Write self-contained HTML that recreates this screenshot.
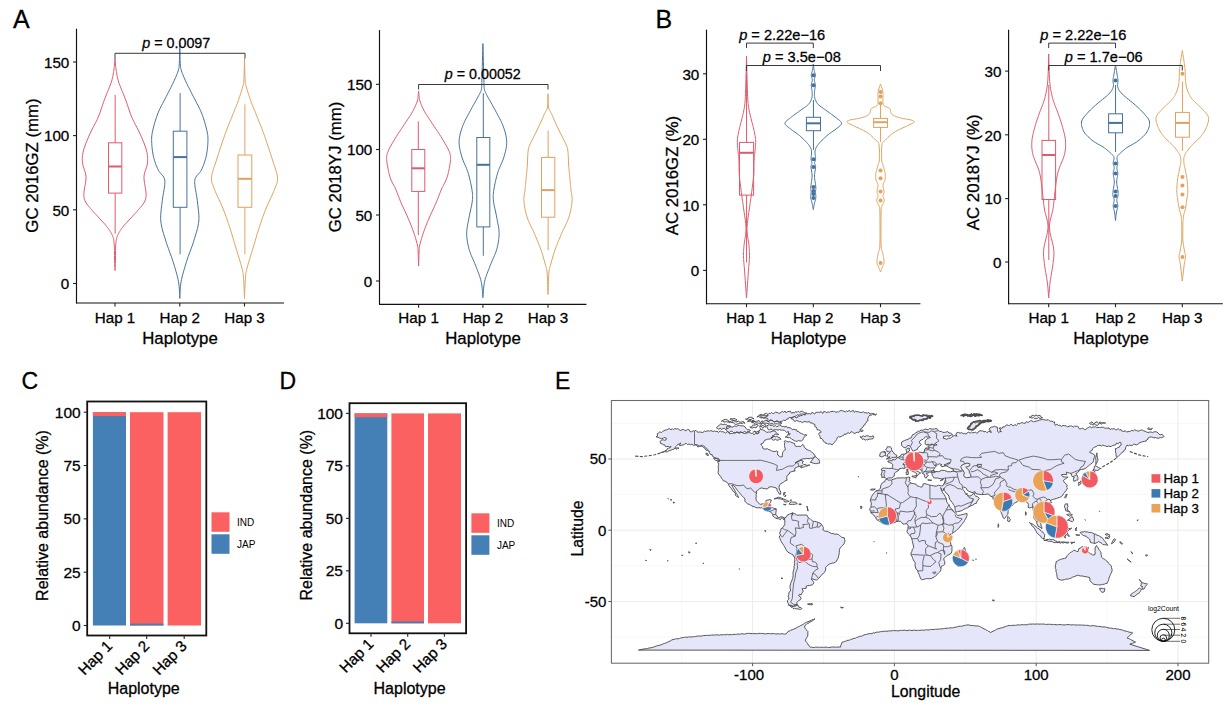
<!DOCTYPE html>
<html><head><meta charset="utf-8"><style>
html,body{margin:0;padding:0;background:#fff;}
svg{display:block;}
text{font-family:"Liberation Sans", sans-serif;fill:#000;stroke:#000;stroke-width:0.28px;}
</style></head><body>
<svg width="1230" height="714" viewBox="0 0 1230 714">
<rect width="1230" height="714" fill="#fff"/>
<text x="13" y="28" font-size="25" text-anchor="start" >A</text>
<text x="655.5" y="28" font-size="25" text-anchor="start" >B</text>
<text x="21.5" y="389" font-size="23" text-anchor="start" >C</text>
<text x="279.5" y="389" font-size="23" text-anchor="start" >D</text>
<text x="555" y="389" font-size="23" text-anchor="start" >E</text>
<line x1="76.5" y1="29" x2="76.5" y2="303" stroke="#111" stroke-width="1.15" stroke-linecap="round"/>
<line x1="76.5" y1="303" x2="283.5" y2="303" stroke="#111" stroke-width="1.15" stroke-linecap="round"/>
<line x1="73.0" y1="62" x2="76.5" y2="62" stroke="#222" stroke-width="1.1"/>
<text x="69.3" y="67.7" font-size="15.2" text-anchor="end" >150</text>
<line x1="73.0" y1="135.6" x2="76.5" y2="135.6" stroke="#222" stroke-width="1.1"/>
<text x="69.3" y="141.3" font-size="15.2" text-anchor="end" >100</text>
<line x1="73.0" y1="209.8" x2="76.5" y2="209.8" stroke="#222" stroke-width="1.1"/>
<text x="69.3" y="215.5" font-size="15.2" text-anchor="end" >50</text>
<line x1="73.0" y1="283.5" x2="76.5" y2="283.5" stroke="#222" stroke-width="1.1"/>
<text x="69.3" y="289.2" font-size="15.2" text-anchor="end" >0</text>
<line x1="115" y1="303" x2="115" y2="306.5" stroke="#222" stroke-width="1.1"/>
<text x="115" y="323" font-size="15.2" text-anchor="middle" >Hap 1</text>
<line x1="179.8" y1="303" x2="179.8" y2="306.5" stroke="#222" stroke-width="1.1"/>
<text x="179.8" y="323" font-size="15.2" text-anchor="middle" >Hap 2</text>
<line x1="244.5" y1="303" x2="244.5" y2="306.5" stroke="#222" stroke-width="1.1"/>
<text x="244.5" y="323" font-size="15.2" text-anchor="middle" >Hap 3</text>
<text x="0" y="0" font-size="16.8" text-anchor="middle" transform="translate(37.5,165.5) rotate(-90)">GC 2016GZ (mm)</text>
<text x="180" y="343.8" font-size="16.8" text-anchor="middle" >Haplotype</text>
<path d="M115.00,58.00 L115.03,58.53 L115.07,59.21 L115.11,60.01 L115.16,60.92 L115.22,61.91 L115.29,62.95 L115.39,64.02 L115.50,65.10 L115.63,66.23 L115.79,67.45 L115.96,68.74 L116.14,70.07 L116.34,71.41 L116.55,72.72 L116.77,74.00 L117.00,75.20 L117.21,76.27 L117.40,77.22 L117.58,78.10 L117.78,78.98 L118.01,79.90 L118.32,80.94 L118.70,82.15 L119.20,83.60 L119.83,85.31 L120.58,87.23 L121.42,89.32 L122.32,91.52 L123.25,93.80 L124.18,96.08 L125.07,98.33 L125.90,100.50 L126.66,102.60 L127.37,104.71 L128.06,106.81 L128.74,108.91 L129.44,111.00 L130.17,113.10 L130.95,115.20 L131.80,117.30 L132.74,119.40 L133.77,121.50 L134.85,123.60 L135.97,125.70 L137.09,127.80 L138.18,129.90 L139.23,132.00 L140.20,134.10 L141.13,136.23 L142.07,138.41 L142.99,140.61 L143.87,142.79 L144.69,144.94 L145.43,147.03 L146.08,149.02 L146.60,150.90 L147.01,152.63 L147.31,154.22 L147.53,155.71 L147.67,157.14 L147.73,158.54 L147.71,159.97 L147.64,161.44 L147.50,163.00 L147.23,164.62 L146.80,166.26 L146.26,167.92 L145.68,169.61 L145.10,171.33 L144.58,173.10 L144.20,174.92 L144.00,176.80 L144.02,178.81 L144.22,180.99 L144.54,183.25 L144.94,185.54 L145.34,187.78 L145.71,189.92 L145.98,191.88 L146.10,193.60 L146.10,195.05 L146.06,196.29 L145.96,197.36 L145.80,198.32 L145.57,199.21 L145.27,200.09 L144.88,201.00 L144.40,202.00 L143.81,203.06 L143.10,204.12 L142.29,205.18 L141.42,206.25 L140.50,207.32 L139.56,208.38 L138.61,209.44 L137.70,210.50 L136.79,211.55 L135.86,212.61 L134.91,213.66 L133.95,214.71 L132.98,215.75 L132.01,216.80 L131.05,217.85 L130.10,218.90 L129.14,219.95 L128.16,221.00 L127.17,222.05 L126.19,223.10 L125.23,224.15 L124.30,225.20 L123.42,226.25 L122.60,227.30 L121.82,228.35 L121.08,229.40 L120.36,230.45 L119.69,231.50 L119.06,232.55 L118.48,233.60 L117.96,234.65 L117.50,235.70 L117.12,236.69 L116.81,237.58 L116.56,238.43 L116.36,239.31 L116.19,240.25 L116.05,241.33 L115.93,242.60 L115.80,244.10 L115.69,245.95 L115.61,248.13 L115.55,250.53 L115.52,253.04 L115.49,255.56 L115.47,257.96 L115.44,260.15 L115.40,262.00 L115.35,263.57 L115.29,264.99 L115.23,266.25 L115.17,267.37 L115.12,268.35 L115.07,269.19 L115.03,269.91 L115.00,270.50 L115.00,270.50 L114.97,269.91 L114.93,269.19 L114.88,268.35 L114.83,267.37 L114.77,266.25 L114.71,264.99 L114.65,263.57 L114.60,262.00 L114.56,260.15 L114.53,257.96 L114.51,255.56 L114.48,253.04 L114.45,250.53 L114.39,248.13 L114.31,245.95 L114.20,244.10 L114.07,242.60 L113.95,241.33 L113.81,240.25 L113.64,239.31 L113.44,238.43 L113.19,237.58 L112.88,236.69 L112.50,235.70 L112.04,234.65 L111.52,233.60 L110.94,232.55 L110.31,231.50 L109.64,230.45 L108.92,229.40 L108.18,228.35 L107.40,227.30 L106.58,226.25 L105.70,225.20 L104.77,224.15 L103.81,223.10 L102.83,222.05 L101.84,221.00 L100.86,219.95 L99.90,218.90 L98.95,217.85 L97.99,216.80 L97.02,215.75 L96.05,214.71 L95.09,213.66 L94.14,212.61 L93.21,211.55 L92.30,210.50 L91.39,209.44 L90.44,208.38 L89.50,207.32 L88.58,206.25 L87.71,205.18 L86.90,204.12 L86.19,203.06 L85.60,202.00 L85.12,201.00 L84.73,200.09 L84.43,199.21 L84.20,198.32 L84.04,197.36 L83.94,196.29 L83.90,195.05 L83.90,193.60 L84.02,191.88 L84.29,189.92 L84.66,187.78 L85.06,185.54 L85.46,183.25 L85.78,180.99 L85.98,178.81 L86.00,176.80 L85.80,174.92 L85.42,173.10 L84.90,171.33 L84.33,169.61 L83.74,167.92 L83.20,166.26 L82.77,164.62 L82.50,163.00 L82.36,161.44 L82.29,159.97 L82.27,158.54 L82.33,157.14 L82.47,155.71 L82.69,154.22 L82.99,152.63 L83.40,150.90 L83.92,149.02 L84.57,147.03 L85.31,144.94 L86.13,142.79 L87.01,140.61 L87.93,138.41 L88.87,136.23 L89.80,134.10 L90.77,132.00 L91.82,129.90 L92.91,127.80 L94.03,125.70 L95.15,123.60 L96.23,121.50 L97.26,119.40 L98.20,117.30 L99.05,115.20 L99.83,113.10 L100.56,111.00 L101.26,108.91 L101.94,106.81 L102.63,104.71 L103.34,102.60 L104.10,100.50 L104.93,98.33 L105.82,96.08 L106.75,93.80 L107.68,91.52 L108.58,89.32 L109.42,87.23 L110.17,85.31 L110.80,83.60 L111.30,82.15 L111.68,80.94 L111.99,79.90 L112.22,78.98 L112.42,78.10 L112.60,77.22 L112.79,76.27 L113.00,75.20 L113.23,74.00 L113.45,72.72 L113.66,71.41 L113.86,70.07 L114.04,68.74 L114.21,67.45 L114.37,66.23 L114.50,65.10 L114.61,64.02 L114.71,62.95 L114.78,61.91 L114.84,60.92 L114.89,60.01 L114.93,59.21 L114.97,58.53 L115.00,58.00 Z" fill="none" stroke="#DE5A6C" stroke-width="1" stroke-linejoin="round"/>
<line x1="115.15" y1="94.9" x2="115.15" y2="142.8" stroke="#DE5A6C" stroke-width="1"/>
<line x1="115.15" y1="193.1" x2="115.15" y2="233.7" stroke="#DE5A6C" stroke-width="1"/>
<rect x="108.5" y="142.8" width="13.30" height="50.30" fill="none" stroke="#DE5A6C" stroke-width="1"/>
<line x1="108.5" y1="166.5" x2="121.8" y2="166.5" stroke="#DE5A6C" stroke-width="2.0"/>
<path d="M179.80,45.00 L179.83,46.52 L179.87,48.63 L179.92,51.14 L179.98,53.89 L180.04,56.70 L180.11,59.39 L180.20,61.78 L180.30,63.70 L180.39,65.13 L180.47,66.24 L180.55,67.11 L180.65,67.84 L180.78,68.50 L180.95,69.19 L181.19,69.99 L181.50,71.00 L181.89,72.18 L182.35,73.43 L182.86,74.74 L183.43,76.11 L184.03,77.52 L184.66,78.96 L185.32,80.42 L186.00,81.90 L186.69,83.37 L187.40,84.84 L188.14,86.32 L188.91,87.84 L189.72,89.42 L190.57,91.08 L191.46,92.83 L192.40,94.70 L193.43,96.72 L194.57,98.87 L195.77,101.13 L197.01,103.46 L198.23,105.84 L199.41,108.22 L200.52,110.59 L201.50,112.90 L202.39,115.22 L203.24,117.62 L204.03,120.04 L204.76,122.45 L205.43,124.80 L206.03,127.06 L206.56,129.17 L207.00,131.10 L207.35,132.79 L207.61,134.27 L207.79,135.59 L207.91,136.82 L207.96,138.03 L207.97,139.27 L207.95,140.60 L207.90,142.10 L207.82,143.76 L207.71,145.52 L207.55,147.36 L207.36,149.24 L207.11,151.15 L206.82,153.04 L206.49,154.90 L206.10,156.70 L205.66,158.46 L205.15,160.23 L204.59,161.99 L203.99,163.73 L203.36,165.43 L202.69,167.09 L202.00,168.68 L201.30,170.20 L200.51,171.56 L199.58,172.72 L198.59,173.79 L197.59,174.82 L196.65,175.91 L195.83,177.14 L195.19,178.57 L194.80,180.30 L194.69,182.35 L194.82,184.66 L195.12,187.17 L195.55,189.81 L196.04,192.54 L196.53,195.29 L196.97,197.99 L197.30,200.60 L197.58,203.14 L197.90,205.67 L198.23,208.21 L198.53,210.75 L198.76,213.29 L198.91,215.82 L198.94,218.36 L198.80,220.90 L198.49,223.44 L198.04,225.98 L197.46,228.52 L196.79,231.06 L196.05,233.59 L195.27,236.13 L194.48,238.67 L193.70,241.20 L192.90,243.73 L192.03,246.25 L191.11,248.78 L190.18,251.30 L189.23,253.82 L188.31,256.35 L187.42,258.87 L186.60,261.40 L185.81,263.96 L185.01,266.55 L184.24,269.16 L183.49,271.77 L182.78,274.35 L182.14,276.88 L181.58,279.33 L181.10,281.70 L180.73,284.07 L180.45,286.52 L180.25,288.96 L180.11,291.32 L180.01,293.52 L179.94,295.48 L179.87,297.14 L179.80,298.40 L179.80,298.40 L179.73,297.14 L179.66,295.48 L179.59,293.52 L179.49,291.32 L179.35,288.96 L179.15,286.52 L178.87,284.07 L178.50,281.70 L178.02,279.33 L177.46,276.88 L176.82,274.35 L176.11,271.77 L175.36,269.16 L174.59,266.55 L173.79,263.96 L173.00,261.40 L172.18,258.87 L171.29,256.35 L170.37,253.82 L169.43,251.30 L168.49,248.78 L167.57,246.25 L166.70,243.73 L165.90,241.20 L165.12,238.67 L164.33,236.13 L163.55,233.59 L162.81,231.06 L162.14,228.52 L161.56,225.98 L161.11,223.44 L160.80,220.90 L160.66,218.36 L160.69,215.82 L160.84,213.29 L161.08,210.75 L161.37,208.21 L161.70,205.67 L162.02,203.14 L162.30,200.60 L162.63,197.99 L163.07,195.29 L163.56,192.54 L164.05,189.81 L164.48,187.17 L164.78,184.66 L164.91,182.35 L164.80,180.30 L164.41,178.57 L163.77,177.14 L162.95,175.91 L162.01,174.82 L161.01,173.79 L160.02,172.72 L159.09,171.56 L158.30,170.20 L157.60,168.68 L156.91,167.09 L156.24,165.43 L155.61,163.73 L155.01,161.99 L154.45,160.23 L153.94,158.46 L153.50,156.70 L153.11,154.90 L152.78,153.04 L152.49,151.15 L152.24,149.24 L152.05,147.36 L151.89,145.52 L151.78,143.76 L151.70,142.10 L151.65,140.60 L151.63,139.27 L151.64,138.03 L151.69,136.82 L151.81,135.59 L151.99,134.27 L152.25,132.79 L152.60,131.10 L153.04,129.17 L153.57,127.06 L154.17,124.80 L154.84,122.45 L155.57,120.04 L156.36,117.62 L157.21,115.22 L158.10,112.90 L159.08,110.59 L160.19,108.22 L161.37,105.84 L162.59,103.46 L163.83,101.13 L165.03,98.87 L166.17,96.72 L167.20,94.70 L168.14,92.83 L169.03,91.08 L169.88,89.42 L170.69,87.84 L171.46,86.32 L172.20,84.84 L172.91,83.37 L173.60,81.90 L174.28,80.42 L174.94,78.96 L175.57,77.52 L176.18,76.11 L176.74,74.74 L177.25,73.43 L177.71,72.18 L178.10,71.00 L178.41,69.99 L178.65,69.19 L178.82,68.50 L178.95,67.84 L179.05,67.11 L179.13,66.24 L179.21,65.13 L179.30,63.70 L179.40,61.78 L179.49,59.39 L179.56,56.70 L179.62,53.89 L179.68,51.14 L179.73,48.63 L179.77,46.52 L179.80,45.00 Z" fill="none" stroke="#45729C" stroke-width="1" stroke-linejoin="round"/>
<line x1="180.10" y1="93.1" x2="180.10" y2="131.2" stroke="#45729C" stroke-width="1"/>
<line x1="180.10" y1="207.3" x2="180.10" y2="254.3" stroke="#45729C" stroke-width="1"/>
<rect x="173.3" y="131.2" width="13.60" height="76.10" fill="none" stroke="#45729C" stroke-width="1"/>
<line x1="173.3" y1="157.1" x2="186.9" y2="157.1" stroke="#45729C" stroke-width="2.0"/>
<path d="M244.50,58.00 L244.54,59.76 L244.59,62.19 L244.64,65.10 L244.71,68.27 L244.78,71.52 L244.87,74.62 L244.98,77.38 L245.10,79.60 L245.22,81.24 L245.34,82.50 L245.46,83.47 L245.60,84.27 L245.77,85.02 L245.99,85.82 L246.26,86.77 L246.60,88.00 L247.02,89.48 L247.51,91.11 L248.05,92.84 L248.64,94.65 L249.27,96.50 L249.91,98.37 L250.56,100.21 L251.20,102.00 L251.85,103.75 L252.53,105.50 L253.23,107.25 L253.94,109.00 L254.66,110.75 L255.38,112.50 L256.09,114.25 L256.80,116.00 L257.50,117.75 L258.22,119.50 L258.93,121.25 L259.64,123.00 L260.35,124.75 L261.05,126.50 L261.73,128.25 L262.40,130.00 L263.04,131.74 L263.67,133.45 L264.28,135.16 L264.88,136.88 L265.47,138.60 L266.07,140.36 L266.68,142.15 L267.30,144.00 L267.94,145.89 L268.58,147.82 L269.24,149.78 L269.89,151.78 L270.55,153.79 L271.21,155.84 L271.86,157.91 L272.50,160.00 L273.19,162.16 L273.95,164.42 L274.74,166.74 L275.51,169.06 L276.22,171.35 L276.82,173.57 L277.26,175.67 L277.50,177.60 L277.55,179.30 L277.45,180.78 L277.21,182.11 L276.86,183.37 L276.39,184.66 L275.84,186.04 L275.20,187.59 L274.50,189.40 L273.67,191.48 L272.68,193.75 L271.58,196.18 L270.39,198.71 L269.18,201.31 L267.98,203.92 L266.84,206.50 L265.80,209.00 L264.84,211.45 L263.93,213.90 L263.04,216.35 L262.18,218.80 L261.34,221.25 L260.51,223.70 L259.70,226.15 L258.90,228.60 L258.11,231.05 L257.35,233.50 L256.61,235.95 L255.89,238.40 L255.17,240.85 L254.45,243.30 L253.73,245.75 L253.00,248.20 L252.23,250.72 L251.42,253.33 L250.60,255.98 L249.78,258.61 L249.00,261.17 L248.27,263.59 L247.63,265.82 L247.10,267.80 L246.69,269.42 L246.38,270.68 L246.16,271.71 L245.99,272.63 L245.87,273.55 L245.76,274.61 L245.64,275.92 L245.50,277.60 L245.34,279.82 L245.18,282.51 L245.04,285.51 L244.90,288.61 L244.78,291.64 L244.67,294.40 L244.57,296.72 L244.50,298.40 L244.50,298.40 L244.43,296.72 L244.33,294.40 L244.22,291.64 L244.10,288.61 L243.96,285.51 L243.82,282.51 L243.66,279.82 L243.50,277.60 L243.36,275.92 L243.24,274.61 L243.13,273.55 L243.01,272.63 L242.84,271.71 L242.62,270.68 L242.31,269.42 L241.90,267.80 L241.37,265.82 L240.73,263.59 L240.00,261.17 L239.22,258.61 L238.40,255.98 L237.58,253.33 L236.77,250.72 L236.00,248.20 L235.27,245.75 L234.55,243.30 L233.83,240.85 L233.11,238.40 L232.39,235.95 L231.65,233.50 L230.89,231.05 L230.10,228.60 L229.30,226.15 L228.49,223.70 L227.66,221.25 L226.82,218.80 L225.96,216.35 L225.07,213.90 L224.16,211.45 L223.20,209.00 L222.16,206.50 L221.02,203.92 L219.82,201.31 L218.61,198.71 L217.42,196.18 L216.32,193.75 L215.33,191.48 L214.50,189.40 L213.80,187.59 L213.16,186.04 L212.61,184.66 L212.14,183.37 L211.79,182.11 L211.55,180.78 L211.45,179.30 L211.50,177.60 L211.74,175.67 L212.18,173.57 L212.78,171.35 L213.49,169.06 L214.26,166.74 L215.05,164.42 L215.81,162.16 L216.50,160.00 L217.14,157.91 L217.79,155.84 L218.45,153.79 L219.11,151.78 L219.76,149.78 L220.42,147.82 L221.06,145.89 L221.70,144.00 L222.32,142.15 L222.93,140.36 L223.53,138.60 L224.12,136.88 L224.72,135.16 L225.33,133.45 L225.96,131.74 L226.60,130.00 L227.27,128.25 L227.95,126.50 L228.65,124.75 L229.36,123.00 L230.07,121.25 L230.78,119.50 L231.50,117.75 L232.20,116.00 L232.91,114.25 L233.62,112.50 L234.34,110.75 L235.06,109.00 L235.77,107.25 L236.47,105.50 L237.15,103.75 L237.80,102.00 L238.44,100.21 L239.09,98.37 L239.73,96.50 L240.36,94.65 L240.95,92.84 L241.49,91.11 L241.98,89.48 L242.40,88.00 L242.74,86.77 L243.01,85.82 L243.23,85.02 L243.40,84.27 L243.54,83.47 L243.66,82.50 L243.78,81.24 L243.90,79.60 L244.02,77.38 L244.13,74.62 L244.22,71.52 L244.29,68.27 L244.36,65.10 L244.41,62.19 L244.46,59.76 L244.50,58.00 Z" fill="none" stroke="#E0A25E" stroke-width="1" stroke-linejoin="round"/>
<line x1="244.90" y1="104.4" x2="244.90" y2="155" stroke="#E0A25E" stroke-width="1"/>
<line x1="244.90" y1="207.3" x2="244.90" y2="254.3" stroke="#E0A25E" stroke-width="1"/>
<rect x="238" y="155" width="13.80" height="52.30" fill="none" stroke="#E0A25E" stroke-width="1"/>
<line x1="238" y1="178.8" x2="251.8" y2="178.8" stroke="#E0A25E" stroke-width="2.0"/>
<path d="M115,58.3 L115,53.3 L245,53.3 L245,58.3" fill="none" stroke="#3a3a3a" stroke-width="1"/>
<text x="176.3" y="47.5" font-size="14.3" text-anchor="middle"><tspan font-style="italic">p</tspan> = 0.0097</text>
<line x1="379.5" y1="30.5" x2="379.5" y2="304.3" stroke="#111" stroke-width="1.15" stroke-linecap="round"/>
<line x1="379.5" y1="304.3" x2="586" y2="304.3" stroke="#111" stroke-width="1.15" stroke-linecap="round"/>
<line x1="376.0" y1="84.3" x2="379.5" y2="84.3" stroke="#222" stroke-width="1.1"/>
<text x="372.3" y="90.0" font-size="15.2" text-anchor="end" >150</text>
<line x1="376.0" y1="149.5" x2="379.5" y2="149.5" stroke="#222" stroke-width="1.1"/>
<text x="372.3" y="155.2" font-size="15.2" text-anchor="end" >100</text>
<line x1="376.0" y1="215" x2="379.5" y2="215" stroke="#222" stroke-width="1.1"/>
<text x="372.3" y="220.7" font-size="15.2" text-anchor="end" >50</text>
<line x1="376.0" y1="281" x2="379.5" y2="281" stroke="#222" stroke-width="1.1"/>
<text x="372.3" y="286.7" font-size="15.2" text-anchor="end" >0</text>
<line x1="418.6" y1="304.3" x2="418.6" y2="307.8" stroke="#222" stroke-width="1.1"/>
<text x="418.6" y="323" font-size="15.2" text-anchor="middle" >Hap 1</text>
<line x1="482.9" y1="304.3" x2="482.9" y2="307.8" stroke="#222" stroke-width="1.1"/>
<text x="482.9" y="323" font-size="15.2" text-anchor="middle" >Hap 2</text>
<line x1="548" y1="304.3" x2="548" y2="307.8" stroke="#222" stroke-width="1.1"/>
<text x="548" y="323" font-size="15.2" text-anchor="middle" >Hap 3</text>
<text x="0" y="0" font-size="16.8" text-anchor="middle" transform="translate(340.5,167) rotate(-90)">GC 2018YJ (mm)</text>
<text x="483" y="343.8" font-size="16.8" text-anchor="middle" >Haplotype</text>
<path d="M418.60,91.00 L418.64,91.35 L418.68,91.81 L418.74,92.35 L418.80,92.96 L418.87,93.61 L418.94,94.29 L419.02,94.96 L419.10,95.60 L419.16,96.20 L419.19,96.77 L419.21,97.34 L419.24,97.92 L419.30,98.56 L419.42,99.27 L419.61,100.07 L419.90,101.00 L420.27,102.06 L420.71,103.22 L421.21,104.48 L421.76,105.81 L422.38,107.20 L423.06,108.64 L423.80,110.11 L424.60,111.60 L425.49,113.13 L426.47,114.74 L427.53,116.39 L428.65,118.08 L429.80,119.79 L430.95,121.51 L432.09,123.22 L433.20,124.90 L434.29,126.56 L435.40,128.22 L436.52,129.89 L437.63,131.55 L438.74,133.21 L439.82,134.87 L440.88,136.54 L441.90,138.20 L442.92,139.90 L443.96,141.65 L445.00,143.42 L446.01,145.18 L446.96,146.90 L447.83,148.55 L448.58,150.09 L449.20,151.50 L449.67,152.73 L450.02,153.78 L450.27,154.71 L450.43,155.58 L450.51,156.44 L450.54,157.34 L450.53,158.34 L450.50,159.50 L450.42,160.83 L450.26,162.30 L450.05,163.86 L449.79,165.47 L449.50,167.08 L449.19,168.65 L448.89,170.14 L448.60,171.50 L448.33,172.73 L448.06,173.86 L447.79,174.92 L447.51,175.94 L447.21,176.93 L446.88,177.92 L446.51,178.94 L446.10,180.00 L445.64,181.07 L445.14,182.10 L444.61,183.12 L444.04,184.16 L443.46,185.24 L442.85,186.39 L442.23,187.63 L441.60,189.00 L440.96,190.51 L440.30,192.15 L439.62,193.88 L438.92,195.69 L438.21,197.53 L437.48,199.38 L436.75,201.22 L436.00,203.00 L435.23,204.75 L434.44,206.50 L433.62,208.25 L432.80,210.00 L431.98,211.75 L431.16,213.50 L430.37,215.25 L429.60,217.00 L428.85,218.75 L428.11,220.50 L427.38,222.25 L426.66,224.00 L425.96,225.75 L425.28,227.50 L424.63,229.25 L424.00,231.00 L423.38,232.80 L422.77,234.66 L422.17,236.56 L421.59,238.44 L421.06,240.26 L420.57,241.99 L420.15,243.58 L419.80,245.00 L419.54,246.16 L419.37,247.08 L419.27,247.83 L419.22,248.50 L419.19,249.17 L419.18,249.92 L419.15,250.84 L419.10,252.00 L419.02,253.51 L418.95,255.34 L418.88,257.35 L418.81,259.44 L418.74,261.47 L418.69,263.32 L418.64,264.87 L418.60,266.00 L418.60,266.00 L418.56,264.87 L418.51,263.32 L418.46,261.47 L418.39,259.44 L418.32,257.35 L418.25,255.34 L418.18,253.51 L418.10,252.00 L418.05,250.84 L418.02,249.92 L418.01,249.17 L417.98,248.50 L417.93,247.83 L417.83,247.08 L417.66,246.16 L417.40,245.00 L417.05,243.58 L416.63,241.99 L416.14,240.26 L415.61,238.44 L415.03,236.56 L414.43,234.66 L413.82,232.80 L413.20,231.00 L412.57,229.25 L411.92,227.50 L411.24,225.75 L410.54,224.00 L409.82,222.25 L409.09,220.50 L408.35,218.75 L407.60,217.00 L406.83,215.25 L406.04,213.50 L405.22,211.75 L404.40,210.00 L403.58,208.25 L402.76,206.50 L401.97,204.75 L401.20,203.00 L400.45,201.22 L399.72,199.38 L398.99,197.53 L398.28,195.69 L397.58,193.88 L396.90,192.15 L396.24,190.51 L395.60,189.00 L394.97,187.63 L394.35,186.39 L393.74,185.24 L393.16,184.16 L392.59,183.12 L392.06,182.10 L391.56,181.07 L391.10,180.00 L390.69,178.94 L390.32,177.92 L389.99,176.93 L389.69,175.94 L389.41,174.92 L389.14,173.86 L388.87,172.73 L388.60,171.50 L388.31,170.14 L388.01,168.65 L387.70,167.08 L387.41,165.47 L387.15,163.86 L386.94,162.30 L386.78,160.83 L386.70,159.50 L386.67,158.34 L386.66,157.34 L386.69,156.44 L386.78,155.58 L386.93,154.71 L387.18,153.78 L387.53,152.73 L388.00,151.50 L388.62,150.09 L389.37,148.55 L390.24,146.90 L391.19,145.18 L392.20,143.42 L393.24,141.65 L394.28,139.90 L395.30,138.20 L396.32,136.54 L397.38,134.87 L398.46,133.21 L399.57,131.55 L400.68,129.89 L401.80,128.22 L402.91,126.56 L404.00,124.90 L405.11,123.22 L406.25,121.51 L407.40,119.79 L408.55,118.08 L409.67,116.39 L410.73,114.74 L411.71,113.13 L412.60,111.60 L413.40,110.11 L414.14,108.64 L414.82,107.20 L415.44,105.81 L415.99,104.48 L416.49,103.22 L416.93,102.06 L417.30,101.00 L417.59,100.07 L417.78,99.27 L417.90,98.56 L417.96,97.92 L417.99,97.34 L418.01,96.77 L418.04,96.20 L418.10,95.60 L418.18,94.96 L418.26,94.29 L418.33,93.61 L418.40,92.96 L418.46,92.35 L418.52,91.81 L418.56,91.35 L418.60,91.00 Z" fill="none" stroke="#DE5A6C" stroke-width="1" stroke-linejoin="round"/>
<line x1="418.30" y1="121.3" x2="418.30" y2="149.5" stroke="#DE5A6C" stroke-width="1"/>
<line x1="418.30" y1="191.4" x2="418.30" y2="235" stroke="#DE5A6C" stroke-width="1"/>
<rect x="411.8" y="149.5" width="13.00" height="41.90" fill="none" stroke="#DE5A6C" stroke-width="1"/>
<line x1="411.8" y1="168.3" x2="424.8" y2="168.3" stroke="#DE5A6C" stroke-width="2.0"/>
<path d="M482.90,43.60 L482.98,46.59 L483.09,50.78 L483.22,55.77 L483.37,61.22 L483.52,66.74 L483.66,71.95 L483.79,76.50 L483.90,80.00 L483.97,82.48 L484.01,84.31 L484.03,85.61 L484.05,86.54 L484.08,87.24 L484.14,87.84 L484.24,88.48 L484.40,89.30 L484.58,90.15 L484.76,90.83 L484.96,91.41 L485.20,91.97 L485.50,92.57 L485.89,93.30 L486.38,94.21 L487.00,95.40 L487.79,96.88 L488.73,98.59 L489.79,100.49 L490.93,102.51 L492.11,104.61 L493.29,106.73 L494.44,108.81 L495.50,110.80 L496.53,112.73 L497.58,114.67 L498.63,116.61 L499.66,118.55 L500.66,120.49 L501.59,122.43 L502.44,124.37 L503.20,126.30 L503.88,128.23 L504.52,130.16 L505.10,132.08 L505.61,134.01 L506.03,135.93 L506.37,137.85 L506.59,139.78 L506.70,141.70 L506.67,143.62 L506.52,145.55 L506.26,147.47 L505.90,149.40 L505.47,151.32 L504.98,153.25 L504.45,155.17 L503.90,157.10 L503.28,159.01 L502.56,160.90 L501.76,162.78 L500.92,164.67 L500.08,166.57 L499.25,168.50 L498.48,170.47 L497.80,172.50 L497.17,174.63 L496.57,176.88 L495.98,179.19 L495.44,181.52 L494.94,183.81 L494.49,186.03 L494.11,188.10 L493.80,190.00 L493.56,191.66 L493.38,193.11 L493.26,194.41 L493.20,195.64 L493.19,196.85 L493.24,198.12 L493.34,199.52 L493.50,201.10 L493.74,202.87 L494.07,204.77 L494.48,206.77 L494.93,208.84 L495.40,210.94 L495.87,213.06 L496.31,215.15 L496.70,217.20 L497.07,219.21 L497.47,221.22 L497.87,223.24 L498.25,225.25 L498.59,227.26 L498.86,229.28 L499.04,231.29 L499.10,233.30 L499.06,235.31 L498.93,237.33 L498.73,239.34 L498.46,241.35 L498.11,243.36 L497.70,245.38 L497.23,247.39 L496.70,249.40 L496.08,251.41 L495.34,253.43 L494.52,255.44 L493.65,257.45 L492.75,259.46 L491.86,261.48 L491.00,263.49 L490.20,265.50 L489.43,267.51 L488.65,269.52 L487.86,271.54 L487.10,273.55 L486.37,275.56 L485.70,277.57 L485.11,279.59 L484.60,281.60 L484.19,283.72 L483.86,286.00 L483.60,288.35 L483.40,290.66 L483.24,292.84 L483.11,294.81 L483.00,296.46 L482.90,297.70 L482.90,297.70 L482.80,296.46 L482.69,294.81 L482.56,292.84 L482.40,290.66 L482.20,288.35 L481.94,286.00 L481.61,283.72 L481.20,281.60 L480.69,279.59 L480.10,277.57 L479.43,275.56 L478.70,273.55 L477.94,271.54 L477.15,269.52 L476.37,267.51 L475.60,265.50 L474.80,263.49 L473.94,261.48 L473.05,259.46 L472.15,257.45 L471.28,255.44 L470.46,253.43 L469.72,251.41 L469.10,249.40 L468.57,247.39 L468.10,245.38 L467.69,243.36 L467.34,241.35 L467.07,239.34 L466.87,237.33 L466.74,235.31 L466.70,233.30 L466.76,231.29 L466.94,229.28 L467.21,227.26 L467.55,225.25 L467.93,223.24 L468.33,221.22 L468.73,219.21 L469.10,217.20 L469.49,215.15 L469.93,213.06 L470.40,210.94 L470.87,208.84 L471.32,206.77 L471.73,204.77 L472.06,202.87 L472.30,201.10 L472.46,199.52 L472.56,198.12 L472.61,196.85 L472.60,195.64 L472.54,194.41 L472.42,193.11 L472.24,191.66 L472.00,190.00 L471.69,188.10 L471.31,186.03 L470.86,183.81 L470.36,181.52 L469.82,179.19 L469.23,176.88 L468.63,174.63 L468.00,172.50 L467.32,170.47 L466.55,168.50 L465.72,166.57 L464.88,164.67 L464.04,162.78 L463.24,160.90 L462.52,159.01 L461.90,157.10 L461.35,155.17 L460.82,153.25 L460.33,151.32 L459.90,149.40 L459.54,147.47 L459.28,145.55 L459.13,143.62 L459.10,141.70 L459.21,139.78 L459.43,137.85 L459.77,135.93 L460.19,134.01 L460.70,132.08 L461.28,130.16 L461.92,128.23 L462.60,126.30 L463.36,124.37 L464.21,122.43 L465.14,120.49 L466.14,118.55 L467.17,116.61 L468.22,114.67 L469.27,112.73 L470.30,110.80 L471.36,108.81 L472.51,106.73 L473.69,104.61 L474.87,102.51 L476.01,100.49 L477.07,98.59 L478.01,96.88 L478.80,95.40 L479.42,94.21 L479.91,93.30 L480.30,92.57 L480.60,91.97 L480.84,91.41 L481.04,90.83 L481.22,90.15 L481.40,89.30 L481.56,88.48 L481.66,87.84 L481.72,87.24 L481.75,86.54 L481.77,85.61 L481.79,84.31 L481.83,82.48 L481.90,80.00 L482.01,76.50 L482.14,71.95 L482.28,66.74 L482.43,61.22 L482.58,55.77 L482.71,50.78 L482.82,46.59 L482.90,43.60 Z" fill="none" stroke="#45729C" stroke-width="1" stroke-linejoin="round"/>
<line x1="483.30" y1="93.1" x2="483.30" y2="137.5" stroke="#45729C" stroke-width="1"/>
<line x1="483.30" y1="226.9" x2="483.30" y2="255.8" stroke="#45729C" stroke-width="1"/>
<rect x="476.8" y="137.5" width="13.00" height="89.40" fill="none" stroke="#45729C" stroke-width="1"/>
<line x1="476.8" y1="164.8" x2="489.8" y2="164.8" stroke="#45729C" stroke-width="2.0"/>
<path d="M548.00,93.80 L548.02,94.86 L548.02,96.31 L548.03,98.04 L548.04,99.94 L548.09,101.89 L548.17,103.80 L548.30,105.54 L548.50,107.00 L548.76,108.15 L549.05,109.09 L549.39,109.88 L549.77,110.61 L550.20,111.35 L550.68,112.17 L551.21,113.17 L551.80,114.40 L552.46,115.89 L553.20,117.56 L554.00,119.38 L554.85,121.29 L555.73,123.27 L556.62,125.25 L557.52,127.21 L558.40,129.10 L559.31,130.99 L560.30,132.95 L561.31,134.93 L562.33,136.91 L563.31,138.82 L564.22,140.64 L565.03,142.31 L565.70,143.80 L566.23,145.02 L566.64,145.99 L566.96,146.79 L567.21,147.50 L567.40,148.21 L567.57,149.01 L567.73,149.98 L567.90,151.20 L568.06,152.69 L568.18,154.36 L568.28,156.18 L568.35,158.09 L568.42,160.07 L568.49,162.05 L568.58,164.01 L568.70,165.90 L568.85,167.77 L569.02,169.70 L569.20,171.65 L569.39,173.58 L569.59,175.48 L569.77,177.30 L569.94,179.02 L570.10,180.60 L570.24,182.02 L570.36,183.28 L570.47,184.44 L570.57,185.53 L570.67,186.58 L570.77,187.65 L570.88,188.78 L571.00,190.00 L571.16,191.27 L571.36,192.54 L571.59,193.82 L571.81,195.13 L571.99,196.50 L572.12,197.93 L572.17,199.46 L572.10,201.10 L571.93,202.87 L571.70,204.77 L571.39,206.77 L571.02,208.84 L570.58,210.94 L570.08,213.06 L569.52,215.15 L568.90,217.20 L568.19,219.21 L567.36,221.22 L566.46,223.24 L565.51,225.25 L564.52,227.26 L563.54,229.28 L562.59,231.29 L561.70,233.30 L560.84,235.31 L559.99,237.33 L559.14,239.34 L558.30,241.35 L557.48,243.36 L556.69,245.38 L555.93,247.39 L555.20,249.40 L554.50,251.47 L553.81,253.61 L553.13,255.79 L552.49,257.96 L551.89,260.06 L551.34,262.04 L550.84,263.88 L550.40,265.50 L550.04,266.80 L549.76,267.77 L549.53,268.53 L549.35,269.20 L549.20,269.91 L549.07,270.78 L548.94,271.94 L548.80,273.50 L548.66,275.64 L548.52,278.31 L548.41,281.31 L548.30,284.45 L548.21,287.53 L548.12,290.34 L548.06,292.70 L548.00,294.40 L548.00,294.40 L547.94,292.70 L547.88,290.34 L547.79,287.53 L547.70,284.45 L547.59,281.31 L547.48,278.31 L547.34,275.64 L547.20,273.50 L547.06,271.94 L546.93,270.78 L546.80,269.91 L546.65,269.20 L546.47,268.53 L546.24,267.77 L545.96,266.80 L545.60,265.50 L545.16,263.88 L544.66,262.04 L544.11,260.06 L543.51,257.96 L542.87,255.79 L542.19,253.61 L541.50,251.47 L540.80,249.40 L540.07,247.39 L539.31,245.38 L538.52,243.36 L537.70,241.35 L536.86,239.34 L536.01,237.33 L535.16,235.31 L534.30,233.30 L533.41,231.29 L532.46,229.28 L531.48,227.26 L530.49,225.25 L529.54,223.24 L528.64,221.22 L527.81,219.21 L527.10,217.20 L526.48,215.15 L525.92,213.06 L525.42,210.94 L524.98,208.84 L524.61,206.77 L524.30,204.77 L524.07,202.87 L523.90,201.10 L523.83,199.46 L523.88,197.93 L524.01,196.50 L524.19,195.13 L524.41,193.82 L524.64,192.54 L524.84,191.27 L525.00,190.00 L525.12,188.78 L525.23,187.65 L525.33,186.58 L525.43,185.53 L525.53,184.44 L525.64,183.28 L525.76,182.02 L525.90,180.60 L526.06,179.02 L526.23,177.30 L526.41,175.48 L526.61,173.58 L526.80,171.65 L526.98,169.70 L527.15,167.77 L527.30,165.90 L527.42,164.01 L527.51,162.05 L527.58,160.07 L527.65,158.09 L527.72,156.18 L527.82,154.36 L527.94,152.69 L528.10,151.20 L528.27,149.98 L528.43,149.01 L528.60,148.21 L528.79,147.50 L529.04,146.79 L529.36,145.99 L529.77,145.02 L530.30,143.80 L530.97,142.31 L531.78,140.64 L532.69,138.82 L533.67,136.91 L534.69,134.93 L535.70,132.95 L536.69,130.99 L537.60,129.10 L538.48,127.21 L539.38,125.25 L540.27,123.27 L541.15,121.29 L542.00,119.38 L542.80,117.56 L543.54,115.89 L544.20,114.40 L544.79,113.17 L545.32,112.17 L545.80,111.35 L546.23,110.61 L546.61,109.88 L546.95,109.09 L547.24,108.15 L547.50,107.00 L547.70,105.54 L547.83,103.80 L547.91,101.89 L547.96,99.94 L547.97,98.04 L547.98,96.31 L547.98,94.86 L548.00,93.80 Z" fill="none" stroke="#E0A25E" stroke-width="1" stroke-linejoin="round"/>
<line x1="548.15" y1="130.6" x2="548.15" y2="157.4" stroke="#E0A25E" stroke-width="1"/>
<line x1="548.15" y1="217.2" x2="548.15" y2="250.2" stroke="#E0A25E" stroke-width="1"/>
<rect x="541.5" y="157.4" width="13.30" height="59.80" fill="none" stroke="#E0A25E" stroke-width="1"/>
<line x1="541.5" y1="190.1" x2="554.8" y2="190.1" stroke="#E0A25E" stroke-width="2.0"/>
<path d="M418.6,89.5 L418.6,84.5 L548,84.5 L548,89.5" fill="none" stroke="#3a3a3a" stroke-width="1"/>
<text x="482.8" y="79" font-size="14.3" text-anchor="middle"><tspan font-style="italic">p</tspan> = 0.00052</text>
<line x1="706.5" y1="30" x2="706.5" y2="303.7" stroke="#111" stroke-width="1.15" stroke-linecap="round"/>
<line x1="706.5" y1="303.7" x2="920" y2="303.7" stroke="#111" stroke-width="1.15" stroke-linecap="round"/>
<line x1="703.0" y1="73.8" x2="706.5" y2="73.8" stroke="#222" stroke-width="1.1"/>
<text x="699.3" y="79.5" font-size="15.2" text-anchor="end" >30</text>
<line x1="703.0" y1="139.3" x2="706.5" y2="139.3" stroke="#222" stroke-width="1.1"/>
<text x="699.3" y="145.0" font-size="15.2" text-anchor="end" >20</text>
<line x1="703.0" y1="204.8" x2="706.5" y2="204.8" stroke="#222" stroke-width="1.1"/>
<text x="699.3" y="210.5" font-size="15.2" text-anchor="end" >10</text>
<line x1="703.0" y1="270.4" x2="706.5" y2="270.4" stroke="#222" stroke-width="1.1"/>
<text x="699.3" y="276.1" font-size="15.2" text-anchor="end" >0</text>
<line x1="746.5" y1="303.7" x2="746.5" y2="307.2" stroke="#222" stroke-width="1.1"/>
<text x="746.5" y="323" font-size="15.2" text-anchor="middle" >Hap 1</text>
<line x1="813.3" y1="303.7" x2="813.3" y2="307.2" stroke="#222" stroke-width="1.1"/>
<text x="813.3" y="323" font-size="15.2" text-anchor="middle" >Hap 2</text>
<line x1="880.5" y1="303.7" x2="880.5" y2="307.2" stroke="#222" stroke-width="1.1"/>
<text x="880.5" y="323" font-size="15.2" text-anchor="middle" >Hap 3</text>
<text x="0" y="0" font-size="16.8" text-anchor="middle" transform="translate(678,175.5) rotate(-90)">AC 2016GZ (%)</text>
<text x="808.5" y="343.8" font-size="16.8" text-anchor="middle" >Haplotype</text>
<path d="M746.50,56.00 L746.58,59.07 L746.67,63.33 L746.79,68.42 L746.92,73.97 L747.07,79.64 L747.21,85.06 L747.36,89.86 L747.50,93.70 L747.63,96.60 L747.75,98.91 L747.87,100.76 L747.99,102.29 L748.13,103.62 L748.29,104.88 L748.48,106.19 L748.70,107.70 L748.97,109.33 L749.27,110.94 L749.61,112.52 L749.96,114.08 L750.33,115.60 L750.70,117.10 L751.06,118.57 L751.40,120.00 L751.74,121.39 L752.08,122.73 L752.42,124.03 L752.76,125.31 L753.10,126.57 L753.42,127.83 L753.72,129.10 L754.00,130.40 L754.27,131.70 L754.55,133.00 L754.82,134.29 L755.07,135.59 L755.29,136.90 L755.48,138.23 L755.62,139.60 L755.70,141.00 L755.71,142.47 L755.66,144.02 L755.55,145.61 L755.41,147.21 L755.24,148.80 L755.08,150.35 L754.93,151.83 L754.80,153.20 L754.69,154.43 L754.58,155.54 L754.47,156.56 L754.36,157.55 L754.26,158.54 L754.16,159.58 L754.08,160.72 L754.00,162.00 L753.95,163.38 L753.94,164.79 L753.94,166.26 L753.95,167.80 L753.94,169.43 L753.91,171.16 L753.83,173.01 L753.70,175.00 L753.50,177.21 L753.23,179.68 L752.93,182.30 L752.59,185.01 L752.25,187.72 L751.91,190.34 L751.59,192.80 L751.30,195.00 L751.05,196.89 L750.82,198.52 L750.61,199.98 L750.41,201.35 L750.20,202.73 L749.99,204.21 L749.75,205.87 L749.50,207.80 L749.19,210.04 L748.82,212.53 L748.42,215.18 L748.01,217.94 L747.64,220.73 L747.33,223.48 L747.10,226.13 L747.00,228.60 L747.04,230.95 L747.22,233.25 L747.49,235.50 L747.81,237.69 L748.16,239.81 L748.50,241.84 L748.79,243.77 L749.00,245.60 L749.14,247.27 L749.27,248.78 L749.36,250.17 L749.44,251.49 L749.49,252.77 L749.52,254.07 L749.52,255.44 L749.50,256.90 L749.45,258.36 L749.38,259.72 L749.28,261.06 L749.16,262.46 L749.01,263.99 L748.86,265.72 L748.68,267.73 L748.50,270.10 L748.28,273.07 L748.02,276.70 L747.74,280.71 L747.44,284.88 L747.15,288.93 L746.88,292.64 L746.66,295.75 L746.50,298.00 L746.50,298.00 L746.34,295.75 L746.12,292.64 L745.85,288.93 L745.56,284.88 L745.26,280.71 L744.98,276.70 L744.72,273.07 L744.50,270.10 L744.32,267.73 L744.14,265.72 L743.99,263.99 L743.84,262.46 L743.72,261.06 L743.62,259.72 L743.55,258.36 L743.50,256.90 L743.48,255.44 L743.48,254.07 L743.51,252.77 L743.56,251.49 L743.64,250.17 L743.73,248.78 L743.86,247.27 L744.00,245.60 L744.21,243.77 L744.50,241.84 L744.84,239.81 L745.19,237.69 L745.51,235.50 L745.78,233.25 L745.96,230.95 L746.00,228.60 L745.90,226.13 L745.67,223.48 L745.36,220.73 L744.99,217.94 L744.58,215.18 L744.18,212.53 L743.81,210.04 L743.50,207.80 L743.25,205.87 L743.01,204.21 L742.80,202.73 L742.59,201.35 L742.39,199.98 L742.18,198.52 L741.95,196.89 L741.70,195.00 L741.41,192.80 L741.09,190.34 L740.75,187.72 L740.41,185.01 L740.07,182.30 L739.77,179.68 L739.50,177.21 L739.30,175.00 L739.17,173.01 L739.09,171.16 L739.06,169.43 L739.05,167.80 L739.06,166.26 L739.06,164.79 L739.05,163.38 L739.00,162.00 L738.92,160.72 L738.84,159.58 L738.74,158.54 L738.64,157.55 L738.53,156.56 L738.42,155.54 L738.31,154.43 L738.20,153.20 L738.07,151.83 L737.92,150.35 L737.76,148.80 L737.59,147.21 L737.45,145.61 L737.34,144.02 L737.29,142.47 L737.30,141.00 L737.38,139.60 L737.52,138.23 L737.71,136.90 L737.93,135.59 L738.18,134.29 L738.45,133.00 L738.73,131.70 L739.00,130.40 L739.28,129.10 L739.58,127.83 L739.90,126.57 L740.24,125.31 L740.58,124.03 L740.92,122.73 L741.26,121.39 L741.60,120.00 L741.94,118.57 L742.30,117.10 L742.67,115.60 L743.04,114.08 L743.39,112.52 L743.73,110.94 L744.03,109.33 L744.30,107.70 L744.52,106.19 L744.71,104.88 L744.87,103.62 L745.01,102.29 L745.13,100.76 L745.25,98.91 L745.37,96.60 L745.50,93.70 L745.64,89.86 L745.79,85.06 L745.93,79.64 L746.08,73.97 L746.21,68.42 L746.33,63.33 L746.42,59.07 L746.50,56.00 Z" fill="none" stroke="#DE5A6C" stroke-width="1" stroke-linejoin="round"/>
<line x1="746.55" y1="73" x2="746.55" y2="142.4" stroke="#DE5A6C" stroke-width="1"/>
<line x1="746.55" y1="195.1" x2="746.55" y2="262.5" stroke="#DE5A6C" stroke-width="1"/>
<rect x="739.5" y="142.4" width="14.10" height="52.70" fill="none" stroke="#DE5A6C" stroke-width="1"/>
<line x1="739.5" y1="152.8" x2="753.6" y2="152.8" stroke="#DE5A6C" stroke-width="2.0"/>
<path d="M813.30,64.00 L813.36,64.47 L813.43,65.10 L813.52,65.85 L813.62,66.67 L813.74,67.54 L813.85,68.42 L813.98,69.25 L814.10,70.00 L814.25,70.69 L814.42,71.37 L814.62,72.03 L814.81,72.68 L814.99,73.31 L815.15,73.95 L815.25,74.57 L815.30,75.20 L815.27,75.82 L815.16,76.42 L815.00,77.01 L814.81,77.60 L814.63,78.19 L814.46,78.78 L814.34,79.38 L814.30,80.00 L814.34,80.62 L814.45,81.23 L814.61,81.85 L814.79,82.48 L814.97,83.12 L815.13,83.78 L815.25,84.47 L815.30,85.20 L815.28,85.98 L815.20,86.81 L815.08,87.67 L814.94,88.55 L814.80,89.44 L814.66,90.32 L814.56,91.18 L814.50,92.00 L814.46,92.79 L814.43,93.55 L814.40,94.30 L814.39,95.03 L814.42,95.76 L814.49,96.50 L814.61,97.24 L814.80,98.00 L815.03,98.77 L815.28,99.54 L815.57,100.32 L815.91,101.11 L816.32,101.90 L816.81,102.69 L817.40,103.49 L818.10,104.30 L818.94,105.12 L819.93,105.95 L821.02,106.78 L822.19,107.62 L823.41,108.47 L824.64,109.32 L825.84,110.16 L827.00,111.00 L828.14,111.85 L829.32,112.70 L830.52,113.56 L831.71,114.42 L832.87,115.27 L833.99,116.10 L835.04,116.92 L836.00,117.70 L836.94,118.45 L837.90,119.17 L838.84,119.88 L839.71,120.56 L840.47,121.24 L841.07,121.92 L841.46,122.60 L841.60,123.30 L841.46,124.00 L841.07,124.70 L840.47,125.39 L839.71,126.09 L838.84,126.79 L837.90,127.51 L836.94,128.24 L836.00,129.00 L835.04,129.77 L833.99,130.53 L832.87,131.30 L831.71,132.09 L830.52,132.91 L829.32,133.76 L828.14,134.65 L827.00,135.60 L825.84,136.63 L824.63,137.74 L823.40,138.91 L822.17,140.11 L821.00,141.31 L819.91,142.48 L818.93,143.58 L818.10,144.60 L817.42,145.51 L816.85,146.34 L816.39,147.11 L816.01,147.85 L815.71,148.58 L815.47,149.33 L815.27,150.13 L815.10,151.00 L815.01,151.97 L815.01,153.03 L815.10,154.14 L815.22,155.26 L815.37,156.37 L815.50,157.42 L815.59,158.37 L815.60,159.20 L815.53,159.88 L815.41,160.45 L815.25,160.94 L815.07,161.36 L814.89,161.75 L814.74,162.14 L814.64,162.55 L814.60,163.00 L814.64,163.46 L814.76,163.87 L814.92,164.27 L815.11,164.68 L815.29,165.12 L815.45,165.64 L815.56,166.26 L815.60,167.00 L815.55,167.87 L815.42,168.85 L815.24,169.92 L815.03,171.06 L814.83,172.26 L814.66,173.49 L814.54,174.75 L814.50,176.00 L814.56,177.32 L814.69,178.75 L814.88,180.24 L815.10,181.75 L815.32,183.23 L815.53,184.62 L815.70,185.90 L815.80,187.00 L815.83,187.91 L815.82,188.65 L815.78,189.27 L815.71,189.81 L815.64,190.32 L815.57,190.82 L815.52,191.37 L815.50,192.00 L815.52,192.70 L815.57,193.43 L815.65,194.18 L815.72,194.94 L815.79,195.71 L815.84,196.48 L815.84,197.24 L815.80,198.00 L815.70,198.75 L815.54,199.51 L815.35,200.27 L815.13,201.03 L814.90,201.78 L814.68,202.53 L814.48,203.27 L814.30,204.00 L814.14,204.76 L813.99,205.56 L813.84,206.38 L813.71,207.18 L813.58,207.93 L813.47,208.60 L813.37,209.17 L813.30,209.60 L813.30,209.60 L813.23,209.17 L813.13,208.60 L813.02,207.93 L812.89,207.18 L812.76,206.38 L812.61,205.56 L812.46,204.76 L812.30,204.00 L812.12,203.27 L811.92,202.53 L811.70,201.78 L811.47,201.03 L811.25,200.27 L811.06,199.51 L810.90,198.75 L810.80,198.00 L810.76,197.24 L810.76,196.48 L810.81,195.71 L810.88,194.94 L810.95,194.18 L811.02,193.43 L811.08,192.70 L811.10,192.00 L811.08,191.37 L811.03,190.82 L810.96,190.32 L810.89,189.81 L810.82,189.27 L810.78,188.65 L810.77,187.91 L810.80,187.00 L810.90,185.90 L811.07,184.62 L811.28,183.23 L811.50,181.75 L811.72,180.24 L811.91,178.75 L812.04,177.32 L812.10,176.00 L812.06,174.75 L811.94,173.49 L811.77,172.26 L811.57,171.06 L811.36,169.92 L811.18,168.85 L811.05,167.87 L811.00,167.00 L811.04,166.26 L811.15,165.64 L811.31,165.12 L811.49,164.68 L811.68,164.27 L811.84,163.87 L811.96,163.46 L812.00,163.00 L811.96,162.55 L811.86,162.14 L811.71,161.75 L811.53,161.36 L811.35,160.94 L811.19,160.45 L811.07,159.88 L811.00,159.20 L811.01,158.37 L811.10,157.42 L811.23,156.37 L811.38,155.26 L811.50,154.14 L811.59,153.03 L811.59,151.97 L811.50,151.00 L811.33,150.13 L811.13,149.33 L810.89,148.58 L810.59,147.85 L810.21,147.11 L809.75,146.34 L809.18,145.51 L808.50,144.60 L807.67,143.58 L806.69,142.48 L805.60,141.31 L804.42,140.11 L803.20,138.91 L801.97,137.74 L800.76,136.63 L799.60,135.60 L798.46,134.65 L797.28,133.76 L796.08,132.91 L794.89,132.09 L793.73,131.30 L792.61,130.53 L791.56,129.77 L790.60,129.00 L789.66,128.24 L788.70,127.51 L787.76,126.79 L786.89,126.09 L786.13,125.39 L785.53,124.70 L785.14,124.00 L785.00,123.30 L785.14,122.60 L785.53,121.92 L786.13,121.24 L786.89,120.56 L787.76,119.88 L788.70,119.17 L789.66,118.45 L790.60,117.70 L791.56,116.92 L792.61,116.10 L793.73,115.27 L794.89,114.42 L796.08,113.56 L797.28,112.70 L798.46,111.85 L799.60,111.00 L800.76,110.16 L801.96,109.32 L803.19,108.47 L804.41,107.62 L805.58,106.78 L806.67,105.95 L807.66,105.12 L808.50,104.30 L809.20,103.49 L809.79,102.69 L810.28,101.90 L810.69,101.11 L811.03,100.32 L811.32,99.54 L811.57,98.77 L811.80,98.00 L811.99,97.24 L812.11,96.50 L812.18,95.76 L812.21,95.03 L812.20,94.30 L812.17,93.55 L812.14,92.79 L812.10,92.00 L812.04,91.18 L811.94,90.32 L811.80,89.44 L811.66,88.55 L811.52,87.67 L811.40,86.81 L811.32,85.98 L811.30,85.20 L811.35,84.47 L811.47,83.78 L811.63,83.12 L811.81,82.48 L811.99,81.85 L812.15,81.23 L812.26,80.62 L812.30,80.00 L812.26,79.38 L812.14,78.78 L811.97,78.19 L811.79,77.60 L811.60,77.01 L811.44,76.42 L811.33,75.82 L811.30,75.20 L811.35,74.57 L811.45,73.95 L811.61,73.31 L811.79,72.68 L811.98,72.03 L812.18,71.37 L812.35,70.69 L812.50,70.00 L812.62,69.25 L812.75,68.42 L812.86,67.54 L812.97,66.67 L813.08,65.85 L813.17,65.10 L813.24,64.47 L813.30,64.00 Z" fill="none" stroke="#45729C" stroke-width="1" stroke-linejoin="round"/>
<line x1="813.45" y1="100" x2="813.45" y2="117.3" stroke="#45729C" stroke-width="1"/>
<line x1="813.45" y1="130.7" x2="813.45" y2="150" stroke="#45729C" stroke-width="1"/>
<rect x="806.4" y="117.3" width="14.10" height="13.40" fill="none" stroke="#45729C" stroke-width="1"/>
<line x1="806.4" y1="123.3" x2="820.5" y2="123.3" stroke="#45729C" stroke-width="2.0"/>
<circle cx="813.45" cy="75.2" r="2" fill="#45729C"/>
<circle cx="813.45" cy="85.2" r="2" fill="#45729C"/>
<circle cx="813.45" cy="159.2" r="2" fill="#45729C"/>
<circle cx="813.45" cy="167" r="2" fill="#45729C"/>
<circle cx="813.45" cy="187" r="2" fill="#45729C"/>
<circle cx="813.45" cy="191" r="2" fill="#45729C"/>
<circle cx="813.45" cy="194" r="2" fill="#45729C"/>
<circle cx="813.45" cy="198" r="2" fill="#45729C"/>
<path d="M880.50,84.10 L880.68,84.62 L880.94,85.33 L881.25,86.17 L881.58,87.10 L881.92,88.07 L882.23,89.05 L882.50,89.97 L882.70,90.80 L882.83,91.54 L882.92,92.25 L882.96,92.93 L882.99,93.59 L882.99,94.26 L882.99,94.94 L882.99,95.65 L883.00,96.40 L883.00,97.22 L882.99,98.11 L882.96,99.04 L882.92,99.98 L882.90,100.89 L882.90,101.75 L882.93,102.53 L883.00,103.20 L883.09,103.74 L883.18,104.18 L883.29,104.54 L883.42,104.85 L883.59,105.13 L883.82,105.39 L884.12,105.68 L884.50,106.00 L885.00,106.33 L885.63,106.63 L886.35,106.93 L887.11,107.22 L887.87,107.54 L888.60,107.90 L889.26,108.32 L889.80,108.80 L890.18,109.38 L890.42,110.05 L890.58,110.78 L890.70,111.55 L890.85,112.32 L891.08,113.07 L891.44,113.78 L892.00,114.40 L892.75,114.96 L893.63,115.48 L894.63,115.97 L895.73,116.43 L896.88,116.86 L898.08,117.26 L899.29,117.64 L900.50,118.00 L901.78,118.33 L903.18,118.61 L904.66,118.86 L906.15,119.09 L907.60,119.31 L908.94,119.52 L910.13,119.75 L911.10,120.00 L911.89,120.26 L912.58,120.51 L913.16,120.76 L913.61,121.01 L913.92,121.28 L914.10,121.56 L914.13,121.87 L914.00,122.20 L913.70,122.55 L913.24,122.89 L912.63,123.24 L911.88,123.62 L910.99,124.03 L910.00,124.49 L908.89,125.01 L907.70,125.60 L906.33,126.27 L904.72,127.02 L902.96,127.82 L901.11,128.67 L899.24,129.56 L897.42,130.47 L895.72,131.39 L894.20,132.30 L892.83,133.24 L891.52,134.25 L890.28,135.29 L889.11,136.34 L888.03,137.37 L887.02,138.36 L886.11,139.28 L885.30,140.10 L884.60,140.75 L884.01,141.20 L883.52,141.55 L883.11,141.87 L882.77,142.26 L882.48,142.79 L882.23,143.54 L882.00,144.60 L881.81,146.07 L881.68,147.93 L881.60,150.03 L881.56,152.27 L881.56,154.51 L881.59,156.63 L881.64,158.50 L881.70,160.00 L881.78,161.12 L881.91,161.97 L882.06,162.62 L882.24,163.12 L882.43,163.55 L882.62,163.97 L882.82,164.43 L883.00,165.00 L883.18,165.66 L883.38,166.34 L883.58,167.03 L883.78,167.73 L883.98,168.42 L884.17,169.10 L884.34,169.76 L884.50,170.40 L884.64,171.01 L884.77,171.60 L884.90,172.17 L885.01,172.73 L885.11,173.28 L885.19,173.84 L885.26,174.41 L885.30,175.00 L885.33,175.61 L885.34,176.22 L885.34,176.85 L885.33,177.47 L885.29,178.11 L885.22,178.74 L885.13,179.37 L885.00,180.00 L884.81,180.61 L884.55,181.21 L884.24,181.80 L883.92,182.40 L883.60,183.01 L883.33,183.64 L883.12,184.30 L883.00,185.00 L883.00,185.76 L883.09,186.59 L883.24,187.45 L883.44,188.34 L883.64,189.22 L883.82,190.07 L883.95,190.87 L884.00,191.60 L883.95,192.25 L883.84,192.85 L883.67,193.40 L883.48,193.93 L883.29,194.43 L883.14,194.94 L883.03,195.46 L883.00,196.00 L883.08,196.56 L883.25,197.12 L883.48,197.68 L883.73,198.24 L883.98,198.81 L884.17,199.39 L884.29,199.99 L884.30,200.60 L884.18,201.23 L883.95,201.88 L883.64,202.54 L883.29,203.21 L882.92,203.90 L882.56,204.59 L882.25,205.29 L882.00,206.00 L881.81,206.54 L881.66,206.83 L881.52,207.02 L881.41,207.28 L881.31,207.75 L881.23,208.59 L881.16,209.95 L881.10,212.00 L881.05,215.01 L881.00,218.96 L880.97,223.54 L880.96,228.44 L880.96,233.34 L880.98,237.95 L881.03,241.93 L881.10,245.00 L881.21,247.13 L881.36,248.62 L881.54,249.62 L881.74,250.25 L881.94,250.66 L882.15,251.00 L882.33,251.40 L882.50,252.00 L882.65,252.71 L882.79,253.37 L882.93,253.98 L883.06,254.56 L883.18,255.14 L883.29,255.73 L883.40,256.34 L883.50,257.00 L883.60,257.71 L883.72,258.45 L883.83,259.22 L883.94,260.00 L884.02,260.78 L884.06,261.55 L884.06,262.29 L884.00,263.00 L883.87,263.68 L883.66,264.34 L883.41,264.99 L883.12,265.62 L882.82,266.24 L882.52,266.84 L882.24,267.43 L882.00,268.00 L881.78,268.58 L881.55,269.16 L881.33,269.75 L881.12,270.31 L880.93,270.84 L880.76,271.30 L880.61,271.70 L880.50,272.00 L880.50,272.00 L880.39,271.70 L880.24,271.30 L880.07,270.84 L879.88,270.31 L879.67,269.75 L879.45,269.16 L879.22,268.58 L879.00,268.00 L878.76,267.43 L878.48,266.84 L878.18,266.24 L877.88,265.62 L877.59,264.99 L877.34,264.34 L877.13,263.68 L877.00,263.00 L876.94,262.29 L876.94,261.55 L876.98,260.78 L877.06,260.00 L877.17,259.22 L877.28,258.45 L877.40,257.71 L877.50,257.00 L877.60,256.34 L877.71,255.73 L877.82,255.14 L877.94,254.56 L878.07,253.98 L878.21,253.37 L878.35,252.71 L878.50,252.00 L878.67,251.40 L878.85,251.00 L879.06,250.66 L879.26,250.25 L879.46,249.62 L879.64,248.62 L879.79,247.13 L879.90,245.00 L879.97,241.93 L880.02,237.95 L880.04,233.34 L880.04,228.44 L880.03,223.54 L880.00,218.96 L879.95,215.01 L879.90,212.00 L879.84,209.95 L879.77,208.59 L879.69,207.75 L879.59,207.28 L879.48,207.02 L879.34,206.83 L879.19,206.54 L879.00,206.00 L878.75,205.29 L878.44,204.59 L878.08,203.90 L877.71,203.21 L877.36,202.54 L877.05,201.88 L876.82,201.23 L876.70,200.60 L876.71,199.99 L876.83,199.39 L877.02,198.81 L877.27,198.24 L877.52,197.68 L877.75,197.12 L877.92,196.56 L878.00,196.00 L877.97,195.46 L877.86,194.94 L877.71,194.43 L877.52,193.93 L877.33,193.40 L877.16,192.85 L877.05,192.25 L877.00,191.60 L877.05,190.87 L877.18,190.07 L877.36,189.22 L877.56,188.34 L877.76,187.45 L877.91,186.59 L878.00,185.76 L878.00,185.00 L877.88,184.30 L877.67,183.64 L877.40,183.01 L877.08,182.40 L876.76,181.80 L876.45,181.21 L876.19,180.61 L876.00,180.00 L875.87,179.37 L875.78,178.74 L875.71,178.11 L875.67,177.47 L875.66,176.85 L875.66,176.22 L875.67,175.61 L875.70,175.00 L875.74,174.41 L875.81,173.84 L875.89,173.28 L875.99,172.73 L876.10,172.17 L876.23,171.60 L876.36,171.01 L876.50,170.40 L876.66,169.76 L876.83,169.10 L877.02,168.42 L877.22,167.73 L877.42,167.03 L877.62,166.34 L877.82,165.66 L878.00,165.00 L878.18,164.43 L878.38,163.97 L878.57,163.55 L878.76,163.12 L878.94,162.62 L879.09,161.97 L879.22,161.12 L879.30,160.00 L879.36,158.50 L879.41,156.63 L879.44,154.51 L879.44,152.27 L879.40,150.03 L879.32,147.93 L879.19,146.07 L879.00,144.60 L878.77,143.54 L878.52,142.79 L878.23,142.26 L877.89,141.87 L877.48,141.55 L876.99,141.20 L876.40,140.75 L875.70,140.10 L874.89,139.28 L873.98,138.36 L872.97,137.37 L871.89,136.34 L870.72,135.29 L869.48,134.25 L868.17,133.24 L866.80,132.30 L865.28,131.39 L863.58,130.47 L861.76,129.56 L859.89,128.67 L858.04,127.82 L856.28,127.02 L854.67,126.27 L853.30,125.60 L852.11,125.01 L851.00,124.49 L850.01,124.03 L849.12,123.62 L848.37,123.24 L847.76,122.89 L847.30,122.55 L847.00,122.20 L846.87,121.87 L846.90,121.56 L847.08,121.28 L847.39,121.01 L847.84,120.76 L848.42,120.51 L849.11,120.26 L849.90,120.00 L850.87,119.75 L852.06,119.52 L853.40,119.31 L854.85,119.09 L856.34,118.86 L857.82,118.61 L859.22,118.33 L860.50,118.00 L861.71,117.64 L862.92,117.26 L864.12,116.86 L865.27,116.43 L866.37,115.97 L867.37,115.48 L868.25,114.96 L869.00,114.40 L869.56,113.78 L869.92,113.07 L870.15,112.32 L870.30,111.55 L870.42,110.78 L870.58,110.05 L870.82,109.38 L871.20,108.80 L871.74,108.32 L872.40,107.90 L873.13,107.54 L873.89,107.22 L874.65,106.93 L875.37,106.63 L876.00,106.33 L876.50,106.00 L876.88,105.68 L877.18,105.39 L877.41,105.13 L877.58,104.85 L877.71,104.54 L877.82,104.18 L877.91,103.74 L878.00,103.20 L878.07,102.53 L878.10,101.75 L878.10,100.89 L878.08,99.98 L878.04,99.04 L878.01,98.11 L878.00,97.22 L878.00,96.40 L878.01,95.65 L878.01,94.94 L878.01,94.26 L878.01,93.59 L878.04,92.93 L878.08,92.25 L878.17,91.54 L878.30,90.80 L878.50,89.97 L878.77,89.05 L879.08,88.07 L879.42,87.10 L879.75,86.17 L880.06,85.33 L880.32,84.62 L880.50,84.10 Z" fill="none" stroke="#E0A25E" stroke-width="1" stroke-linejoin="round"/>
<line x1="880.55" y1="104" x2="880.55" y2="118.4" stroke="#E0A25E" stroke-width="1"/>
<line x1="880.55" y1="127.4" x2="880.55" y2="142" stroke="#E0A25E" stroke-width="1"/>
<rect x="873.6" y="118.4" width="13.90" height="9.00" fill="none" stroke="#E0A25E" stroke-width="1"/>
<line x1="873.6" y1="122.2" x2="887.5" y2="122.2" stroke="#E0A25E" stroke-width="2.0"/>
<circle cx="880.55" cy="92" r="2" fill="#E0A25E"/>
<circle cx="880.55" cy="96.4" r="2" fill="#E0A25E"/>
<circle cx="880.55" cy="103.2" r="2" fill="#E0A25E"/>
<circle cx="880.55" cy="170.4" r="2" fill="#E0A25E"/>
<circle cx="880.55" cy="178.2" r="2" fill="#E0A25E"/>
<circle cx="880.55" cy="191.6" r="2" fill="#E0A25E"/>
<circle cx="880.55" cy="200.6" r="2" fill="#E0A25E"/>
<circle cx="880.55" cy="263.1" r="2" fill="#E0A25E"/>
<path d="M746.5,48.1 L746.5,43.1 L813.3,43.1 L813.3,48.1" fill="none" stroke="#3a3a3a" stroke-width="1"/>
<text x="782.2" y="39.7" font-size="14.6" text-anchor="middle"><tspan font-style="italic">p</tspan> = 2.22e&#8722;16</text>
<path d="M746.5,71.0 L746.5,65.5 L880.5,65.5 L880.5,71.0" fill="none" stroke="#3a3a3a" stroke-width="1"/>
<text x="801.8" y="62.2" font-size="14.6" text-anchor="middle"><tspan font-style="italic">p</tspan> = 3.5e&#8722;08</text>
<line x1="1008.6" y1="30" x2="1008.6" y2="303.7" stroke="#111" stroke-width="1.15" stroke-linecap="round"/>
<line x1="1008.6" y1="303.7" x2="1222.4" y2="303.7" stroke="#111" stroke-width="1.15" stroke-linecap="round"/>
<line x1="1005.1" y1="71.1" x2="1008.6" y2="71.1" stroke="#222" stroke-width="1.1"/>
<text x="1001.4" y="76.8" font-size="15.2" text-anchor="end" >30</text>
<line x1="1005.1" y1="134.8" x2="1008.6" y2="134.8" stroke="#222" stroke-width="1.1"/>
<text x="1001.4" y="140.5" font-size="15.2" text-anchor="end" >20</text>
<line x1="1005.1" y1="198.6" x2="1008.6" y2="198.6" stroke="#222" stroke-width="1.1"/>
<text x="1001.4" y="204.3" font-size="15.2" text-anchor="end" >10</text>
<line x1="1005.1" y1="262" x2="1008.6" y2="262" stroke="#222" stroke-width="1.1"/>
<text x="1001.4" y="267.7" font-size="15.2" text-anchor="end" >0</text>
<line x1="1048.7" y1="303.7" x2="1048.7" y2="307.2" stroke="#222" stroke-width="1.1"/>
<text x="1048.7" y="323" font-size="15.2" text-anchor="middle" >Hap 1</text>
<line x1="1115.5" y1="303.7" x2="1115.5" y2="307.2" stroke="#222" stroke-width="1.1"/>
<text x="1115.5" y="323" font-size="15.2" text-anchor="middle" >Hap 2</text>
<line x1="1182.3" y1="303.7" x2="1182.3" y2="307.2" stroke="#222" stroke-width="1.1"/>
<text x="1182.3" y="323" font-size="15.2" text-anchor="middle" >Hap 3</text>
<text x="0" y="0" font-size="16.8" text-anchor="middle" transform="translate(978.5,172.3) rotate(-90)">AC 2018YJ (%)</text>
<text x="1111" y="343.8" font-size="16.8" text-anchor="middle" >Haplotype</text>
<path d="M1048.70,54.10 L1048.76,56.28 L1048.83,59.27 L1048.91,62.83 L1049.01,66.74 L1049.13,70.78 L1049.29,74.74 L1049.47,78.39 L1049.70,81.50 L1049.96,84.13 L1050.25,86.52 L1050.56,88.70 L1050.91,90.74 L1051.30,92.69 L1051.72,94.60 L1052.19,96.52 L1052.70,98.50 L1053.28,100.52 L1053.95,102.53 L1054.66,104.51 L1055.41,106.46 L1056.17,108.39 L1056.92,110.29 L1057.64,112.16 L1058.30,114.00 L1058.92,115.79 L1059.52,117.54 L1060.11,119.25 L1060.67,120.93 L1061.22,122.60 L1061.74,124.26 L1062.23,125.92 L1062.70,127.60 L1063.15,129.28 L1063.60,130.96 L1064.03,132.64 L1064.44,134.31 L1064.80,135.98 L1065.10,137.65 L1065.34,139.32 L1065.50,141.00 L1065.60,142.65 L1065.65,144.26 L1065.65,145.86 L1065.59,147.47 L1065.45,149.11 L1065.23,150.81 L1064.92,152.60 L1064.50,154.50 L1063.92,156.52 L1063.15,158.65 L1062.27,160.87 L1061.31,163.14 L1060.34,165.46 L1059.41,167.79 L1058.58,170.11 L1057.90,172.40 L1057.36,174.68 L1056.92,176.97 L1056.54,179.27 L1056.22,181.58 L1055.93,183.89 L1055.66,186.20 L1055.39,188.51 L1055.10,190.80 L1054.81,193.08 L1054.56,195.36 L1054.33,197.64 L1054.10,199.91 L1053.87,202.18 L1053.61,204.45 L1053.33,206.72 L1053.00,209.00 L1052.57,211.26 L1052.02,213.48 L1051.41,215.70 L1050.80,217.92 L1050.24,220.17 L1049.78,222.47 L1049.48,224.84 L1049.40,227.30 L1049.59,229.92 L1050.04,232.70 L1050.65,235.57 L1051.37,238.49 L1052.11,241.37 L1052.79,244.16 L1053.35,246.79 L1053.70,249.20 L1053.87,251.34 L1053.93,253.26 L1053.90,255.01 L1053.80,256.67 L1053.64,258.31 L1053.45,259.98 L1053.23,261.76 L1053.00,263.70 L1052.73,265.82 L1052.39,268.06 L1052.01,270.39 L1051.59,272.76 L1051.17,275.15 L1050.77,277.50 L1050.41,279.80 L1050.10,282.00 L1049.84,284.21 L1049.61,286.52 L1049.40,288.84 L1049.22,291.09 L1049.06,293.21 L1048.92,295.10 L1048.80,296.69 L1048.70,297.90 L1048.70,297.90 L1048.60,296.69 L1048.48,295.10 L1048.34,293.21 L1048.18,291.09 L1048.00,288.84 L1047.79,286.52 L1047.56,284.21 L1047.30,282.00 L1046.99,279.80 L1046.63,277.50 L1046.23,275.15 L1045.81,272.76 L1045.39,270.39 L1045.01,268.06 L1044.67,265.82 L1044.40,263.70 L1044.17,261.76 L1043.95,259.98 L1043.76,258.31 L1043.60,256.67 L1043.50,255.01 L1043.47,253.26 L1043.53,251.34 L1043.70,249.20 L1044.05,246.79 L1044.61,244.16 L1045.29,241.37 L1046.03,238.49 L1046.75,235.57 L1047.36,232.70 L1047.81,229.92 L1048.00,227.30 L1047.92,224.84 L1047.62,222.47 L1047.16,220.17 L1046.60,217.92 L1045.99,215.70 L1045.38,213.48 L1044.83,211.26 L1044.40,209.00 L1044.07,206.72 L1043.79,204.45 L1043.53,202.18 L1043.30,199.91 L1043.07,197.64 L1042.84,195.36 L1042.59,193.08 L1042.30,190.80 L1042.01,188.51 L1041.74,186.20 L1041.47,183.89 L1041.18,181.58 L1040.86,179.27 L1040.48,176.97 L1040.04,174.68 L1039.50,172.40 L1038.82,170.11 L1037.99,167.79 L1037.06,165.46 L1036.09,163.14 L1035.13,160.87 L1034.25,158.65 L1033.48,156.52 L1032.90,154.50 L1032.48,152.60 L1032.17,150.81 L1031.95,149.11 L1031.81,147.47 L1031.75,145.86 L1031.75,144.26 L1031.80,142.65 L1031.90,141.00 L1032.06,139.32 L1032.30,137.65 L1032.60,135.98 L1032.96,134.31 L1033.37,132.64 L1033.80,130.96 L1034.25,129.28 L1034.70,127.60 L1035.17,125.92 L1035.66,124.26 L1036.18,122.60 L1036.73,120.93 L1037.29,119.25 L1037.88,117.54 L1038.48,115.79 L1039.10,114.00 L1039.76,112.16 L1040.48,110.29 L1041.23,108.39 L1041.99,106.46 L1042.74,104.51 L1043.45,102.53 L1044.12,100.52 L1044.70,98.50 L1045.21,96.52 L1045.68,94.60 L1046.10,92.69 L1046.49,90.74 L1046.84,88.70 L1047.15,86.52 L1047.44,84.13 L1047.70,81.50 L1047.93,78.39 L1048.11,74.74 L1048.27,70.78 L1048.39,66.74 L1048.49,62.83 L1048.57,59.27 L1048.64,56.28 L1048.70,54.10 Z" fill="none" stroke="#DE5A6C" stroke-width="1" stroke-linejoin="round"/>
<line x1="1048.80" y1="85" x2="1048.80" y2="140.4" stroke="#DE5A6C" stroke-width="1"/>
<line x1="1048.80" y1="199.5" x2="1048.80" y2="260" stroke="#DE5A6C" stroke-width="1"/>
<rect x="1042" y="140.4" width="13.60" height="59.10" fill="none" stroke="#DE5A6C" stroke-width="1"/>
<line x1="1042" y1="155" x2="1055.6" y2="155" stroke="#DE5A6C" stroke-width="2.0"/>
<path d="M1115.50,65.00 L1115.62,65.71 L1115.78,66.68 L1115.97,67.83 L1116.19,69.09 L1116.41,70.41 L1116.62,71.71 L1116.83,72.93 L1117.00,74.00 L1117.16,74.93 L1117.32,75.80 L1117.47,76.62 L1117.61,77.41 L1117.74,78.17 L1117.85,78.93 L1117.94,79.70 L1118.00,80.50 L1117.99,81.31 L1117.90,82.11 L1117.77,82.92 L1117.63,83.72 L1117.52,84.53 L1117.47,85.34 L1117.52,86.16 L1117.70,87.00 L1117.97,87.82 L1118.28,88.62 L1118.65,89.40 L1119.10,90.21 L1119.66,91.05 L1120.34,91.94 L1121.18,92.92 L1122.20,94.00 L1123.47,95.21 L1125.01,96.56 L1126.73,97.99 L1128.57,99.47 L1130.44,100.98 L1132.27,102.46 L1133.98,103.88 L1135.50,105.20 L1136.86,106.44 L1138.15,107.63 L1139.37,108.79 L1140.52,109.91 L1141.61,111.01 L1142.63,112.09 L1143.60,113.15 L1144.50,114.20 L1145.37,115.22 L1146.21,116.18 L1147.00,117.12 L1147.72,118.04 L1148.36,118.97 L1148.88,119.92 L1149.27,120.93 L1149.50,122.00 L1149.58,123.15 L1149.53,124.37 L1149.36,125.63 L1149.08,126.92 L1148.68,128.23 L1148.18,129.52 L1147.58,130.78 L1146.90,132.00 L1146.10,133.19 L1145.15,134.37 L1144.09,135.54 L1142.94,136.70 L1141.72,137.83 L1140.45,138.93 L1139.17,139.99 L1137.90,141.00 L1136.58,141.96 L1135.17,142.86 L1133.71,143.72 L1132.22,144.54 L1130.75,145.35 L1129.31,146.16 L1127.95,146.97 L1126.70,147.80 L1125.52,148.66 L1124.37,149.56 L1123.27,150.46 L1122.22,151.36 L1121.24,152.23 L1120.36,153.05 L1119.57,153.82 L1118.90,154.50 L1118.36,155.08 L1117.95,155.56 L1117.64,155.96 L1117.41,156.33 L1117.26,156.69 L1117.15,157.07 L1117.07,157.49 L1117.00,158.00 L1116.98,158.59 L1117.05,159.24 L1117.18,159.92 L1117.34,160.63 L1117.51,161.35 L1117.66,162.06 L1117.77,162.75 L1117.80,163.40 L1117.75,164.01 L1117.63,164.59 L1117.47,165.15 L1117.29,165.70 L1117.11,166.25 L1116.95,166.81 L1116.84,167.39 L1116.80,168.00 L1116.84,168.61 L1116.96,169.22 L1117.12,169.83 L1117.31,170.45 L1117.49,171.11 L1117.65,171.81 L1117.76,172.57 L1117.80,173.40 L1117.75,174.32 L1117.62,175.31 L1117.44,176.36 L1117.23,177.45 L1117.03,178.58 L1116.86,179.72 L1116.74,180.86 L1116.70,182.00 L1116.76,183.17 L1116.89,184.41 L1117.07,185.68 L1117.28,186.96 L1117.50,188.20 L1117.71,189.38 L1117.88,190.45 L1118.00,191.40 L1118.07,192.20 L1118.12,192.88 L1118.15,193.46 L1118.16,193.98 L1118.15,194.46 L1118.11,194.92 L1118.07,195.39 L1118.00,195.90 L1117.89,196.42 L1117.73,196.91 L1117.54,197.38 L1117.34,197.86 L1117.14,198.34 L1116.97,198.85 L1116.85,199.40 L1116.80,200.00 L1116.84,200.66 L1116.95,201.37 L1117.11,202.11 L1117.31,202.88 L1117.50,203.67 L1117.66,204.46 L1117.77,205.24 L1117.80,206.00 L1117.75,206.73 L1117.63,207.44 L1117.47,208.14 L1117.28,208.84 L1117.07,209.57 L1116.86,210.32 L1116.66,211.13 L1116.50,212.00 L1116.35,213.00 L1116.21,214.15 L1116.06,215.38 L1115.92,216.62 L1115.79,217.83 L1115.67,218.91 L1115.58,219.83 L1115.50,220.50 L1115.50,220.50 L1115.42,219.83 L1115.33,218.91 L1115.21,217.83 L1115.08,216.62 L1114.94,215.38 L1114.79,214.15 L1114.65,213.00 L1114.50,212.00 L1114.34,211.13 L1114.14,210.32 L1113.93,209.57 L1113.72,208.84 L1113.53,208.14 L1113.37,207.44 L1113.25,206.73 L1113.20,206.00 L1113.23,205.24 L1113.34,204.46 L1113.50,203.67 L1113.69,202.88 L1113.89,202.11 L1114.05,201.37 L1114.16,200.66 L1114.20,200.00 L1114.15,199.40 L1114.03,198.85 L1113.86,198.34 L1113.66,197.86 L1113.46,197.38 L1113.27,196.91 L1113.11,196.42 L1113.00,195.90 L1112.93,195.39 L1112.89,194.92 L1112.85,194.46 L1112.84,193.98 L1112.85,193.46 L1112.88,192.88 L1112.93,192.20 L1113.00,191.40 L1113.12,190.45 L1113.29,189.38 L1113.50,188.20 L1113.72,186.96 L1113.93,185.68 L1114.11,184.41 L1114.24,183.17 L1114.30,182.00 L1114.26,180.86 L1114.14,179.72 L1113.97,178.58 L1113.77,177.45 L1113.56,176.36 L1113.38,175.31 L1113.25,174.32 L1113.20,173.40 L1113.24,172.57 L1113.35,171.81 L1113.51,171.11 L1113.69,170.45 L1113.88,169.83 L1114.04,169.22 L1114.16,168.61 L1114.20,168.00 L1114.16,167.39 L1114.05,166.81 L1113.89,166.25 L1113.71,165.70 L1113.53,165.15 L1113.37,164.59 L1113.25,164.01 L1113.20,163.40 L1113.23,162.75 L1113.34,162.06 L1113.49,161.35 L1113.66,160.63 L1113.82,159.92 L1113.95,159.24 L1114.02,158.59 L1114.00,158.00 L1113.93,157.49 L1113.85,157.07 L1113.74,156.69 L1113.59,156.33 L1113.36,155.96 L1113.05,155.56 L1112.64,155.08 L1112.10,154.50 L1111.43,153.82 L1110.64,153.05 L1109.76,152.23 L1108.78,151.36 L1107.73,150.46 L1106.63,149.56 L1105.48,148.66 L1104.30,147.80 L1103.05,146.97 L1101.69,146.16 L1100.25,145.35 L1098.78,144.54 L1097.29,143.72 L1095.83,142.86 L1094.42,141.96 L1093.10,141.00 L1091.83,139.99 L1090.55,138.93 L1089.28,137.83 L1088.06,136.70 L1086.91,135.54 L1085.85,134.37 L1084.90,133.19 L1084.10,132.00 L1083.42,130.78 L1082.82,129.52 L1082.32,128.23 L1081.92,126.92 L1081.64,125.63 L1081.47,124.37 L1081.42,123.15 L1081.50,122.00 L1081.73,120.93 L1082.12,119.92 L1082.64,118.97 L1083.28,118.04 L1084.00,117.12 L1084.79,116.18 L1085.63,115.22 L1086.50,114.20 L1087.40,113.15 L1088.37,112.09 L1089.39,111.01 L1090.48,109.91 L1091.63,108.79 L1092.85,107.63 L1094.14,106.44 L1095.50,105.20 L1097.02,103.88 L1098.73,102.46 L1100.56,100.98 L1102.43,99.47 L1104.27,97.99 L1105.99,96.56 L1107.53,95.21 L1108.80,94.00 L1109.82,92.92 L1110.66,91.94 L1111.34,91.05 L1111.90,90.21 L1112.35,89.40 L1112.72,88.62 L1113.03,87.82 L1113.30,87.00 L1113.48,86.16 L1113.53,85.34 L1113.48,84.53 L1113.37,83.72 L1113.23,82.92 L1113.10,82.11 L1113.01,81.31 L1113.00,80.50 L1113.06,79.70 L1113.15,78.93 L1113.26,78.17 L1113.39,77.41 L1113.53,76.62 L1113.68,75.80 L1113.84,74.93 L1114.00,74.00 L1114.17,72.93 L1114.38,71.71 L1114.59,70.41 L1114.81,69.09 L1115.03,67.83 L1115.22,66.68 L1115.38,65.71 L1115.50,65.00 Z" fill="none" stroke="#45729C" stroke-width="1" stroke-linejoin="round"/>
<line x1="1115.55" y1="85" x2="1115.55" y2="113.8" stroke="#45729C" stroke-width="1"/>
<line x1="1115.55" y1="132.8" x2="1115.55" y2="152" stroke="#45729C" stroke-width="1"/>
<rect x="1108.6" y="113.8" width="13.90" height="19.00" fill="none" stroke="#45729C" stroke-width="1"/>
<line x1="1108.6" y1="122.9" x2="1122.5" y2="122.9" stroke="#45729C" stroke-width="2.0"/>
<circle cx="1115.55" cy="80.5" r="2" fill="#45729C"/>
<circle cx="1115.55" cy="163.4" r="2" fill="#45729C"/>
<circle cx="1115.55" cy="173.4" r="2" fill="#45729C"/>
<circle cx="1115.55" cy="191.4" r="2" fill="#45729C"/>
<circle cx="1115.55" cy="195.9" r="2" fill="#45729C"/>
<circle cx="1115.55" cy="206" r="2" fill="#45729C"/>
<path d="M1182.30,50.50 L1182.42,51.23 L1182.57,52.20 L1182.76,53.34 L1182.97,54.62 L1183.19,55.98 L1183.40,57.37 L1183.61,58.72 L1183.80,60.00 L1183.98,61.22 L1184.16,62.43 L1184.34,63.65 L1184.51,64.88 L1184.68,66.12 L1184.84,67.38 L1184.98,68.67 L1185.10,70.00 L1185.19,71.39 L1185.25,72.84 L1185.29,74.33 L1185.33,75.84 L1185.36,77.34 L1185.41,78.80 L1185.49,80.20 L1185.60,81.50 L1185.74,82.71 L1185.88,83.84 L1186.03,84.91 L1186.21,85.94 L1186.41,86.94 L1186.66,87.95 L1186.95,88.96 L1187.30,90.00 L1187.71,91.07 L1188.16,92.17 L1188.66,93.27 L1189.19,94.36 L1189.77,95.44 L1190.38,96.50 L1191.03,97.52 L1191.70,98.50 L1192.43,99.44 L1193.24,100.35 L1194.10,101.24 L1194.99,102.10 L1195.87,102.93 L1196.74,103.72 L1197.56,104.48 L1198.30,105.20 L1198.96,105.85 L1199.57,106.40 L1200.13,106.90 L1200.66,107.38 L1201.19,107.87 L1201.73,108.39 L1202.29,108.99 L1202.90,109.70 L1203.61,110.50 L1204.41,111.36 L1205.27,112.28 L1206.12,113.25 L1206.93,114.26 L1207.62,115.31 L1208.17,116.39 L1208.50,117.50 L1208.62,118.66 L1208.58,119.89 L1208.40,121.17 L1208.10,122.47 L1207.72,123.79 L1207.27,125.10 L1206.79,126.37 L1206.30,127.60 L1205.79,128.78 L1205.22,129.93 L1204.60,131.06 L1203.92,132.18 L1203.20,133.28 L1202.42,134.38 L1201.59,135.49 L1200.70,136.60 L1199.72,137.72 L1198.64,138.83 L1197.47,139.94 L1196.27,141.05 L1195.06,142.16 L1193.87,143.27 L1192.74,144.38 L1191.70,145.50 L1190.71,146.63 L1189.73,147.79 L1188.78,148.95 L1187.86,150.11 L1187.01,151.25 L1186.23,152.37 L1185.56,153.46 L1185.00,154.50 L1184.57,155.48 L1184.25,156.40 L1184.03,157.28 L1183.89,158.14 L1183.81,159.00 L1183.78,159.86 L1183.78,160.76 L1183.80,161.70 L1183.86,162.67 L1183.98,163.66 L1184.15,164.66 L1184.36,165.67 L1184.60,166.71 L1184.84,167.78 L1185.08,168.87 L1185.30,170.00 L1185.52,171.16 L1185.75,172.36 L1186.00,173.58 L1186.25,174.83 L1186.49,176.10 L1186.72,177.39 L1186.93,178.69 L1187.10,180.00 L1187.25,181.34 L1187.39,182.73 L1187.52,184.14 L1187.62,185.56 L1187.71,186.98 L1187.77,188.37 L1187.80,189.71 L1187.80,191.00 L1187.76,192.22 L1187.68,193.39 L1187.57,194.51 L1187.44,195.61 L1187.29,196.70 L1187.12,197.78 L1186.96,198.88 L1186.80,200.00 L1186.64,201.16 L1186.47,202.34 L1186.29,203.54 L1186.10,204.74 L1185.91,205.92 L1185.71,207.06 L1185.51,208.16 L1185.30,209.20 L1185.08,210.16 L1184.84,211.04 L1184.59,211.87 L1184.34,212.67 L1184.10,213.47 L1183.87,214.27 L1183.67,215.11 L1183.50,216.00 L1183.36,216.89 L1183.25,217.73 L1183.16,218.56 L1183.09,219.43 L1183.03,220.36 L1182.98,221.41 L1182.94,222.61 L1182.90,224.00 L1182.86,225.66 L1182.83,227.58 L1182.79,229.68 L1182.77,231.88 L1182.77,234.09 L1182.79,236.23 L1182.83,238.23 L1182.90,240.00 L1183.01,241.56 L1183.16,243.00 L1183.33,244.34 L1183.52,245.59 L1183.73,246.76 L1183.93,247.88 L1184.12,248.95 L1184.30,250.00 L1184.48,250.98 L1184.67,251.87 L1184.87,252.69 L1185.06,253.46 L1185.23,254.22 L1185.37,254.97 L1185.47,255.76 L1185.50,256.60 L1185.47,257.42 L1185.39,258.17 L1185.26,258.89 L1185.10,259.65 L1184.91,260.49 L1184.71,261.46 L1184.50,262.61 L1184.30,264.00 L1184.07,265.78 L1183.81,267.97 L1183.52,270.42 L1183.22,272.96 L1182.94,275.45 L1182.68,277.72 L1182.46,279.62 L1182.30,281.00 L1182.30,281.00 L1182.14,279.62 L1181.92,277.72 L1181.66,275.45 L1181.38,272.96 L1181.08,270.42 L1180.79,267.97 L1180.53,265.78 L1180.30,264.00 L1180.10,262.61 L1179.89,261.46 L1179.69,260.49 L1179.50,259.65 L1179.34,258.89 L1179.21,258.17 L1179.13,257.42 L1179.10,256.60 L1179.13,255.76 L1179.23,254.97 L1179.37,254.22 L1179.54,253.46 L1179.73,252.69 L1179.93,251.87 L1180.12,250.98 L1180.30,250.00 L1180.47,248.95 L1180.67,247.88 L1180.87,246.76 L1181.08,245.59 L1181.27,244.34 L1181.44,243.00 L1181.59,241.56 L1181.70,240.00 L1181.77,238.23 L1181.81,236.23 L1181.83,234.09 L1181.83,231.88 L1181.81,229.68 L1181.77,227.58 L1181.74,225.66 L1181.70,224.00 L1181.66,222.61 L1181.62,221.41 L1181.57,220.36 L1181.51,219.43 L1181.44,218.56 L1181.35,217.73 L1181.24,216.89 L1181.10,216.00 L1180.93,215.11 L1180.73,214.27 L1180.50,213.47 L1180.26,212.67 L1180.01,211.87 L1179.76,211.04 L1179.52,210.16 L1179.30,209.20 L1179.09,208.16 L1178.89,207.06 L1178.69,205.92 L1178.50,204.74 L1178.31,203.54 L1178.13,202.34 L1177.96,201.16 L1177.80,200.00 L1177.64,198.88 L1177.47,197.78 L1177.31,196.70 L1177.16,195.61 L1177.03,194.51 L1176.92,193.39 L1176.84,192.22 L1176.80,191.00 L1176.80,189.71 L1176.83,188.37 L1176.89,186.98 L1176.97,185.56 L1177.08,184.14 L1177.21,182.73 L1177.35,181.34 L1177.50,180.00 L1177.67,178.69 L1177.88,177.39 L1178.11,176.10 L1178.35,174.83 L1178.60,173.58 L1178.85,172.36 L1179.08,171.16 L1179.30,170.00 L1179.52,168.87 L1179.76,167.78 L1180.00,166.71 L1180.24,165.67 L1180.45,164.66 L1180.62,163.66 L1180.74,162.67 L1180.80,161.70 L1180.82,160.76 L1180.82,159.86 L1180.79,159.00 L1180.71,158.14 L1180.57,157.28 L1180.35,156.40 L1180.03,155.48 L1179.60,154.50 L1179.04,153.46 L1178.37,152.37 L1177.59,151.25 L1176.74,150.11 L1175.82,148.95 L1174.87,147.79 L1173.89,146.63 L1172.90,145.50 L1171.86,144.38 L1170.73,143.27 L1169.54,142.16 L1168.33,141.05 L1167.13,139.94 L1165.96,138.83 L1164.88,137.72 L1163.90,136.60 L1163.01,135.49 L1162.18,134.38 L1161.40,133.28 L1160.67,132.18 L1160.00,131.06 L1159.38,129.93 L1158.81,128.78 L1158.30,127.60 L1157.81,126.37 L1157.33,125.10 L1156.88,123.79 L1156.50,122.47 L1156.20,121.17 L1156.02,119.89 L1155.98,118.66 L1156.10,117.50 L1156.43,116.39 L1156.97,115.31 L1157.67,114.26 L1158.47,113.25 L1159.33,112.28 L1160.19,111.36 L1160.99,110.50 L1161.70,109.70 L1162.31,108.99 L1162.87,108.39 L1163.41,107.87 L1163.94,107.38 L1164.47,106.90 L1165.03,106.40 L1165.64,105.85 L1166.30,105.20 L1167.04,104.48 L1167.86,103.72 L1168.73,102.93 L1169.61,102.10 L1170.50,101.24 L1171.36,100.35 L1172.17,99.44 L1172.90,98.50 L1173.57,97.52 L1174.22,96.50 L1174.83,95.44 L1175.41,94.36 L1175.94,93.27 L1176.44,92.17 L1176.89,91.07 L1177.30,90.00 L1177.65,88.96 L1177.94,87.95 L1178.19,86.94 L1178.39,85.94 L1178.57,84.91 L1178.72,83.84 L1178.86,82.71 L1179.00,81.50 L1179.11,80.20 L1179.19,78.80 L1179.24,77.34 L1179.27,75.84 L1179.31,74.33 L1179.35,72.84 L1179.41,71.39 L1179.50,70.00 L1179.62,68.67 L1179.76,67.38 L1179.92,66.12 L1180.09,64.88 L1180.26,63.65 L1180.44,62.43 L1180.62,61.22 L1180.80,60.00 L1180.99,58.72 L1181.20,57.37 L1181.41,55.98 L1181.63,54.62 L1181.84,53.34 L1182.03,52.20 L1182.18,51.23 L1182.30,50.50 Z" fill="none" stroke="#E0A25E" stroke-width="1" stroke-linejoin="round"/>
<line x1="1182.45" y1="81.5" x2="1182.45" y2="112.4" stroke="#E0A25E" stroke-width="1"/>
<line x1="1182.45" y1="137.2" x2="1182.45" y2="150.8" stroke="#E0A25E" stroke-width="1"/>
<rect x="1175.5" y="112.4" width="13.90" height="24.80" fill="none" stroke="#E0A25E" stroke-width="1"/>
<line x1="1175.5" y1="122.9" x2="1189.4" y2="122.9" stroke="#E0A25E" stroke-width="2.0"/>
<circle cx="1182.45" cy="73.8" r="2" fill="#E0A25E"/>
<circle cx="1182.45" cy="177" r="2" fill="#E0A25E"/>
<circle cx="1182.45" cy="185.5" r="2" fill="#E0A25E"/>
<circle cx="1182.45" cy="194.6" r="2" fill="#E0A25E"/>
<circle cx="1182.45" cy="207.3" r="2" fill="#E0A25E"/>
<circle cx="1182.45" cy="257" r="2" fill="#E0A25E"/>
<path d="M1048.7,48.1 L1048.7,43.1 L1115.5,43.1 L1115.5,48.1" fill="none" stroke="#3a3a3a" stroke-width="1"/>
<text x="1083.3" y="39.7" font-size="14.6" text-anchor="middle"><tspan font-style="italic">p</tspan> = 2.22e&#8722;16</text>
<path d="M1048.7,70.5 L1048.7,65.5 L1182.3,65.5 L1182.3,70.5" fill="none" stroke="#3a3a3a" stroke-width="1"/>
<text x="1103.7" y="62.2" font-size="14.6" text-anchor="middle"><tspan font-style="italic">p</tspan> = 1.7e&#8722;06</text>
<rect x="92.9" y="412.2" width="33.099999999999994" height="213.3" fill="#4480B6"/>
<rect x="92.9" y="412.2" width="33.099999999999994" height="3.84" fill="#FC6162"/>
<rect x="130" y="412.2" width="33.5" height="213.3" fill="#FC6162"/>
<rect x="130" y="623.58" width="33.5" height="1.92" fill="#4480B6"/>
<rect x="167.6" y="412.2" width="33.400000000000006" height="213.3" fill="#FC6162"/>
<rect x="87.2" y="401.5" width="119.10000000000001" height="234.0" fill="none" stroke="#111" stroke-width="1.8"/>
<line x1="83.7" y1="412.20" x2="87.2" y2="412.20" stroke="#222" stroke-width="1.1"/>
<text x="80.7" y="417.60" font-size="15.5" text-anchor="end" >100</text>
<line x1="83.7" y1="465.52" x2="87.2" y2="465.52" stroke="#222" stroke-width="1.1"/>
<text x="80.7" y="470.92" font-size="15.5" text-anchor="end" >75</text>
<line x1="83.7" y1="518.85" x2="87.2" y2="518.85" stroke="#222" stroke-width="1.1"/>
<text x="80.7" y="524.25" font-size="15.5" text-anchor="end" >50</text>
<line x1="83.7" y1="572.17" x2="87.2" y2="572.17" stroke="#222" stroke-width="1.1"/>
<text x="80.7" y="577.57" font-size="15.5" text-anchor="end" >25</text>
<line x1="83.7" y1="625.50" x2="87.2" y2="625.50" stroke="#222" stroke-width="1.1"/>
<text x="80.7" y="630.90" font-size="15.5" text-anchor="end" >0</text>
<line x1="109.7" y1="635.5" x2="109.7" y2="639.0" stroke="#222" stroke-width="1.1"/>
<text x="0" y="0" font-size="15.3" text-anchor="end" transform="translate(113.3,647.1) rotate(-45)">Hap 1</text>
<line x1="146.7" y1="635.5" x2="146.7" y2="639.0" stroke="#222" stroke-width="1.1"/>
<text x="0" y="0" font-size="15.3" text-anchor="end" transform="translate(150.29999999999998,647.1) rotate(-45)">Hap 2</text>
<line x1="184.2" y1="635.5" x2="184.2" y2="639.0" stroke="#222" stroke-width="1.1"/>
<text x="0" y="0" font-size="15.3" text-anchor="end" transform="translate(187.79999999999998,647.1) rotate(-45)">Hap 3</text>
<rect x="211.5" y="512.3" width="18" height="19.5" fill="#FC6162"/>
<rect x="211.5" y="534.3" width="18" height="19.5" fill="#4480B6"/>
<text x="237.0" y="525.8" font-size="10" text-anchor="start" style="stroke-width:0">IND</text>
<text x="237.0" y="547.5999999999999" font-size="10" text-anchor="start" style="stroke-width:0">JAP</text>
<text x="143.7" y="694.3" font-size="16" text-anchor="middle" >Haplotype</text>
<text x="0" y="0" font-size="16" text-anchor="middle" transform="translate(48,515.5) rotate(-90)">Relative abundance (%)</text>
<rect x="354.6" y="413.4" width="32.69999999999999" height="209.89999999999998" fill="#4480B6"/>
<rect x="354.6" y="413.4" width="32.69999999999999" height="3.78" fill="#FC6162"/>
<rect x="391.4" y="413.4" width="32.60000000000002" height="209.89999999999998" fill="#FC6162"/>
<rect x="391.4" y="621.41" width="32.60000000000002" height="1.89" fill="#4480B6"/>
<rect x="428" y="413.4" width="33" height="209.89999999999998" fill="#FC6162"/>
<rect x="349.5" y="403.2" width="116.60000000000002" height="230.09999999999997" fill="none" stroke="#111" stroke-width="1.8"/>
<line x1="346.0" y1="413.40" x2="349.5" y2="413.40" stroke="#222" stroke-width="1.1"/>
<text x="343.0" y="418.80" font-size="15.5" text-anchor="end" >100</text>
<line x1="346.0" y1="465.88" x2="349.5" y2="465.88" stroke="#222" stroke-width="1.1"/>
<text x="343.0" y="471.27" font-size="15.5" text-anchor="end" >75</text>
<line x1="346.0" y1="518.35" x2="349.5" y2="518.35" stroke="#222" stroke-width="1.1"/>
<text x="343.0" y="523.75" font-size="15.5" text-anchor="end" >50</text>
<line x1="346.0" y1="570.82" x2="349.5" y2="570.82" stroke="#222" stroke-width="1.1"/>
<text x="343.0" y="576.22" font-size="15.5" text-anchor="end" >25</text>
<line x1="346.0" y1="623.30" x2="349.5" y2="623.30" stroke="#222" stroke-width="1.1"/>
<text x="343.0" y="628.70" font-size="15.5" text-anchor="end" >0</text>
<line x1="371" y1="633.3" x2="371" y2="636.8" stroke="#222" stroke-width="1.1"/>
<text x="0" y="0" font-size="15.3" text-anchor="end" transform="translate(374.6,644.9) rotate(-45)">Hap 1</text>
<line x1="407.7" y1="633.3" x2="407.7" y2="636.8" stroke="#222" stroke-width="1.1"/>
<text x="0" y="0" font-size="15.3" text-anchor="end" transform="translate(411.3,644.9) rotate(-45)">Hap 2</text>
<line x1="444.4" y1="633.3" x2="444.4" y2="636.8" stroke="#222" stroke-width="1.1"/>
<text x="0" y="0" font-size="15.3" text-anchor="end" transform="translate(448.0,644.9) rotate(-45)">Hap 3</text>
<rect x="471.4" y="513.3" width="18" height="19.5" fill="#FC6162"/>
<rect x="471.4" y="535.3" width="18" height="19.5" fill="#4480B6"/>
<text x="496.9" y="526.8" font-size="10" text-anchor="start" style="stroke-width:0">IND</text>
<text x="496.9" y="548.5999999999999" font-size="10" text-anchor="start" style="stroke-width:0">JAP</text>
<text x="409.6" y="694.3" font-size="16" text-anchor="middle" >Haplotype</text>
<text x="0" y="0" font-size="16" text-anchor="middle" transform="translate(312,515.2) rotate(-90)">Relative abundance (%)</text>
<rect x="611.4" y="400.5" width="597.3" height="262.7" fill="#fff"/>
<svg x="611.4" y="400.5" width="597.3" height="262.7" viewBox="611.4 400.5 597.3 262.7" overflow="hidden">
<line x1="681.7" y1="400.5" x2="681.7" y2="663.2" stroke="#F2F2F2" stroke-width="0.6"/>
<line x1="823.5" y1="400.5" x2="823.5" y2="663.2" stroke="#F2F2F2" stroke-width="0.6"/>
<line x1="965.3" y1="400.5" x2="965.3" y2="663.2" stroke="#F2F2F2" stroke-width="0.6"/>
<line x1="1107.1" y1="400.5" x2="1107.1" y2="663.2" stroke="#F2F2F2" stroke-width="0.6"/>
<line x1="611.4" y1="637.1" x2="1208.7" y2="637.1" stroke="#F2F2F2" stroke-width="0.6"/>
<line x1="611.4" y1="565.9" x2="1208.7" y2="565.9" stroke="#F2F2F2" stroke-width="0.6"/>
<line x1="611.4" y1="494.6" x2="1208.7" y2="494.6" stroke="#F2F2F2" stroke-width="0.6"/>
<line x1="611.4" y1="423.4" x2="1208.7" y2="423.4" stroke="#F2F2F2" stroke-width="0.6"/>
<line x1="752.6" y1="400.5" x2="752.6" y2="663.2" stroke="#EBEBEB" stroke-width="1"/>
<line x1="894.4" y1="400.5" x2="894.4" y2="663.2" stroke="#EBEBEB" stroke-width="1"/>
<line x1="1036.2" y1="400.5" x2="1036.2" y2="663.2" stroke="#EBEBEB" stroke-width="1"/>
<line x1="1178.0" y1="400.5" x2="1178.0" y2="663.2" stroke="#EBEBEB" stroke-width="1"/>
<line x1="611.4" y1="601.5" x2="1208.7" y2="601.5" stroke="#EBEBEB" stroke-width="1"/>
<line x1="611.4" y1="530.2" x2="1208.7" y2="530.2" stroke="#EBEBEB" stroke-width="1"/>
<line x1="611.4" y1="459.0" x2="1208.7" y2="459.0" stroke="#EBEBEB" stroke-width="1"/>
<path d="M656.0,436.8L657.6,435.9L657.2,433.8L658.7,432.9L659.8,431.9L661.5,432.5L662.6,431.5L663.8,430.8L665.0,430.1L666.5,429.9L667.9,429.2L669.3,428.6L671.0,429.8L672.3,428.6L673.5,429.8L675.0,428.2L676.2,429.2L677.6,428.7L678.9,429.4L680.2,430.6L681.7,429.8L683.2,429.4L684.5,430.1L685.9,430.8L687.5,429.4L688.9,429.6L690.1,431.6L691.5,431.8L693.1,430.8L694.5,431.1L695.9,430.3L697.0,431.7L698.2,432.3L699.5,432.0L700.8,432.1L702.9,432.5L704.4,431.1L705.7,431.5L707.0,431.0L708.2,430.7L709.5,431.2L710.8,430.5L712.0,431.2L713.3,431.4L714.6,431.0L715.8,431.5L717.1,431.2L718.4,432.4L720.1,430.9L721.4,431.7L722.9,431.7L724.2,432.2L725.6,433.1L727.2,431.6L728.6,432.1L729.8,433.9L731.3,433.4L732.8,433.6L734.1,432.7L735.6,432.7L737.0,432.1L738.4,433.2L739.8,432.9L741.3,432.3L742.7,432.7L744.1,433.6L745.5,433.2L746.9,433.1L748.4,432.5L749.8,432.7L751.2,433.4L752.6,433.3L754.0,434.6L755.4,433.6L757.3,433.8L759.0,432.9L758.8,431.2L760.1,429.9L760.4,428.4L761.2,429.7L762.8,429.7L763.9,430.5L765.6,431.2L766.8,432.6L768.1,431.9L769.7,432.2L771.1,431.7L772.4,431.3L773.9,430.9L775.5,431.3L776.4,432.7L777.5,433.8L778.8,434.5L777.6,434.7L776.1,434.0L774.8,434.2L773.8,435.8L772.5,435.6L772.4,437.5L771.0,438.6L769.4,439.1L767.7,439.2L766.1,439.8L764.7,440.2L764.0,441.5L763.4,442.9L762.1,443.5L760.8,444.0L761.5,445.4L762.7,446.6L762.8,448.3L764.2,449.1L765.9,449.0L767.5,448.7L768.9,449.7L770.2,450.0L771.4,450.7L772.5,451.4L773.9,451.4L775.2,451.5L776.6,450.9L777.8,451.7L777.5,453.3L777.7,454.9L779.1,455.8L780.3,457.0L782.4,456.6L782.3,455.2L782.4,453.9L782.7,452.6L783.3,451.4L784.2,450.3L785.5,449.7L785.1,448.3L784.7,446.9L784.5,445.5L784.5,444.1L784.9,442.6L784.1,441.3L785.5,440.8L786.8,441.4L788.1,442.0L789.5,441.6L790.7,442.0L791.9,442.5L793.1,443.1L794.4,443.3L794.9,445.0L795.8,446.5L797.5,446.4L799.2,446.3L800.8,446.5L801.8,445.3L802.9,444.3L803.7,445.4L804.1,446.9L805.2,447.8L805.9,449.0L807.2,449.7L808.4,450.3L809.7,450.6L810.8,451.3L811.8,452.2L812.9,453.0L813.8,453.9L814.5,455.1L815.4,456.0L814.4,457.1L813.1,458.0L811.9,458.3L810.6,458.3L809.3,458.7L807.9,458.5L806.5,458.5L805.1,458.8L803.6,458.7L802.3,459.1L800.9,459.5L799.7,460.1L798.6,460.9L797.4,461.4L796.2,462.0L795.1,462.8L796.6,462.4L798.0,461.6L799.5,461.1L800.8,460.3L802.1,460.8L803.4,461.1L802.2,463.0L803.6,464.4L805.1,464.6L806.5,465.1L807.9,465.4L809.3,464.7L809.6,465.3L808.3,465.6L807.0,466.0L805.6,466.2L804.4,466.8L802.7,467.4L801.1,468.0L800.7,466.7L802.5,465.7L800.9,466.0L799.4,466.4L797.8,466.8L796.3,467.4L794.9,468.1L794.8,469.4L794.3,470.7L795.3,470.7L793.0,471.3L791.2,471.8L789.5,472.4L789.3,474.0L787.3,475.4L786.6,477.5L786.8,478.8L787.2,480.1L786.0,480.6L784.8,481.1L783.7,482.1L782.4,482.8L780.8,483.7L779.5,484.9L779.0,487.4L779.4,489.0L780.0,490.6L780.8,492.1L780.4,494.3L779.4,494.2L778.4,492.3L777.1,490.5L777.0,488.6L775.0,487.5L773.7,487.3L772.5,486.9L770.7,486.8L768.9,487.1L767.6,488.9L766.1,488.8L764.5,488.6L762.9,488.3L761.4,487.9L759.7,488.6L758.7,489.5L757.5,490.1L756.6,491.1L756.6,492.9L756.1,494.6L756.2,496.4L755.9,498.2L756.4,500.6L757.4,501.7L758.3,502.9L759.3,503.7L760.4,504.3L762.2,504.0L763.9,503.7L765.8,502.6L766.2,500.3L767.9,500.0L769.6,499.6L771.3,500.0L770.9,501.3L770.5,502.5L769.8,503.9L769.3,505.3L769.0,507.7L770.7,507.6L772.5,507.6L773.6,508.2L774.9,508.5L776.1,508.7L776.2,510.6L775.9,512.4L775.7,514.7L776.9,515.6L777.7,516.8L778.8,517.7L780.2,517.0L781.7,516.6L783.1,517.3L784.6,517.9L783.9,520.0L783.2,518.4L781.7,517.6L780.5,519.7L778.5,518.7L777.2,518.7L775.9,518.3L774.3,517.3L772.9,516.1L772.7,514.3L771.7,513.1L770.6,511.9L768.9,511.3L767.1,511.0L764.7,510.3L763.4,508.8L761.8,507.7L760.4,508.0L759.0,507.6L757.6,507.9L755.9,507.5L754.4,506.7L753.0,506.5L751.8,505.8L750.5,505.3L749.1,504.3L747.5,503.8L746.2,502.7L744.7,501.0L745.1,499.2L743.5,497.2L742.4,496.4L741.6,495.4L740.7,494.3L739.6,493.0L738.4,491.6L737.4,490.2L736.3,488.9L735.4,487.5L734.4,486.1L733.2,485.4L731.8,485.1L732.5,486.3L733.1,487.7L733.9,488.9L735.2,491.1L735.8,492.4L736.7,493.5L737.2,494.7L738.0,495.8L738.6,497.6L737.4,496.9L736.4,495.9L735.3,495.2L735.4,493.2L734.0,492.0L732.6,490.8L731.9,489.4L731.0,488.2L729.8,486.9L728.9,485.4L728.4,483.8L727.2,482.9L726.4,481.8L724.9,481.1L723.4,480.9L722.6,479.5L721.5,478.2L720.7,476.5L719.0,474.8L718.0,472.7L718.4,470.4L718.5,468.9L718.2,467.3L718.4,465.8L718.6,464.3L718.1,462.8L717.6,461.3L720.0,461.0L719.6,459.7L718.6,458.5L717.1,458.3L715.2,457.9L713.6,456.9L712.3,456.2L712.2,454.7L710.2,454.3L709.4,452.4L708.7,451.2L707.5,450.4L705.8,450.0L705.1,448.3L703.5,447.5L702.3,446.2L700.8,446.3L699.4,446.5L697.7,446.9L696.8,445.0L695.2,445.0L693.5,445.3L691.9,444.2L690.2,444.8L689.1,443.9L687.5,444.6L686.4,443.6L684.9,443.7L683.9,444.9L682.4,445.0L681.0,445.5L679.6,445.7L679.8,444.1L681.0,443.0L679.5,443.7L678.0,444.4L676.7,445.5L675.6,446.6L674.9,448.0L673.8,449.3L672.1,449.6L670.6,450.3L668.9,450.7L667.7,451.7L666.2,451.9L664.7,451.6L663.3,451.8L662.0,452.4L660.7,452.7L662.2,452.2L663.9,452.0L665.0,450.6L666.5,450.5L667.2,448.7L668.5,448.2L669.9,447.9L671.1,446.5L669.7,447.0L668.2,446.3L666.8,446.7L665.4,446.6L664.7,444.8L663.2,444.8L662.1,443.8L660.7,443.6L660.0,441.5L661.8,440.0L663.3,439.8L664.7,440.3L666.1,439.8L666.4,438.2L664.9,437.6L663.4,437.9L661.9,438.9L660.4,438.3L659.2,437.9L658.0,437.3ZM784.6,517.9L786.6,516.7L787.3,515.1L789.2,514.3L790.5,513.6L792.0,513.4L792.9,515.3L792.4,514.0L792.4,512.6L793.7,513.4L795.1,513.9L796.3,514.8L797.7,515.3L799.2,515.0L800.8,515.1L802.6,515.0L804.4,515.1L806.8,515.0L807.4,516.2L807.9,517.4L809.6,518.4L810.6,519.4L811.8,520.3L812.9,521.3L814.6,521.4L816.4,521.7L818.2,522.4L820.0,523.1L821.8,524.5L822.5,526.2L823.5,527.7L822.8,529.8L824.2,530.6L825.6,531.4L827.0,531.1L828.4,532.0L829.9,532.6L831.3,533.5L833.1,533.6L834.8,534.1L836.6,534.1L838.4,534.5L839.4,535.4L840.5,536.3L841.5,537.1L842.9,537.6L844.3,537.8L844.5,539.4L845.1,540.9L844.4,542.3L844.2,543.8L842.9,545.0L841.7,546.2L840.5,547.7L839.5,549.2L839.3,550.8L839.4,552.4L839.0,553.9L838.8,555.5L838.4,556.9L838.0,558.3L837.0,559.9L836.3,561.6L835.1,562.1L834.1,563.0L832.6,563.1L831.2,563.5L829.4,564.1L827.8,565.2L826.7,566.2L825.6,567.3L825.7,569.1L825.3,570.9L824.4,572.3L823.2,573.7L822.0,574.5L820.9,575.6L820.0,577.0L818.7,578.3L817.7,579.2L816.6,580.0L815.2,579.8L813.9,579.4L811.6,578.6L811.7,580.0L813.3,581.3L813.9,582.7L812.6,584.7L811.0,585.2L809.3,585.5L807.6,585.7L806.1,586.1L806.3,588.2L804.9,588.5L803.5,588.5L802.1,588.7L803.2,591.0L802.7,592.2L801.8,593.2L801.3,594.8L799.3,594.4L798.7,595.8L800.3,596.7L801.1,598.4L800.5,599.6L799.2,600.2L798.3,601.2L796.6,602.6L797.4,604.8L795.1,605.2L794.1,606.0L793.0,606.6L791.4,606.1L789.8,605.6L788.3,604.9L788.3,603.4L787.6,602.2L787.4,600.6L788.7,599.4L788.8,597.9L788.1,596.1L788.9,594.4L788.7,592.7L790.1,591.6L790.6,590.1L790.2,588.7L790.0,587.2L790.1,585.4L790.6,583.7L791.2,581.9L792.0,580.1L792.5,578.7L792.9,577.3L793.1,575.9L793.1,574.4L793.0,573.0L793.3,571.2L793.9,569.4L794.2,568.0L794.0,566.6L794.5,565.2L794.6,563.7L794.4,562.3L794.8,560.9L794.6,559.5L794.9,558.0L793.8,556.5L793.0,554.9L791.7,554.2L790.4,553.5L789.0,552.8L787.8,552.1L786.8,550.8L785.9,549.5L785.3,548.1L784.6,546.8L783.8,545.5L783.1,544.2L782.1,543.1L781.4,541.8L780.7,540.5L780.1,538.7L779.1,537.1L780.5,535.1L779.7,533.4L780.0,532.0L780.7,530.7L781.0,528.7L782.7,527.7L783.6,526.2L784.8,524.8L784.6,523.6L784.9,522.3L784.8,521.0L784.6,519.4ZM886.5,478.9L885.5,477.8L883.9,477.2L881.8,477.5L881.9,475.1L880.9,475.0L881.8,473.0L882.0,471.7L881.9,470.4L881.2,469.0L883.1,468.0L884.8,468.1L886.6,468.3L888.4,468.4L890.1,468.4L891.8,468.4L892.7,466.6L892.7,464.7L891.3,463.1L889.6,462.6L888.0,462.0L887.9,461.0L890.1,460.7L892.1,460.9L892.6,459.4L894.7,459.9L896.5,458.7L897.1,457.6L899.1,457.0L900.4,456.1L901.2,454.7L902.9,454.2L904.6,454.0L906.6,453.4L906.6,451.3L905.9,449.7L906.6,448.9L908.0,448.2L909.4,448.0L909.1,449.9L909.9,450.0L908.3,451.9L910.0,453.3L912.1,452.6L913.3,453.2L914.5,453.4L916.2,453.3L917.8,452.6L919.3,452.2L920.8,452.2L922.3,452.7L924.5,451.6L924.3,449.5L926.3,448.0L927.4,448.9L928.9,449.0L928.9,447.2L927.6,445.9L929.1,446.0L930.6,445.3L932.4,444.6L934.1,445.5L935.7,445.2L937.2,444.9L935.2,444.0L933.6,444.6L932.0,444.2L930.7,444.3L929.5,444.8L928.1,444.2L926.9,444.9L925.0,443.8L925.3,442.3L925.0,441.0L926.7,439.3L927.8,438.4L929.1,437.9L930.4,437.5L929.3,436.5L927.6,437.1L925.9,436.6L924.9,437.5L923.9,438.3L922.9,439.4L921.5,439.8L919.8,441.0L919.2,442.9L920.4,443.5L921.2,444.6L919.8,446.2L917.8,447.7L917.2,449.6L915.2,450.2L913.0,451.3L912.3,450.2L911.3,448.3L910.1,446.2L909.1,445.5L907.4,445.7L906.5,447.2L905.2,447.8L903.8,447.5L902.3,446.3L901.5,444.8L901.5,442.2L903.0,441.3L904.7,440.4L906.5,439.8L908.0,439.4L909.3,438.3L911.1,438.0L911.8,436.3L912.6,434.7L914.3,434.3L915.8,432.6L917.1,432.2L918.2,431.2L919.6,431.2L921.0,430.0L922.8,430.4L924.1,429.7L925.4,429.0L927.0,429.6L928.4,429.6L929.5,428.5L931.0,428.9L932.7,429.1L934.4,429.1L935.9,428.5L937.2,429.0L938.4,430.1L939.6,431.5L941.5,431.4L942.9,432.4L944.5,432.4L946.2,432.1L947.8,431.5L948.8,433.0L950.3,433.0L951.5,433.6L952.7,435.1L951.3,435.0L950.2,435.8L949.0,436.2L947.7,435.9L946.4,435.8L945.1,436.3L943.7,436.1L943.3,438.3L945.1,438.7L946.9,439.3L948.5,438.2L950.4,438.3L951.8,436.9L953.1,436.0L954.7,435.6L957.1,436.2L955.9,434.7L956.5,432.9L958.3,432.3L960.1,433.2L961.8,432.5L963.2,433.8L964.6,433.3L966.1,434.2L967.4,432.6L968.7,432.2L970.3,433.1L971.4,432.1L972.8,432.8L974.1,432.6L975.4,432.2L976.8,433.2L978.1,432.5L979.1,431.0L980.9,430.8L982.6,430.9L984.1,431.7L985.9,431.5L987.0,432.7L988.7,431.4L990.0,431.4L991.1,432.8L990.8,430.8L989.1,429.8L989.9,428.0L991.5,427.1L993.2,426.8L994.8,426.1L995.8,427.2L997.2,426.9L997.5,429.4L997.6,431.1L998.6,432.6L999.9,431.6L1001.5,431.6L1000.0,431.0L1000.5,428.9L998.9,428.4L1000.2,427.7L1001.9,428.5L1002.9,426.7L1004.5,427.1L1005.6,425.5L1006.9,424.9L1008.5,425.5L1009.8,425.3L1011.0,424.1L1012.4,425.4L1013.8,425.8L1014.9,424.5L1016.3,425.5L1017.5,424.4L1018.0,423.2L1019.5,423.7L1020.8,423.1L1022.2,422.5L1023.7,423.3L1025.1,423.4L1026.3,421.5L1027.8,422.5L1029.1,421.9L1030.4,420.8L1031.9,420.8L1033.4,421.8L1034.8,421.5L1036.2,421.2L1037.7,420.8L1039.2,420.1L1040.7,419.8L1042.3,419.5L1043.9,419.7L1045.6,420.1L1046.9,420.1L1048.3,419.7L1049.5,420.9L1050.7,421.3L1052.1,421.0L1053.2,422.2L1054.6,421.9L1054.6,423.7L1055.3,425.4L1056.8,424.3L1058.3,425.3L1059.9,425.3L1061.4,426.4L1062.9,425.4L1064.4,425.8L1066.0,425.6L1067.4,427.0L1069.1,426.2L1070.4,426.0L1071.8,425.9L1073.1,427.2L1074.5,426.0L1075.8,426.3L1077.2,426.2L1078.4,426.9L1078.8,428.3L1080.0,429.1L1081.4,428.5L1082.8,428.2L1084.5,429.6L1085.9,429.3L1087.2,428.2L1088.6,427.5L1089.9,426.6L1091.6,427.8L1092.9,426.9L1094.2,427.1L1095.5,426.8L1096.7,427.4L1098.0,427.4L1099.3,427.5L1100.6,427.5L1101.9,427.2L1103.3,427.3L1104.7,428.1L1106.2,428.2L1107.7,428.2L1109.0,427.9L1110.1,429.6L1111.5,428.7L1112.8,429.1L1114.1,428.6L1115.5,429.6L1116.8,429.8L1118.2,428.6L1119.5,429.9L1120.9,429.4L1121.3,430.8L1122.7,431.2L1124.0,431.4L1125.3,430.8L1126.6,432.1L1127.9,431.6L1129.2,431.6L1130.5,431.2L1131.8,430.3L1133.4,430.9L1134.6,429.8L1136.2,430.4L1137.6,431.1L1139.1,430.9L1140.6,430.3L1142.1,429.9L1143.5,430.8L1145.0,431.2L1146.5,432.0L1148.0,432.5L1149.6,432.1L1151.1,432.0L1152.5,432.6L1153.9,431.9L1155.5,431.7L1156.9,432.0L1158.1,433.1L1159.1,434.3L1160.4,434.7L1162.2,434.3L1163.1,435.5L1164.1,436.5L1162.9,437.1L1161.7,437.7L1160.3,437.6L1158.1,438.3L1156.8,438.0L1155.4,437.5L1153.9,437.9L1151.8,436.9L1149.9,437.1L1148.2,437.9L1147.9,439.3L1146.5,439.9L1146.1,441.2L1144.4,441.3L1142.8,441.7L1141.1,442.2L1139.8,442.7L1138.6,443.3L1137.7,444.7L1136.2,444.8L1134.9,444.3L1133.6,444.1L1132.4,445.6L1131.1,445.6L1129.8,445.0L1128.4,445.8L1127.0,445.0L1126.2,446.4L1125.5,447.9L1125.4,449.4L1124.1,450.2L1123.7,451.7L1122.1,452.2L1121.3,453.3L1120.4,454.3L1119.5,455.3L1118.4,456.1L1116.6,457.6L1116.2,456.2L1116.0,454.7L1115.9,453.3L1115.5,451.9L1115.6,450.2L1115.3,448.6L1116.7,448.5L1117.7,447.6L1119.3,447.2L1120.0,445.6L1121.3,444.8L1120.6,442.3L1119.1,442.5L1118.2,443.8L1116.4,443.2L1115.6,445.0L1114.2,445.2L1112.8,445.5L1111.4,446.3L1110.0,446.5L1108.5,446.0L1107.1,446.6L1105.7,446.0L1104.3,445.7L1102.8,445.0L1101.4,446.1L1100.0,445.2L1098.6,445.4L1097.2,445.7L1096.2,446.6L1094.9,447.0L1093.8,447.6L1092.6,448.6L1092.1,450.4L1090.6,451.1L1089.4,452.2L1090.8,452.9L1092.2,453.5L1093.6,454.0L1094.9,455.9L1094.4,457.5L1093.6,459.0L1093.5,460.4L1093.3,461.9L1092.2,463.0L1090.8,464.0L1089.6,464.9L1088.4,465.8L1087.4,466.9L1086.3,467.8L1084.7,468.7L1083.0,469.3L1081.3,469.5L1079.7,470.0L1078.3,472.0L1077.2,472.9L1075.9,473.5L1076.8,474.8L1077.4,476.1L1077.9,477.5L1078.0,478.8L1077.7,480.1L1076.4,480.2L1075.1,480.9L1073.8,481.2L1073.4,479.2L1074.2,477.2L1072.1,476.5L1071.5,475.2L1071.2,473.7L1069.5,473.0L1067.7,472.7L1066.4,472.0L1066.5,473.3L1066.8,474.7L1065.0,474.4L1063.1,474.4L1061.3,474.8L1062.9,476.8L1064.2,476.9L1065.5,477.0L1066.8,477.0L1068.1,477.1L1066.8,478.1L1065.3,478.9L1064.2,479.7L1063.4,480.8L1064.2,482.2L1065.4,483.2L1066.2,484.4L1067.3,485.2L1066.5,487.1L1067.4,487.9L1066.7,489.9L1065.5,491.1L1064.6,492.5L1063.5,493.7L1062.7,495.2L1061.8,496.2L1060.7,496.9L1059.6,497.5L1057.9,497.8L1056.3,498.5L1053.9,499.2L1052.5,499.6L1051.1,500.0L1050.4,501.0L1050.0,499.6L1048.3,499.3L1046.9,500.0L1045.7,500.8L1044.8,501.9L1044.3,503.2L1045.4,505.3L1046.3,506.5L1047.4,507.3L1048.3,508.4L1048.9,510.1L1049.4,511.7L1049.2,513.9L1047.8,514.6L1046.4,515.6L1044.7,516.7L1043.3,518.0L1043.2,516.6L1042.6,515.3L1040.5,514.6L1039.7,512.7L1038.7,511.8L1037.5,511.2L1036.2,511.4L1035.5,512.6L1035.5,514.0L1035.1,515.3L1036.1,517.1L1036.8,519.6L1038.1,520.3L1039.2,521.4L1040.0,522.5L1041.0,523.4L1041.0,526.0L1042.2,528.3L1041.2,528.4L1039.8,527.0L1038.0,526.3L1037.7,524.9L1036.8,523.8L1036.8,522.5L1036.5,521.1L1035.2,519.8L1034.1,518.4L1033.8,516.3L1033.7,515.0L1034.2,513.7L1034.2,512.4L1033.4,510.9L1033.1,509.2L1032.8,506.7L1031.3,507.4L1029.7,507.9L1028.1,507.3L1028.3,505.7L1028.4,504.2L1027.6,503.0L1026.6,502.0L1025.3,500.8L1024.9,498.9L1022.7,498.2L1020.6,499.0L1019.2,499.5L1017.8,499.9L1017.1,501.9L1015.9,502.5L1014.6,502.9L1013.7,503.8L1012.9,504.8L1011.9,505.7L1011.0,506.6L1009.5,507.3L1008.3,508.2L1008.2,509.8L1008.1,511.4L1008.0,513.0L1007.7,514.6L1006.8,515.6L1005.9,516.5L1005.3,517.7L1004.3,518.7L1003.0,517.6L1002.5,515.8L1001.9,514.1L1001.4,512.8L1000.6,511.7L1000.2,510.3L999.2,509.0L998.6,507.4L998.4,505.9L997.8,504.5L997.6,502.9L997.3,501.4L997.3,499.9L995.8,500.1L994.4,500.6L993.5,499.6L992.5,498.6L994.1,497.6L992.0,496.8L990.0,495.9L988.8,494.1L987.3,494.0L985.9,494.3L984.4,494.5L983.0,494.5L981.6,494.5L980.1,494.5L978.7,494.2L977.2,493.9L975.8,493.6L974.9,491.6L973.5,492.2L972.0,492.5L970.1,491.8L968.8,491.2L967.4,490.5L966.7,489.0L965.6,487.6L963.6,487.1L962.5,487.5L963.0,489.6L963.9,490.7L964.7,491.8L965.4,493.5L966.4,494.9L967.0,493.1L967.0,494.4L967.6,495.6L969.3,495.9L971.0,495.9L971.9,494.8L973.1,493.9L974.2,492.8L974.4,494.8L975.8,496.2L977.5,496.6L979.2,498.3L977.8,500.3L976.9,501.7L976.4,503.3L974.7,503.7L972.8,505.2L971.4,505.6L970.1,506.2L968.8,507.0L967.7,507.8L966.4,508.0L965.3,508.7L963.8,509.3L962.5,510.3L960.7,511.0L958.9,511.4L957.5,511.6L956.1,512.2L955.4,510.7L955.1,509.2L954.9,506.9L954.2,505.7L953.4,504.5L952.8,503.2L951.6,502.1L950.8,500.7L949.8,499.5L949.2,497.8L948.9,496.1L948.1,494.8L947.0,493.9L946.0,492.8L945.2,491.5L944.3,490.4L943.9,488.2L943.5,490.4L943.0,490.6L941.5,489.5L940.6,487.6L941.2,488.8L941.3,490.2L941.9,491.3L943.0,493.2L944.1,494.6L945.0,496.2L945.9,497.8L946.4,499.6L946.6,501.1L947.1,502.5L947.9,503.6L948.9,504.6L949.5,506.1L950.1,507.6L951.4,508.6L952.5,509.9L953.4,511.0L954.5,512.0L955.8,513.4L956.6,514.5L957.6,515.4L959.1,515.3L960.5,515.0L961.8,514.7L963.1,514.3L964.4,514.1L965.7,513.8L966.9,513.3L967.1,515.4L966.5,516.8L966.0,518.1L965.3,519.3L964.5,520.5L963.9,521.7L963.1,522.7L962.5,523.8L961.4,524.8L960.6,526.0L959.6,527.1L958.6,528.5L957.2,529.5L956.1,530.7L954.7,531.8L953.2,532.7L951.4,534.1L950.5,535.4L950.0,536.9L949.8,538.3L949.4,539.5L950.4,541.6L950.7,543.1L950.7,544.5L951.8,545.6L952.0,547.3L951.9,548.9L952.0,550.5L951.6,551.8L951.3,553.2L950.0,554.0L948.8,554.8L947.4,555.3L946.3,556.1L945.3,557.2L943.7,558.5L944.0,560.2L944.7,561.7L944.8,563.1L944.6,564.5L943.6,565.3L942.3,565.8L941.2,566.4L941.1,567.6L940.8,569.2L940.6,570.9L939.7,571.9L938.6,572.9L937.7,573.8L936.9,574.9L935.6,575.8L934.4,577.0L933.0,577.6L931.8,578.4L929.4,578.7L927.9,578.7L926.4,578.6L925.2,578.9L923.9,579.3L922.8,579.8L920.5,578.8L920.2,577.3L919.5,575.6L918.9,573.9L918.1,572.5L917.8,571.0L917.0,569.9L916.0,568.9L915.4,567.0L915.1,565.2L915.1,563.7L915.0,562.2L914.0,561.1L913.4,559.9L912.8,558.7L912.4,557.3L911.8,556.1L911.1,554.9L911.1,552.8L911.9,551.3L912.3,549.6L913.0,548.5L913.7,547.4L913.3,545.2L912.8,543.1L912.5,541.7L912.2,540.3L911.7,538.9L911.7,538.2L911.0,537.0L910.1,535.8L909.3,534.7L908.3,533.8L907.5,532.8L906.9,531.7L907.6,529.5L908.0,528.3L908.0,527.0L908.3,525.8L907.0,524.0L906.5,523.7L904.3,524.0L902.9,524.1L901.5,522.3L900.5,521.3L898.2,521.3L896.1,521.6L895.0,522.4L893.7,522.7L891.6,523.4L890.1,523.1L888.7,522.8L887.1,523.3L885.4,523.6L883.8,524.0L882.4,523.3L881.2,522.4L879.8,521.6L878.5,520.6L876.7,519.6L875.7,517.6L874.5,516.2L873.4,514.7L872.2,513.8L871.0,512.9L870.6,511.4L869.6,509.3L870.2,508.2L871.0,507.2L871.0,505.5L871.4,503.9L871.0,502.2L870.3,500.3L870.8,499.1L871.1,497.7L871.7,496.5L872.4,495.1L873.4,493.9L874.5,492.6L875.5,491.2L877.1,490.8L878.5,490.1L879.6,489.2L880.5,488.1L880.6,486.1L881.4,484.4L882.3,482.8L883.5,482.1L884.8,481.7L885.2,480.3L886.0,479.2L886.9,479.1L887.9,480.1L889.6,480.0L891.3,480.2L893.1,479.2L894.9,478.9L896.5,478.2L898.9,477.8L900.6,478.0L902.2,477.8L903.6,477.9L904.9,477.9L906.3,477.7L907.6,477.3L908.9,477.1L910.1,477.8L909.1,479.5L910.1,480.1L908.9,481.5L909.9,482.5L912.1,483.5L913.4,483.6L914.7,483.8L916.0,484.2L916.7,485.5L917.9,486.1L919.4,486.4L920.6,487.1L922.2,486.8L922.9,485.4L922.8,484.2L924.9,483.5L926.1,484.0L927.3,484.4L928.6,484.8L929.9,485.2L931.6,485.4L933.4,485.8L934.9,486.1L936.4,486.1L938.4,485.2L940.1,485.6L941.5,485.9L943.0,485.6L943.9,483.9L944.7,481.9L945.3,480.1L945.6,478.0L944.7,478.1L942.6,478.7L940.5,478.8L939.1,478.5L937.8,478.0L935.8,478.1L933.5,477.7L933.1,476.4L932.1,475.2L932.4,474.0L931.6,473.2L932.3,472.5L933.4,472.7L935.5,472.0L934.8,471.7L933.2,471.9L931.6,472.4L929.9,472.0L928.0,473.0L926.4,472.8L927.0,474.2L928.4,475.8L926.7,476.8L926.2,478.2L925.2,477.7L924.3,476.2L925.0,475.0L923.0,473.7L921.9,472.7L922.1,470.7L919.9,469.4L918.5,468.8L917.1,468.3L916.0,467.1L914.4,466.0L913.7,465.1L911.8,465.7L912.0,467.3L913.7,468.3L914.7,470.3L916.9,471.1L917.9,471.5L919.3,472.3L920.6,473.1L918.8,474.1L917.8,475.5L916.7,476.2L916.8,474.0L915.7,472.8L914.3,472.0L912.0,471.0L910.0,469.7L908.9,467.7L906.5,467.1L905.3,467.9L904.0,468.5L902.8,468.2L901.5,468.4L899.4,468.7L898.8,470.3L897.0,471.5L895.4,472.3L894.0,474.0L894.7,475.0L893.4,476.7L891.4,478.0L889.8,477.9L888.2,478.0ZM638.5,650.1L644.8,648.8L646.3,648.7L647.7,648.4L649.1,648.0L650.5,647.8L652.0,647.6L653.3,647.1L654.8,646.7L656.1,646.0L657.5,645.7L659.0,645.3L660.4,645.0L661.9,644.5L663.3,643.8L664.7,643.4L666.2,642.8L667.5,642.1L669.0,641.6L670.4,640.8L671.8,640.0L673.0,639.5L674.3,639.3L675.5,639.0L676.8,638.7L678.1,638.8L679.4,638.5L680.6,638.0L681.8,637.7L683.1,637.6L684.4,637.3L685.7,637.1L687.0,637.4L688.2,637.0L689.5,636.9L690.8,636.9L692.1,636.9L693.3,636.7L694.6,636.7L695.9,636.4L697.2,636.1L698.5,636.0L699.8,636.1L701.1,636.1L702.4,635.7L703.7,635.7L705.0,635.4L706.3,635.4L707.7,635.4L709.0,635.4L710.3,635.2L711.6,635.1L712.9,635.0L714.2,635.1L715.5,635.0L716.8,634.7L718.2,635.1L719.5,635.1L720.8,634.7L722.1,634.9L723.4,634.7L724.7,634.7L726.1,634.8L727.4,634.4L728.7,634.8L730.0,634.6L731.3,634.6L732.7,634.6L734.0,634.3L735.3,634.4L736.6,634.3L737.9,634.0L739.2,634.2L740.5,634.0L741.9,633.7L743.2,634.0L744.5,634.0L745.8,633.8L747.1,633.4L748.4,633.4L749.8,633.4L751.1,633.6L752.4,633.6L753.7,633.7L755.0,633.5L756.3,633.8L757.6,633.5L758.9,633.4L760.2,633.4L761.5,633.5L762.9,633.4L764.2,633.9L765.5,633.8L766.8,633.7L768.1,633.5L769.3,633.6L770.6,633.8L771.9,633.5L773.2,633.7L774.4,633.6L775.7,633.9L777.0,633.9L778.3,633.8L779.5,634.0L780.8,633.9L782.1,633.6L783.4,633.9L784.6,634.1L785.9,633.8L787.2,632.8L788.0,631.4L789.5,631.0L790.8,630.1L792.3,629.8L793.8,629.2L795.1,628.6L796.4,628.1L797.3,627.1L798.6,626.7L799.7,626.2L800.8,625.4L802.1,625.0L803.2,624.3L804.3,623.6L805.3,622.7L806.5,622.2L807.8,621.8L809.0,621.4L810.1,620.7L811.4,620.3L812.5,619.5L813.8,619.4L815.0,618.7L813.6,619.8L812.2,620.9L811.1,621.6L809.9,622.1L808.9,623.0L807.6,623.4L806.5,624.0L805.3,625.5L804.4,627.1L805.2,628.2L805.9,629.4L807.0,630.4L807.9,631.4L807.8,633.2L807.9,635.0L807.4,636.4L806.8,637.7L806.0,638.9L805.3,640.3L806.0,641.6L806.9,642.7L807.7,643.8L808.4,645.0L809.3,646.2L810.2,647.2L811.5,647.1L812.8,647.5L814.2,647.5L815.5,647.1L816.8,647.3L818.2,647.1L819.5,647.4L820.8,647.2L822.2,647.3L823.5,647.4L824.8,647.2L826.1,647.2L827.4,647.3L828.7,647.5L830.0,647.4L831.4,647.1L832.7,647.0L834.0,647.0L835.3,647.3L836.6,647.1L837.9,647.0L839.2,647.0L840.5,647.1L840.8,645.5L841.4,644.0L841.9,642.4L843.2,641.9L844.4,641.5L845.7,641.3L846.8,640.6L848.1,640.2L849.4,640.3L850.5,639.4L851.9,639.3L853.0,638.6L854.2,638.3L855.6,638.2L856.6,637.4L857.9,637.3L859.0,636.5L860.3,636.2L861.6,636.1L862.8,635.6L863.9,635.0L865.2,634.6L866.6,634.4L867.9,634.0L869.3,633.6L870.7,633.7L872.0,633.5L873.3,632.8L874.7,633.0L876.0,632.2L877.4,632.1L878.8,632.2L880.1,631.7L881.5,631.6L882.8,631.4L884.2,631.4L885.6,631.1L887.0,631.3L888.3,631.0L889.6,630.9L890.9,631.0L892.3,630.6L893.6,630.6L894.9,630.7L896.2,630.6L897.5,630.8L898.9,630.8L900.2,630.4L901.5,630.4L902.8,630.4L904.1,630.2L905.4,630.3L906.8,630.6L908.1,630.4L909.4,630.2L910.7,630.3L912.0,630.6L913.3,630.2L914.7,630.2L916.0,630.5L917.3,630.3L918.6,630.4L919.9,630.3L921.2,630.1L922.5,630.2L923.9,630.2L925.2,630.0L926.5,629.7L927.8,630.0L929.1,629.9L930.4,629.6L931.7,629.4L933.0,629.5L934.3,629.5L935.6,629.2L936.9,629.3L938.2,629.0L939.5,629.2L940.8,628.7L942.1,628.9L943.4,628.7L944.7,628.3L946.0,628.4L947.2,628.1L948.6,628.3L949.8,627.8L951.1,627.9L952.5,627.8L953.8,627.6L955.0,627.2L956.4,627.0L957.7,626.7L958.9,626.3L960.3,626.1L961.6,626.3L962.9,625.9L964.2,625.5L965.5,625.3L966.8,625.0L968.1,624.9L969.6,625.1L970.9,625.5L972.4,625.6L973.8,625.5L975.2,625.9L976.7,625.9L978.1,626.0L979.5,626.4L980.6,627.0L981.8,627.6L982.9,628.2L984.0,629.0L985.3,629.3L986.3,630.1L987.5,630.5L988.5,631.4L989.8,631.8L990.8,632.6L991.9,631.8L993.1,631.2L994.2,630.6L995.5,630.1L996.5,629.3L997.7,628.8L999.0,628.6L1000.3,628.0L1001.6,627.9L1002.9,627.5L1004.1,627.1L1005.3,626.4L1006.6,626.3L1007.8,625.7L1009.1,625.4L1010.4,625.6L1011.7,625.4L1013.0,625.4L1014.3,625.2L1015.6,625.4L1016.9,625.1L1018.1,624.8L1019.5,625.1L1020.7,624.7L1022.0,624.7L1023.3,624.8L1024.6,624.7L1025.9,624.8L1027.2,624.7L1028.5,624.2L1029.7,624.2L1031.0,624.1L1032.3,624.1L1033.6,623.9L1034.9,624.3L1036.2,624.0L1037.5,624.0L1038.9,624.1L1040.2,624.1L1041.5,624.0L1042.9,624.1L1044.2,624.0L1045.5,624.5L1046.8,624.3L1048.2,624.3L1049.5,624.3L1050.8,624.4L1052.2,624.4L1053.5,624.7L1054.8,624.4L1056.1,624.7L1057.5,624.7L1058.8,624.7L1060.1,624.5L1061.5,624.6L1062.8,624.9L1064.1,624.9L1065.4,624.9L1066.8,624.7L1068.1,624.5L1069.4,624.6L1070.8,624.9L1072.1,624.9L1073.4,624.7L1074.8,625.0L1076.1,624.9L1077.4,625.1L1078.7,624.9L1080.1,625.1L1081.4,625.0L1082.7,625.1L1084.1,625.2L1085.4,625.4L1086.7,625.2L1088.1,625.5L1089.4,625.8L1090.7,626.0L1092.1,625.6L1093.4,625.7L1094.7,625.8L1096.0,626.1L1097.3,626.3L1098.7,626.5L1100.0,626.4L1101.3,626.8L1102.6,627.0L1104.0,626.8L1105.4,627.1L1106.7,627.3L1108.0,627.8L1109.3,628.0L1110.6,628.2L1112.0,628.1L1113.3,628.7L1114.7,628.5L1116.0,628.8L1117.3,629.1L1118.7,629.1L1119.9,629.6L1121.3,629.7L1122.5,630.1L1123.8,630.6L1125.0,631.0L1126.3,631.3L1127.6,631.5L1128.8,632.0L1130.0,632.4L1131.4,632.3L1132.6,632.9L1131.4,633.8L1130.5,635.0L1129.3,635.9L1128.2,636.9L1127.0,637.8L1128.2,638.4L1129.5,638.9L1130.7,639.5L1131.9,640.2L1133.0,640.9L1134.3,641.4L1135.5,642.1L1134.1,642.8L1132.6,643.2L1131.2,643.7L1129.8,644.2L1149.6,650.4ZM806.8,434.9L805.7,436.0L804.4,436.9L803.5,438.3L802.9,439.8L801.5,440.8L800.1,441.0L798.6,440.6L797.3,441.2L795.7,441.2L794.3,440.7L793.0,439.8L791.8,439.3L790.9,438.3L789.6,437.5L788.0,437.7L786.7,437.1L785.2,437.1L786.8,436.6L787.6,434.7L789.5,434.8L790.2,433.6L788.5,433.9L788.4,431.5L786.4,432.4L785.5,431.3L784.5,430.5L782.8,430.0L781.0,430.1L779.6,429.5L778.1,430.2L776.7,429.7L775.3,429.6L773.9,430.1L772.5,430.1L771.0,429.0L769.6,429.8L768.2,429.6L767.5,428.4L766.8,426.2L768.0,425.0L769.5,424.8L771.0,425.5L772.5,425.3L773.9,426.5L775.3,425.5L776.7,426.6L778.1,426.4L779.6,424.8L781.0,425.8L782.3,426.6L783.8,426.5L785.0,427.1L786.5,426.2L787.5,427.8L788.9,427.5L790.2,427.9L791.4,428.5L792.3,429.7L794.0,429.2L795.1,429.8L796.6,429.7L797.2,431.6L798.7,431.5L799.8,432.9L801.4,433.4L802.9,434.1L804.0,435.3L805.5,434.6ZM716.4,427.8L717.5,427.0L718.2,425.9L719.3,425.1L720.8,423.9L722.6,424.6L724.2,424.2L725.5,424.6L726.8,424.8L727.8,425.9L729.2,425.7L730.6,426.9L729.5,427.5L728.4,428.3L727.1,428.6L725.7,429.4L724.1,428.1L722.8,428.8L721.4,429.4L720.4,428.1L718.7,429.2L717.6,428.6ZM726.4,426.8L727.7,426.7L728.9,426.2L730.2,426.0L731.6,427.0L733.0,427.1L734.2,425.9L735.5,426.2L736.8,426.4L738.1,425.3L739.4,425.5L740.7,425.7L742.1,425.8L743.4,425.9L745.0,426.9L746.2,428.4L747.3,429.7L749.0,429.7L750.5,430.2L749.1,431.9L747.6,431.3L746.3,432.9L744.8,431.2L743.4,432.2L742.0,432.9L740.5,431.4L739.1,432.7L737.7,432.0L736.3,432.2L734.9,433.2L733.5,432.5L732.2,431.3L730.8,431.1L729.1,432.7L727.8,431.6L726.7,430.7L725.7,429.8L726.9,428.5ZM729.2,422.7L728.5,421.4L729.9,421.9L731.3,420.9L732.7,420.9L734.1,420.5L735.6,421.8L737.0,421.7L738.4,421.1L739.7,422.1L741.2,422.2L742.8,421.4L744.1,422.1L744.8,423.4L743.4,422.7L742.2,423.7L740.8,423.1L739.6,423.4L738.3,423.8L737.0,424.1L735.6,424.6L734.4,423.8L733.3,422.4L731.9,422.7L730.6,422.2ZM749.8,426.9L751.5,427.2L752.4,425.5L753.9,425.0L755.4,424.8L757.1,424.2L758.3,425.5L756.8,426.4L756.1,427.9L754.4,427.4L752.6,427.9L751.0,427.9ZM759.7,427.2L760.0,425.4L761.8,424.8L763.2,425.9L764.7,424.5L766.1,425.1L765.6,427.2L764.2,426.5L762.7,428.3L761.2,426.2ZM781.0,424.1L779.7,423.8L778.4,424.0L777.1,423.8L775.9,423.9L774.6,423.8L773.3,424.3L772.0,423.4L770.7,424.1L769.5,422.8L768.2,423.8L766.6,423.2L764.9,423.2L763.2,423.4L762.7,421.9L761.1,421.5L762.3,420.9L763.7,421.7L764.9,420.6L766.1,420.1L767.5,421.0L768.8,421.5L770.2,420.3L771.5,420.5L772.8,420.9L774.1,422.3L775.5,421.5L776.8,421.2L778.1,421.5L779.8,422.5L781.7,422.7ZM782.4,421.2L781.1,421.2L779.8,421.8L778.5,422.1L777.2,420.6L775.9,421.6L774.6,421.5L773.3,421.3L772.0,420.1L770.7,419.9L769.4,420.6L768.1,421.4L766.8,420.8L768.2,419.1L767.2,418.1L765.8,418.2L764.7,417.3L763.1,417.9L761.8,417.6L761.0,416.1L759.7,415.8L760.8,414.3L762.8,415.8L763.9,414.4L765.2,413.6L766.5,413.3L768.0,414.6L769.1,413.3L770.5,413.5L771.7,412.4L773.2,413.9L774.4,413.0L775.6,412.1L777.0,412.5L778.4,413.0L779.8,413.3L781.0,412.3L782.3,411.3L783.6,412.3L785.0,411.1L786.3,413.0L787.6,411.5L789.0,411.5L790.3,411.2L791.6,413.2L793.0,412.4L794.3,413.1L795.6,411.5L797.0,412.4L798.3,411.1L799.6,412.3L801.0,411.4L802.3,411.2L803.6,412.0L804.9,413.0L806.5,413.0L805.3,413.4L804.2,414.6L802.8,414.0L801.4,414.0L800.2,414.1L799.2,415.5L797.6,414.6L796.6,415.5L795.2,416.3L793.8,416.7L792.3,417.2L790.9,417.7L789.2,417.4L788.2,418.9L786.6,419.1L785.6,420.6L783.6,420.2ZM763.9,418.4L762.7,417.4L761.0,418.2L759.8,417.2L758.4,416.6L756.9,417.0L758.3,415.9L759.7,414.8L761.1,414.9L762.5,415.0L763.9,415.1L765.3,415.5L766.8,415.6L768.2,415.1L767.4,416.3L765.8,416.5L765.2,417.9ZM762.5,423.4L761.2,423.7L759.8,423.8L758.5,423.2L757.2,423.0L755.9,422.7L754.5,423.9L753.3,422.3L751.9,422.7L752.6,421.2L754.0,421.8L755.2,421.5L756.5,421.3L757.7,421.0L759.0,420.5L759.9,421.9L760.8,423.1ZM729.2,421.4L727.9,422.2L726.6,421.7L725.3,421.9L724.0,422.1L722.7,420.7L721.4,421.2L722.8,420.6L724.0,419.7L725.5,419.4L727.1,419.8L728.2,420.5ZM745.5,419.1L747.2,419.3L748.2,417.7L749.7,417.3L751.2,417.1L752.6,418.0L754.0,418.8L752.6,418.3L751.2,419.5L749.8,419.6L748.3,419.0L746.9,419.1ZM753.3,432.2L754.8,431.3L756.1,433.0L757.5,433.3L759.0,432.4L758.3,430.8L756.5,432.0L754.6,431.1ZM737.0,419.8L735.5,420.6L734.1,420.6L732.7,420.4L731.4,418.6L729.9,419.4L731.3,418.9L732.8,418.9L734.2,418.4L735.6,419.0ZM747.6,421.9L749.0,421.4L750.4,420.9L752.0,422.2L753.2,420.3L754.7,421.2L753.2,420.4L751.4,421.1L749.8,420.5L748.2,420.5ZM781.0,439.3L779.5,439.2L778.2,440.1L776.7,440.1L775.3,439.2L773.9,440.3L772.5,439.8L771.6,438.7L771.0,437.3L772.6,437.8L773.7,436.1L775.4,436.9L776.7,436.2L778.0,437.2L779.5,437.6ZM810.3,462.4L812.0,462.7L813.6,463.3L815.3,463.6L816.8,463.6L818.2,463.2L819.7,463.1L819.5,461.4L819.0,459.7L817.8,458.8L816.7,457.8L815.7,456.7L814.4,457.4L813.3,458.4L812.4,459.8L811.3,461.1ZM790.9,418.7L792.0,418.0L793.2,417.5L794.3,416.6L796.0,417.7L797.4,417.6L798.1,415.7L799.7,416.3L800.8,415.5L802.3,415.5L803.5,414.2L805.2,415.2L806.3,413.4L807.9,413.9L809.3,413.5L810.7,414.3L811.9,412.4L813.3,413.1L814.7,414.0L815.9,412.3L817.3,412.3L818.6,412.3L820.0,412.3L821.2,411.5L822.7,413.5L823.9,411.3L825.3,411.9L826.7,412.7L828.0,411.8L829.4,412.3L830.6,411.5L832.0,411.7L833.3,411.2L834.7,411.6L836.0,412.4L837.3,411.8L838.6,411.9L839.9,410.9L841.2,410.5L842.6,410.8L843.9,411.3L845.3,412.0L846.6,410.8L847.9,411.7L849.2,410.1L850.6,411.9L851.9,411.1L853.3,410.3L854.3,412.4L855.8,411.0L857.0,412.0L858.3,411.7L859.6,412.2L860.8,412.5L862.2,412.4L863.5,411.7L864.7,412.9L866.0,412.7L867.3,413.2L868.8,412.4L869.9,413.9L871.3,413.7L872.7,413.5L874.0,413.7L875.3,414.6L876.7,414.1L875.5,415.0L874.1,414.8L872.5,414.3L871.4,415.2L869.9,415.0L868.9,416.2L868.3,417.6L867.6,419.0L868.2,420.5L866.9,421.1L866.4,422.5L865.3,423.4L865.0,424.8L863.5,425.5L863.2,426.9L862.0,427.8L860.9,428.9L859.7,429.8L861.5,430.0L863.2,430.5L862.0,431.8L860.2,430.8L859.1,432.3L857.6,432.3L856.1,432.6L854.8,433.5L853.5,433.1L852.2,431.7L850.9,431.9L849.6,433.5L848.3,432.9L846.9,433.2L846.1,434.4L844.4,434.0L843.6,435.5L842.3,435.8L841.2,436.6L839.8,437.0L838.2,436.7L837.0,437.9L836.8,439.4L836.0,440.5L835.2,441.6L834.1,442.6L833.2,443.8L832.0,444.8L830.8,444.0L829.6,443.7L828.1,444.4L827.0,443.3L825.6,443.3L824.8,442.0L823.3,441.3L822.8,439.8L822.0,438.6L820.4,438.4L820.0,436.9L819.8,435.3L818.5,434.3L819.5,432.6L821.4,431.9L820.2,430.8L818.9,429.8L817.1,429.8L816.8,428.5L816.4,427.2L814.8,426.6L814.9,424.4L813.1,423.9L812.2,422.7L810.6,423.2L809.4,421.3L807.9,422.1L806.5,421.9L805.1,421.5L803.7,421.8L802.2,422.5L800.8,421.6L799.4,421.7L798.1,421.0L796.7,420.5L795.0,421.5L793.7,420.5L792.7,419.0ZM859.9,436.8L861.7,436.9L863.2,435.8L864.8,436.6L866.5,435.7L868.2,435.9L869.8,436.6L871.5,436.6L873.1,435.8L873.8,437.3L873.1,438.6L871.8,438.9L870.5,439.1L869.1,439.1L867.9,439.9L866.5,439.6L865.1,440.2L863.8,438.9L862.4,439.3L861.5,437.7ZM774.0,499.0L775.4,498.4L776.8,497.9L778.1,497.2L779.9,497.5L781.7,498.2L783.3,498.9L784.9,499.5L786.4,500.1L787.7,500.9L789.2,501.5L787.6,501.6L786.1,502.0L784.5,501.9L784.0,500.6L783.1,499.6L781.7,499.3L780.3,498.9L778.8,498.8L777.4,498.6L776.0,498.6ZM788.9,504.0L790.1,502.9L791.3,501.9L792.6,502.0L793.9,502.2L795.1,502.0L796.3,502.8L797.4,503.7L795.5,504.0L793.7,504.6L792.5,504.4L791.2,504.5ZM783.4,504.2L784.8,504.5L786.2,504.3L785.5,504.9L783.9,504.7ZM799.1,503.9L801.4,504.0L801.1,504.6L799.1,504.6ZM783.8,492.5L785.2,492.3L784.5,494.6L783.5,495.2L783.6,493.8ZM713.6,457.9L715.0,458.1L716.4,458.4L717.5,459.3L718.8,459.8L719.3,461.3L717.1,460.6L715.5,460.3L714.3,459.4ZM705.8,453.3L707.6,453.3L708.4,455.7L706.5,455.0ZM677.4,447.7L678.9,448.2L677.5,448.5L676.3,449.3L675.3,448.3ZM797.1,605.2L798.5,605.7L799.1,607.5L800.9,607.5L801.9,608.5L800.7,609.3L799.4,609.4L798.0,608.9L796.3,608.7L794.6,608.8L793.0,608.3L792.1,607.4L790.9,606.9L790.3,605.5L788.8,605.3L790.2,605.2L791.6,605.5L793.0,606.3L794.4,606.1L795.9,605.9ZM807.5,604.1L809.0,603.8L810.6,603.7L812.2,603.5L812.6,604.6L811.0,604.8L809.3,604.6ZM764.7,530.5L766.1,531.0L765.4,531.7ZM840.5,607.2L841.9,607.4L843.4,607.5L841.9,608.1ZM886.3,458.9L887.8,458.8L889.3,458.9L890.7,458.8L892.0,457.3L893.5,457.6L894.9,457.2L896.4,457.3L896.8,455.2L895.6,454.7L894.4,454.0L893.4,452.4L892.1,451.0L891.5,449.6L891.6,448.0L890.0,446.7L888.7,446.9L887.3,446.7L886.9,448.3L885.6,449.3L886.7,450.4L887.3,451.9L888.9,451.7L890.1,452.6L888.8,453.4L887.6,454.3L887.0,456.6L888.5,457.4L890.1,457.0L888.6,457.1L887.8,458.6ZM885.9,455.9L885.5,454.6L885.6,453.3L885.3,451.8L883.8,451.4L882.5,451.9L881.3,452.4L880.2,453.0L880.0,454.6L879.5,456.1L881.6,456.9L883.0,456.4L884.3,455.5ZM912.0,476.0L913.5,476.1L915.0,475.7L916.5,475.7L915.8,478.0L914.6,477.4L913.4,477.1L912.1,476.7ZM906.3,474.7L908.3,474.4L908.3,473.0L908.3,471.7L906.0,472.0L906.2,473.3ZM906.6,470.5L907.9,471.3L907.9,469.0L906.6,469.5ZM927.7,479.9L929.1,479.8L930.4,480.2L931.7,480.2L929.4,480.5ZM940.2,480.8L941.8,480.2L943.3,479.5L941.2,479.9ZM910.0,418.0L911.2,418.4L912.0,419.7L913.7,419.1L914.6,420.4L916.3,419.7L917.1,421.1L918.7,421.4L919.8,419.9L921.5,420.8L922.5,418.8L924.0,418.7L925.6,419.1L927.3,419.3L928.3,417.7L930.1,417.9L931.3,416.8L932.7,416.2L931.4,416.9L930.2,415.4L928.9,415.4L927.6,415.1L926.4,415.0L925.0,415.8L923.8,415.0L922.5,414.9L921.2,416.0L919.9,415.5L918.5,415.2L917.1,415.5L915.6,415.6L914.3,416.8L912.8,415.8L911.4,416.7L910.0,416.5ZM967.4,428.4L968.5,429.5L969.9,429.1L971.1,429.9L972.6,428.9L973.8,429.6L974.5,428.5L976.0,427.9L975.9,426.2L977.7,426.3L978.2,424.2L980.2,424.5L980.8,422.6L982.3,422.2L983.6,421.8L984.9,421.8L986.2,420.9L987.5,421.2L988.9,421.1L990.2,421.2L991.5,420.8L990.3,420.2L989.0,419.9L987.7,420.5L986.4,420.3L985.2,420.5L984.0,421.3L982.5,420.5L981.3,421.0L980.2,422.3L978.8,421.8L977.6,422.1L976.3,422.4L975.1,423.1L973.6,421.8L972.4,422.7L971.8,424.4L970.3,425.5L968.7,425.8L968.0,427.0ZM1029.1,417.0L1030.5,417.3L1031.8,418.1L1033.4,417.6L1034.7,418.8L1036.2,418.5L1037.5,418.4L1038.6,417.2L1040.1,418.9L1041.4,418.2L1042.6,417.7L1041.2,417.4L1040.4,415.7L1039.1,415.3L1037.2,416.0L1036.2,414.8L1035.1,416.2L1033.3,415.3L1031.8,415.5L1030.8,417.5ZM1089.4,423.4L1090.5,424.2L1091.9,424.1L1093.0,425.1L1094.7,424.1L1095.8,425.1L1097.3,425.4L1098.6,424.4L1099.8,423.3L1101.5,424.2L1102.7,422.7L1104.2,422.9L1105.7,423.1L1104.3,423.0L1102.8,423.0L1101.4,422.7L1100.0,422.0L1098.5,423.2L1097.2,421.9L1095.8,422.0L1094.8,423.4L1093.4,423.4L1091.8,421.9L1090.6,422.6ZM1147.5,428.8L1149.1,427.6L1150.9,429.5L1152.5,428.4L1151.1,429.2L1149.2,429.5ZM961.0,415.5L962.4,415.3L963.7,414.7L965.0,415.6L966.4,415.1L967.7,414.6L969.0,415.5L970.4,415.0L971.7,415.1L973.0,414.8L974.3,416.5L975.7,416.2L977.0,414.5L978.3,415.0L979.7,416.0L981.0,415.0L982.3,415.5L981.1,414.5L979.6,414.5L978.1,414.3L976.6,414.1L975.3,413.7L974.0,413.6L972.7,414.5L971.5,414.9L970.1,414.3L968.9,415.2L967.6,416.0L966.2,414.1L964.9,414.7L963.6,414.4L962.4,415.8ZM1095.8,464.7L1096.3,463.2L1097.3,461.9L1097.9,460.4L1097.7,458.9L1097.5,457.4L1097.1,455.9L1097.1,454.4L1096.9,452.9L1096.5,454.4L1096.2,456.0L1095.8,457.6L1095.7,459.0L1096.0,460.4L1095.9,461.9L1095.9,463.3ZM1080.2,481.4L1081.5,481.9L1083.0,481.7L1084.4,482.4L1085.8,482.5L1087.2,482.0L1088.6,481.5L1090.0,481.1L1091.5,480.9L1092.9,480.4L1093.5,479.0L1093.8,477.5L1094.3,476.1L1094.3,474.5L1094.7,473.0L1095.0,471.5L1092.9,472.5L1092.8,474.3L1092.6,476.1L1091.2,476.4L1089.8,476.7L1088.4,477.1L1087.1,477.8L1085.7,478.3L1084.3,479.0L1083.0,479.7L1081.6,480.6ZM1078.7,485.6L1079.9,484.3L1081.3,483.2L1080.0,482.7L1078.7,482.1L1078.7,483.9ZM1082.3,482.9L1083.7,483.0L1085.1,482.5L1084.4,481.4L1082.6,481.8ZM1092.9,471.1L1093.4,469.7L1094.1,468.4L1094.4,466.9L1095.0,465.6L1096.3,466.0L1097.2,467.0L1098.4,467.4L1099.5,468.0L1100.7,468.5L1099.2,469.4L1097.9,470.4L1096.4,470.4L1095.0,470.2L1093.6,469.7ZM1065.3,498.2L1066.1,497.1L1066.5,495.7L1067.4,494.6L1066.0,494.3L1065.5,495.9L1064.7,497.2ZM1048.4,502.9L1049.8,502.4L1051.1,501.6L1051.8,502.3L1050.9,503.4L1049.8,504.3ZM1007.6,521.0L1007.7,519.4L1007.7,517.9L1007.8,516.3L1008.8,517.3L1009.5,518.5L1010.4,519.6L1009.3,521.7ZM1064.6,507.4L1064.6,505.6L1065.4,503.9L1067.8,503.9L1067.4,505.1L1068.1,506.5L1067.3,507.7L1067.4,509.0L1067.4,510.3L1069.1,511.1L1070.2,512.4L1068.7,511.7L1067.1,511.2L1065.6,510.6L1065.4,508.9ZM1067.4,520.3L1068.7,519.4L1070.0,518.7L1070.9,517.3L1072.4,516.7L1073.1,518.5L1073.8,520.3L1072.4,521.7L1070.2,521.0L1068.9,520.2ZM1066.7,514.6L1068.5,514.2L1070.2,513.9L1072.4,514.6L1071.0,515.5L1069.5,516.3L1068.2,515.3ZM1049.0,528.1L1049.2,529.6L1049.5,531.0L1050.4,532.3L1050.4,533.8L1051.8,534.2L1053.2,534.5L1054.6,534.8L1056.1,535.2L1057.5,535.0L1058.9,534.5L1059.1,533.1L1059.6,531.7L1060.3,530.0L1061.7,528.8L1062.5,527.5L1062.4,526.0L1063.0,524.6L1063.1,523.1L1062.1,522.3L1061.2,521.3L1060.3,520.3L1058.9,521.4L1058.2,523.1L1056.8,523.6L1055.8,524.8L1054.6,525.5L1053.6,526.6L1052.4,527.3L1051.1,527.8ZM1029.5,522.3L1030.6,523.4L1032.1,523.8L1033.4,524.5L1034.4,525.7L1035.7,526.5L1036.9,527.4L1037.7,528.4L1039.1,528.8L1039.9,529.9L1041.0,530.6L1041.9,531.7L1043.1,532.3L1043.8,533.6L1044.7,534.5L1044.6,535.9L1044.2,537.2L1044.4,538.5L1042.6,538.5L1041.4,537.8L1040.9,536.3L1039.7,535.6L1038.8,534.5L1037.6,533.8L1036.7,532.7L1036.2,531.3L1035.5,530.1L1034.8,528.9L1034.1,527.7L1032.9,526.8L1031.9,525.8L1031.4,524.4L1030.2,523.6ZM1043.6,539.9L1045.2,540.2L1046.7,539.4L1048.3,539.5L1049.7,539.1L1051.1,539.8L1052.5,539.4L1053.9,539.9L1055.3,540.7L1056.8,541.4L1056.5,542.6L1055.1,542.6L1053.7,542.6L1052.4,541.7L1051.1,541.3L1049.7,541.3L1048.3,541.4L1047.0,540.5L1045.4,540.5L1044.0,540.2ZM1063.1,535.2L1064.4,536.6L1065.3,538.2L1065.2,536.3L1066.0,534.5L1067.2,535.0L1068.4,535.6L1069.2,536.7L1068.9,535.2L1067.9,534.2L1067.4,532.9L1066.7,531.7L1068.1,531.0L1069.0,529.6L1070.5,529.1L1071.7,528.1L1070.3,528.8L1068.8,528.4L1067.4,528.8L1066.0,529.2L1064.6,529.1L1064.5,530.5L1063.9,531.7L1063.1,533.4ZM1080.2,532.4L1081.5,531.9L1083.1,532.1L1084.4,531.4L1085.8,532.0L1087.3,531.8L1088.6,532.3L1090.1,532.4L1091.6,532.5L1093.0,533.2L1094.3,534.0L1095.9,534.3L1097.0,535.3L1098.6,535.5L1099.8,536.4L1101.1,537.1L1102.6,538.1L1103.6,539.5L1104.3,540.8L1105.3,541.8L1106.1,543.0L1106.9,544.1L1107.8,545.2L1106.2,544.9L1104.5,544.7L1102.8,544.5L1102.0,543.5L1100.9,542.8L1099.8,542.2L1098.6,541.6L1097.5,542.4L1096.3,542.9L1095.0,543.4L1093.7,543.3L1092.5,542.9L1091.2,542.7L1090.1,542.1L1090.1,540.4L1089.4,538.8L1088.4,538.0L1087.2,537.5L1086.4,536.3L1085.1,536.0L1083.8,535.7L1082.7,535.0L1081.6,534.2ZM1056.1,561.6L1056.1,563.1L1055.6,564.4L1055.5,565.9L1055.3,567.3L1055.4,568.6L1056.1,569.8L1055.9,571.1L1056.4,572.4L1056.6,573.6L1056.9,574.9L1057.0,576.2L1057.2,577.4L1057.5,578.7L1058.9,579.2L1060.2,579.9L1061.7,580.1L1063.0,580.0L1064.3,579.7L1065.6,579.2L1066.9,579.1L1068.3,579.0L1069.5,578.6L1070.9,578.2L1072.2,577.5L1073.3,576.7L1074.8,576.6L1076.0,575.8L1077.3,575.3L1078.8,575.4L1080.1,576.0L1081.6,575.9L1083.0,576.1L1084.4,576.6L1086.1,576.6L1087.7,577.2L1089.4,577.3L1089.9,579.0L1090.1,580.8L1091.2,582.1L1092.6,583.1L1093.6,584.4L1094.9,584.4L1096.2,584.7L1097.5,584.7L1098.7,584.8L1100.0,585.1L1101.4,584.6L1102.8,584.4L1104.3,584.2L1105.6,583.5L1107.1,583.4L1107.5,582.1L1108.2,580.9L1108.8,579.7L1108.9,578.3L1109.4,577.0L1109.9,575.8L1110.5,574.6L1111.0,573.3L1111.6,572.1L1112.1,570.9L1112.0,569.2L1111.4,567.6L1111.4,565.9L1110.3,565.0L1109.4,564.0L1108.4,563.2L1107.7,561.9L1106.8,561.0L1105.7,560.2L1104.7,559.3L1103.4,558.8L1102.5,557.8L1101.4,557.0L1101.4,555.6L1101.1,554.2L1100.9,552.7L1100.4,551.3L1099.5,550.3L1098.6,549.1L1098.2,547.7L1097.1,546.8L1096.5,545.5L1095.5,547.0L1095.0,548.8L1095.2,550.2L1094.9,551.6L1095.2,553.0L1095.0,554.5L1092.9,555.2L1091.9,554.3L1090.6,553.8L1089.5,553.0L1088.5,552.2L1087.2,551.6L1087.5,550.2L1088.2,549.0L1088.7,547.6L1087.4,547.6L1086.2,546.9L1084.9,546.9L1083.5,547.2L1082.3,546.6L1081.1,547.4L1080.0,548.3L1078.7,548.8L1078.5,550.2L1078.0,551.6L1076.5,551.4L1075.2,550.6L1073.8,550.2L1072.6,551.1L1071.6,552.1L1070.2,552.6L1069.3,553.6L1068.1,554.5L1067.2,555.5L1066.6,556.8L1066.0,558.0L1064.5,558.4L1063.1,558.7L1061.7,559.0L1060.3,559.6L1058.8,560.1L1057.5,561.0ZM1099.6,588.2L1100.9,588.4L1102.1,588.3L1103.4,588.7L1104.7,588.5L1104.7,590.2L1104.3,591.8L1102.1,592.4L1101.1,591.5L1100.3,590.4ZM1139.3,579.4L1140.1,580.7L1141.3,581.8L1142.3,583.0L1143.6,583.0L1144.9,583.6L1146.2,583.7L1147.5,584.0L1146.4,585.1L1145.4,586.3L1144.8,587.7L1144.0,589.1L1142.1,589.1L1142.2,587.8L1142.5,586.5L1140.8,586.1L1141.1,584.8L1141.2,583.5L1141.7,582.3L1140.4,580.9ZM1139.3,588.0L1140.4,588.8L1141.6,589.4L1140.8,590.5L1140.2,591.6L1139.4,592.7L1138.1,593.5L1136.9,594.4L1135.5,595.5L1134.0,596.7L1132.3,596.2L1130.5,595.8L1130.8,594.5L1132.1,593.6L1133.3,592.7L1134.5,592.0L1135.6,591.3L1136.6,590.5L1137.6,589.7ZM964.3,547.4L964.9,548.5L965.2,549.8L965.4,551.2L966.0,552.3L965.0,554.5L964.4,555.6L964.1,556.9L964.0,558.2L963.6,559.5L962.9,560.6L962.5,561.9L962.1,563.1L961.9,564.4L961.3,565.6L959.8,566.1L958.2,566.6L957.7,565.3L957.0,564.1L956.6,562.7L955.8,561.6L956.0,560.2L956.5,558.9L956.3,557.4L956.8,556.1L956.8,554.7L957.2,553.3L958.5,553.0L959.8,552.8L961.0,552.3L961.7,551.0L962.5,549.7L963.7,548.7ZM1070.8,542.2L1072.2,542.3L1073.5,542.3L1074.9,542.2L1073.1,542.6L1071.7,543.8ZM1056.8,541.9L1058.0,542.1L1059.3,541.5L1060.6,542.2L1061.9,542.1L1063.1,541.9L1064.6,542.1L1066.0,542.3L1067.4,542.2L1068.8,542.1L1068.8,542.8L1067.4,543.1L1066.0,542.8L1064.6,542.4L1063.1,543.1L1061.7,542.5L1060.3,543.1L1058.9,542.4L1057.5,542.8ZM1075.8,534.8L1077.2,534.6L1078.5,535.2L1079.9,535.1L1078.6,535.1L1077.3,535.5ZM1105.0,538.1L1106.1,537.3L1107.6,537.5L1108.5,536.3L1109.9,536.2L1109.4,537.6L1108.5,538.8L1106.8,538.2ZM1127.2,559.0L1128.5,560.2L1129.8,561.1L1131.2,562.0L1129.8,561.3L1128.6,560.0ZM1075.2,528.8L1076.6,527.4L1076.2,529.2L1076.2,531.0ZM673.2,502.0L674.6,502.5L673.5,503.2ZM992.2,600.1L994.4,600.1L993.7,601.1ZM1145.4,555.2L1147.5,554.9L1146.8,556.2ZM1119.9,541.6L1121.4,542.6L1122.7,543.8L1121.3,543.9L1120.2,543.0ZM681.7,555.0L682.8,555.3L682.3,555.9ZM695.9,542.8L696.6,543.1L695.9,543.9ZM649.8,549.5L651.2,549.9L650.5,550.5ZM645.5,560.2L646.5,560.5L646.0,561.0ZM667.5,560.5L668.2,560.7L667.8,561.2ZM688.8,551.6L690.2,552.5L688.8,553.0ZM703.0,563.0L703.7,563.3L703.0,563.7ZM739.1,568.7L739.6,569.0L739.1,569.3ZM781.0,578.1L782.7,578.1L782.4,578.7ZM806.8,506.0L807.1,506.7L807.5,508.2L807.9,509.6L808.2,511.0L807.6,510.6L807.6,509.0L807.2,507.4ZM784.5,496.1L785.9,495.3L785.2,496.8ZM789.8,500.3L791.6,500.0L790.6,500.9ZM886.6,552.8L886.5,553.2L886.0,552.9ZM874.0,541.4L874.3,541.6L873.8,541.8ZM858.2,476.4L858.9,476.5L858.5,476.8ZM870.4,489.8L872.4,490.2L873.9,489.8L875.3,489.1L873.5,489.0L871.7,489.1ZM860.4,506.3L862.1,506.7L861.1,508.9L860.7,507.6ZM972.7,559.9L973.5,560.2L973.1,560.7ZM975.8,558.8L976.4,559.0L975.9,559.5ZM998.3,523.8L998.8,525.3L998.2,527.4L998.0,525.6ZM1025.6,511.7L1026.3,513.1L1025.8,515.3L1025.4,513.9ZM1131.2,551.6L1132.0,552.6L1132.6,553.8L1131.6,553.0ZM1136.9,520.3L1138.3,520.0L1137.6,520.6ZM670.6,499.5L671.8,500.0L670.1,499.9ZM667.8,498.6L668.5,498.9L668.1,499.0ZM1085.1,519.6L1085.4,520.3L1085.0,520.0ZM1099.6,510.9L1099.9,511.3L1099.4,511.4ZM1111.4,543.8L1112.1,542.5L1112.6,541.2L1113.4,540.0L1114.2,538.8L1115.6,539.5L1114.8,540.8L1114.0,542.1L1112.8,543.1ZM1105.0,534.5L1106.6,535.2L1108.3,534.6L1109.9,535.2L1108.8,534.7L1107.8,533.8L1106.3,533.7Z" fill="#E6E6FA" stroke="#4D4D4D" stroke-width="0.95" stroke-linejoin="round"/>
<path d="M910.0,418.0L911.4,417.9L912.2,419.3L913.3,420.0L915.0,419.4L915.6,421.3L917.1,421.1L918.5,420.8L919.9,420.3L921.3,419.9L922.9,420.5L924.1,419.2L925.6,419.1L927.0,418.5L928.2,417.3L930.2,418.3L930.9,415.9L932.7,416.2L931.4,415.5L930.1,416.8L928.9,416.1L927.5,416.7L926.3,415.2L925.0,415.4L923.8,414.9L922.4,416.3L921.2,415.7L919.9,415.5L918.4,415.1L917.0,415.2L915.6,415.1L914.2,415.5L912.8,416.4L911.4,416.3L910.0,416.5ZM961.0,415.5L962.4,414.9L963.7,416.4L965.0,414.6L966.4,415.0L967.7,416.1L969.0,415.7L970.4,416.5L971.7,416.3L973.0,415.2L974.3,415.0L975.7,416.2L977.0,415.1L978.3,415.8L979.7,415.4L981.0,414.8L982.3,415.5L981.0,414.6L979.6,414.2L978.1,414.3L976.6,414.1L975.4,415.2L974.0,414.2L972.8,415.2L971.4,413.9L970.2,415.2L968.9,415.6L967.5,414.7L966.2,414.4L964.9,414.3L963.6,414.5L962.3,415.0ZM967.4,428.4L968.6,429.4L969.9,429.2L971.1,429.8L972.4,429.9L973.8,429.6L974.2,428.3L975.8,427.8L975.9,426.2L977.4,425.7L978.8,425.2L979.2,423.0L981.0,423.0L982.3,422.2L983.7,422.4L985.0,422.0L986.2,420.9L987.6,421.7L988.8,420.5L990.3,421.3L991.5,420.8L990.3,420.2L988.9,421.6L987.7,419.7L986.4,421.5L985.2,420.5L983.8,420.4L982.7,421.5L981.3,421.1L979.9,420.5L978.6,420.7L977.4,421.0L976.1,421.2L974.8,421.6L973.6,422.0L972.4,422.7L970.8,423.7L970.3,425.5L969.6,426.8L968.3,427.4Z" fill="none" stroke="#4D4D4D" stroke-width="1.5" stroke-linejoin="round"/>
<path d="M934.1,471.4L935.8,471.5L938.6,471.7L941.6,470.4L944.3,470.4L947.6,471.7L950.4,471.8L953.2,471.1L953.4,469.5L951.1,468.4L948.3,467.0L946.4,465.8L944.3,466.1L941.9,466.8L940.5,465.6L941.9,464.7L939.4,463.8L937.5,464.7L936.4,465.8L935.1,467.3L933.7,469.5ZM944.0,465.0L948.7,463.0L950.0,463.1L947.6,464.7L946.2,465.6Z" fill="#fff" stroke="#4D4D4D" stroke-width="0.95" stroke-linejoin="round"/>
<path d="M960.8,466.7L961.8,465.1L964.2,464.1L967.0,463.1L969.7,463.6L969.8,465.7L967.1,466.8L965.7,467.1L969.1,470.4L969.4,472.8L970.8,474.8L970.8,477.1L966.7,477.8L964.2,476.8L963.7,475.4L964.4,472.8L963.2,470.7L961.8,469.0ZM977.4,464.4L981.6,464.4L980.9,466.8L978.1,467.6L977.1,466.1Z" fill="#EEEEF8" stroke="#4D4D4D" stroke-width="0.95" stroke-linejoin="round"/>
<path d="M660.4,453.0L654.8,454.7L649.1,455.7L642.0,456.6L634.9,456.1M1129.8,451.6L1139.0,454.9L1148.2,456.7M1116.3,458.1L1109.9,462.8L1102.8,466.8L1100.9,468.4" fill="none" stroke="#4D4D4D" stroke-width="1.1" stroke-dasharray="3 1.5"/>
<path d="M719.6,460.4L759.4,460.4L759.4,459.9L767.5,461.9L774.2,464.0L777.4,465.7L776.4,470.4L782.4,469.3L785.9,467.3L788.5,466.1L793.0,466.1L794.7,464.4L796.3,462.7L798.3,463.3L798.3,465.1L799.4,466.4M694.5,431.1L694.5,444.3L697.3,444.8L699.4,445.9L702.3,445.2L705.1,446.9L708.6,450.4L710.1,451.9M728.4,483.8L731.8,483.7L737.0,485.6L741.0,485.6L743.4,484.9L746.2,488.1L748.3,488.9L750.5,487.8L753.3,491.1L756.6,493.3M763.7,509.6L763.7,508.4L765.1,507.4L766.2,507.3L766.2,504.9L768.1,504.9L769.2,503.9M767.9,504.9L767.9,507.6M767.8,509.7L769.3,507.9M769.9,511.4L773.6,509.9L776.4,509.0M772.9,514.4L775.7,514.7M776.8,518.7L777.3,516.7M766.6,510.7L767.8,509.7M793.3,513.4L791.7,514.6L791.6,518.1L792.4,520.3L795.1,520.4L798.7,521.4L798.3,523.8L799.0,527.1L799.5,528.5M808.2,518.3L807.3,521.8L808.3,522.8L809.0,523.8M813.3,521.7L812.2,527.7M817.8,522.4L817.1,527.0M821.2,524.3L819.4,527.1L816.4,527.0L814.3,527.5L811.4,528.4L809.6,528.1L809.3,526.7L809.6,524.3L809.0,523.8L805.3,524.5L802.9,524.4L803.6,527.4L799.5,528.5L795.3,527.8M782.4,528.3L784.6,529.7L787.6,530.4L790.0,532.1L795.1,536.0M780.5,535.1L782.4,537.2L784.5,534.2L787.6,530.4M795.3,527.8L796.0,532.0L795.3,536.2L791.0,537.5L790.2,543.1L794.3,545.9M795.8,545.9L801.8,544.2L806.2,548.9L808.6,549.9L809.0,553.5L811.7,553.5L812.6,555.3L812.0,558.9L806.8,560.0L805.3,561.6L802.2,561.7L799.1,562.6L797.1,560.6L795.8,555.3L796.6,552.1L797.0,548.2L795.8,545.9M794.6,556.3L795.8,555.3M797.1,562.3L797.6,568.0L795.7,573.0L795.1,578.0L793.7,583.0L793.0,588.7L792.7,593.0L792.3,598.6L790.6,602.2L793.7,604.4L797.1,604.8M805.3,561.6L808.2,564.3L812.7,566.4L817.0,566.7L818.1,568.9L815.4,570.1L812.7,573.3L811.6,578.6M812.0,558.9L812.4,561.7L815.3,562.0L817.0,564.2L817.0,566.7M812.7,573.3L815.3,574.4L818.4,578.3M891.8,468.4L896.4,469.5L898.9,469.8M897.9,457.4L900.4,459.1L903.0,459.7L906.0,460.4L905.2,462.4L904.2,462.6L902.9,464.4L904.3,464.8L904.5,467.3L905.0,467.8M881.8,470.5L885.0,470.5L884.6,473.0L883.8,473.8L884.5,476.0L883.9,477.2M914.5,453.4L915.1,455.3L915.7,457.6M903.0,459.7L903.2,457.6L902.9,456.3L904.5,454.3M899.1,457.0L901.5,457.0L903.2,457.6M906.6,452.0L908.4,452.2M905.2,462.4L908.0,462.6L909.3,462.8L911.8,462.3L912.8,462.6L914.0,460.9L911.6,458.6L915.7,457.6M915.7,457.6L918.2,458.7L921.1,459.7L926.4,460.3M914.0,460.9L918.4,461.0L918.8,461.9L917.8,464.0L913.8,464.0L911.8,463.1L909.3,463.4L907.9,462.8M902.9,464.4L905.6,464.8L907.3,464.7L909.3,464.0M926.4,460.3L928.4,458.4L927.7,456.1L927.7,453.4L926.6,452.7L922.3,452.7M913.7,465.1L917.8,464.0L921.2,464.8L924.9,464.4L926.9,461.9L929.7,462.3L932.1,461.6L934.4,465.4L936.4,465.8M918.8,461.9L921.1,462.1L926.9,461.9M926.6,467.1L930.6,468.0L934.1,467.8M921.3,466.3L922.1,468.7L922.1,470.7M923.5,471.7L926.9,471.4L931.6,470.8L934.1,470.4M922.8,473.7L924.2,472.0L926.3,469.8L926.9,467.6M917.1,468.3L919.2,468.3L921.3,466.3L924.7,465.8L926.6,467.1M931.6,472.4L931.7,470.8M937.2,456.1L942.6,455.7L944.7,458.6L948.6,459.1L951.1,459.6L950.4,462.8L948.7,463.0M934.4,450.3L938.4,451.9L939.8,453.6L939.5,456.0M927.7,456.7L932.7,456.7L937.6,457.1M924.2,450.3L928.7,449.7L932.1,450.9L934.4,450.3L933.4,448.3L934.1,445.5M925.0,448.3L930.3,447.6L933.3,448.2M934.4,444.0L939.1,440.6L936.4,438.3L936.9,433.8L934.8,432.6L934.8,431.9L935.5,431.1L938.4,430.8M928.4,436.2L927.9,433.4L923.6,431.8L929.1,432.4L931.3,430.8L934.8,431.9M910.6,446.2L912.4,442.6L911.4,440.5L915.0,436.9L916.4,434.8L919.9,432.6L923.6,431.8M932.1,461.6L934.4,462.0L936.9,464.0L934.4,465.4M885.9,453.2L883.8,452.6L883.1,451.9M891.6,450.7L889.9,451.9M964.6,464.0L963.6,461.3L960.3,461.1L961.5,458.6L966.0,456.9L971.7,457.6L976.6,457.7L981.6,457.3L979.8,455.4L981.6,453.3L987.3,452.4L994.8,451.4L998.6,453.3L1003.4,452.7L1005.0,455.7L1010.7,457.9L1014.9,459.0L1018.2,460.1M1018.2,460.1L1016.1,462.6L1012.1,463.0L1011.5,465.7L1008.1,466.1L1008.3,470.1M1008.3,470.1L1000.8,469.5L995.1,470.0L991.5,472.3L988.0,470.4L982.3,468.3L977.4,465.4L973.1,466.1L969.8,470.4M1018.9,460.1L1024.9,458.0L1033.4,456.1L1039.0,457.1L1044.7,458.6L1047.5,459.7L1053.2,459.7L1059.9,459.1L1061.4,459.7M1018.9,460.1L1023.0,465.4L1029.5,467.3L1031.9,469.4L1038.8,469.7L1043.3,471.0L1050.4,469.5L1053.2,467.8L1056.8,465.6L1061.4,464.0L1064.1,463.3L1061.7,461.9L1061.4,459.7M1061.4,459.7L1064.6,455.2L1068.8,454.0L1075.2,459.4L1079.7,460.6L1085.5,461.4L1083.1,466.0L1080.6,467.4L1079.6,469.8M1079.6,469.8L1076.0,471.3L1073.1,472.5L1070.7,473.4M1073.2,476.5L1076.5,475.2M1008.3,470.1L1006.4,471.8L1000.8,473.2L999.3,475.2L1000.9,477.5L1004.7,479.7L1007.1,483.9L1006.1,485.6L1008.5,487.1L1010.0,486.9L1013.5,489.2L1019.2,490.5L1020.3,491.3L1024.9,490.6L1031.9,489.9L1034.1,493.9L1032.7,496.2L1035.5,498.8L1037.9,499.2L1039.3,498.3L1043.7,497.0L1045.7,497.8L1047.5,499.6M1008.3,489.4L1010.7,490.6L1014.9,491.8L1019.2,492.6M991.1,496.5L995.1,495.5L994.4,492.5L997.6,489.1L1000.2,486.1L1000.0,483.7L1000.8,481.8L1004.7,479.7M981.9,494.5L983.5,491.5L980.8,487.8L988.4,487.6L992.7,484.8L994.4,481.9L995.5,478.8L1000.0,477.5M980.8,487.8L981.6,485.4L980.3,482.5L981.2,479.5L978.1,476.8L971.0,477.1M981.2,479.5L985.9,477.5L990.5,477.2L993.7,476.8L995.8,476.2L1000.6,477.2M970.8,471.8L973.8,471.4L977.4,469.7L980.9,471.5L982.9,474.0L985.9,475.4L988.7,477.0M991.5,472.3L994.7,471.8L997.9,473.2L995.1,474.0L990.8,475.4L990.5,477.2M962.5,487.5L962.0,484.8L959.6,483.2L958.9,480.4L957.9,477.2L957.1,474.1L957.9,473.7M945.6,478.1L948.3,477.8L951.8,477.4L954.4,477.2L957.9,477.2M954.4,477.2L952.8,481.1L949.4,482.7L945.4,484.2L944.7,484.2M945.3,480.1L946.2,481.1L945.0,483.2L944.2,483.1M944.0,488.4L946.9,485.6L950.1,484.5L954.0,485.9L957.8,488.6L960.5,488.8L962.0,489.6M955.1,506.7L958.9,505.6L961.0,506.2L968.1,503.2L972.4,501.8L973.4,498.9L969.0,497.6L967.6,495.6M968.4,506.3L969.7,506.6L973.4,498.9M953.2,471.1L956.1,471.7L960.3,471.7L963.3,470.7M951.1,468.4L954.7,468.8L957.9,469.4L960.3,470.5L961.8,470.4M953.2,471.1L956.2,472.0L957.9,473.7M1032.7,506.9L1034.5,507.7L1034.9,511.7L1035.5,514.9M1036.3,501.2L1037.9,502.5L1037.5,505.2L1039.2,504.3L1042.9,505.5L1044.1,507.6L1044.0,509.9L1040.2,510.2L1039.9,512.9M1046.8,509.7L1045.4,513.6L1042.4,515.4M1039.3,498.3L1041.0,500.6L1042.7,503.2L1045.4,505.6L1046.8,509.7L1044.0,509.9M1036.3,501.2L1034.1,502.2L1032.5,503.9L1032.7,506.9M1037.9,499.2L1036.3,501.2M1036.5,521.0L1037.9,521.7L1039.2,521.4M1019.2,492.6L1021.7,492.8L1024.9,494.6L1025.3,499.8M1020.3,499.5L1020.0,496.2L1019.2,492.6M1049.8,527.4L1055.3,528.4L1058.2,525.7L1061.0,524.3M1094.3,534.0L1094.3,543.2M1071.5,543.1L1071.8,543.8M891.8,480.4L892.0,483.9L889.2,486.6L882.1,489.2L882.1,491.3M882.1,490.8L875.7,490.8M882.1,491.3L882.1,493.3L877.4,493.2L877.4,496.8L875.8,497.8L876.0,499.9L870.3,499.9M877.4,493.2L887.5,494.8L885.2,494.6L886.6,507.0L877.8,508.3L877.1,509.4M887.5,494.8L896.1,500.3L900.5,502.9L902.6,502.5L910.8,496.8M906.6,477.7L906.0,480.9L905.2,482.8L907.9,487.1L908.4,491.8L907.7,492.9L909.0,495.5L910.8,496.8M910.8,483.1L908.6,484.6L907.9,487.1M929.9,485.2L929.9,498.9L929.9,501.8L928.4,502.5L928.4,507.9M929.9,498.9L939.1,498.9L946.7,498.9M910.8,496.8L914.3,497.5L916.4,497.5L928.4,502.5M916.4,497.5L916.1,500.3L916.4,506.0L913.7,510.7M900.5,502.9L899.4,508.2L895.0,509.0L896.0,512.0L897.8,512.9L899.5,513.6L900.2,511.0L904.0,511.6L907.4,512.0L912.3,511.3L913.7,510.7M928.4,507.9L926.3,510.3L926.3,512.4L926.9,514.6L925.6,517.4M877.1,509.4L878.2,512.6L882.8,515.6L882.9,517.1L883.6,518.3L882.8,519.4L883.6,524.0M886.6,507.0L886.9,515.4L890.4,516.6L889.9,523.0M886.6,515.4L890.1,514.6L894.4,514.6L897.8,513.9M896.1,521.6L895.1,514.6M897.0,521.4L896.7,517.4L897.8,512.9M898.2,521.3L898.2,516.9L899.5,513.6M906.5,523.7L908.0,521.0L911.1,520.3L913.5,516.0L915.0,513.1L914.5,511.7M875.7,517.6L878.2,516.1L879.4,518.1L881.2,519.4L882.8,519.4M878.1,520.4L879.4,518.1M871.0,507.2L874.5,506.7L877.1,509.4M870.7,512.6L875.0,512.4L878.2,512.6M870.6,510.9L874.8,511.0M949.0,504.6L946.2,509.9L942.8,516.0L943.9,520.7L942.5,524.3M926.9,514.6L931.3,516.7L936.4,516.4L939.9,513.0L942.3,516.3M915.0,521.4L917.2,519.6L921.3,517.4L925.6,517.4L928.4,518.4L933.3,523.0L929.9,523.1L926.7,523.6L922.1,523.0L920.6,525.1L917.2,527.0L915.7,524.5L915.0,521.4M913.7,510.7L914.7,513.9L916.4,516.3L915.0,518.9L915.0,521.4M908.3,527.0L910.4,527.1L913.3,527.1L917.2,527.0M910.1,535.8L911.0,533.8L914.7,533.4L915.0,531.0L914.0,528.3L913.3,527.1M908.3,528.7L910.4,528.8L910.4,527.1M920.6,525.1L920.2,530.2L919.5,535.2L917.5,538.5L911.8,538.8M933.3,523.0L938.1,525.3L936.4,532.2L935.9,536.7L937.6,541.6L935.4,542.4L935.1,547.4L936.7,549.1L932.0,547.2L928.3,545.8L925.6,543.8L925.3,540.7L921.9,540.5L919.2,541.8L917.5,538.5M911.1,554.9L913.4,554.5L920.6,555.0L927.3,555.2L930.1,555.6M925.5,548.8L928.3,545.8M925.6,548.8L925.6,553.3L927.3,555.2M922.8,561.6L922.8,565.6L922.8,570.7L917.8,571.0M922.8,561.6L924.2,555.9M922.8,565.6L927.0,566.3L930.8,566.4L932.7,564.5L936.1,561.7L933.4,559.5L930.3,555.6M930.1,555.6L935.4,553.0L937.5,552.5L941.1,554.0L940.6,559.9L938.8,562.2M938.8,562.2L939.8,566.6L941.1,568.4M932.7,572.3L936.1,572.0L934.8,573.9L933.3,573.4L932.7,572.3M937.5,552.5L941.2,550.2L944.7,550.9L944.7,554.5L943.3,550.2L943.6,546.6L943.0,544.1L941.2,543.6L937.9,542.1M943.6,546.6L947.6,546.8L951.7,545.1M950.0,536.9L947.9,534.7L942.8,531.7L936.4,532.2M938.1,525.3L942.5,524.3L944.0,528.1L942.8,531.7M942.5,524.3L945.4,523.8L948.4,525.1L952.5,524.7L953.7,527.3L952.5,532.7M952.5,524.7L955.4,523.1L958.2,523.1L962.2,518.9L956.8,517.4L955.8,516.7L955.1,514.6M942.3,516.3L942.8,518.9L944.0,523.1L942.5,524.3M946.2,509.9L948.9,509.7L951.1,509.4L954.4,512.4M936.4,532.2L937.6,533.8L935.9,536.7" fill="none" stroke="#505050" stroke-width="0.8" stroke-linejoin="round"/>
<path d="M756.1,476.3 L756.10,469.00 A7.3,7.3 0 1 1 755.08,469.07 Z" fill="#F25A60" stroke="#fff" stroke-width="0.6"/><path d="M756.1,476.3 L755.08,469.07 A7.3,7.3 0 0 1 756.10,469.00 Z" fill="#EAA256" stroke="#fff" stroke-width="0.6"/>
<path d="M767.2,506.7 L768.77,502.38 A4.6,4.6 0 0 1 771.80,506.70 Z" fill="#F25A60" stroke="#fff" stroke-width="0.6"/><path d="M767.2,506.7 L771.80,506.70 A4.6,4.6 0 0 1 762.67,507.50 Z" fill="#3B79B3" stroke="#fff" stroke-width="0.6"/><path d="M767.2,506.7 L762.67,507.50 A4.6,4.6 0 0 1 768.77,502.38 Z" fill="#EAA256" stroke="#fff" stroke-width="0.6"/>
<path d="M803.5,554.2 L803.50,546.50 A7.7,7.7 0 1 1 795.87,555.27 Z" fill="#F25A60" stroke="#fff" stroke-width="0.6"/><path d="M803.5,554.2 L795.87,555.27 A7.7,7.7 0 0 1 798.35,548.48 Z" fill="#3B79B3" stroke="#fff" stroke-width="0.6"/><path d="M803.5,554.2 L798.35,548.48 A7.7,7.7 0 0 1 803.50,546.50 Z" fill="#EAA256" stroke="#fff" stroke-width="0.6"/>
<path d="M914.3,461.3 L914.30,451.80 A9.5,9.5 0 1 1 913.14,451.87 Z" fill="#F25A60" stroke="#fff" stroke-width="0.6"/><path d="M914.3,461.3 L913.14,451.87 A9.5,9.5 0 0 1 914.30,451.80 Z" fill="#EAA256" stroke="#fff" stroke-width="0.6"/>
<path d="M929.5,502.1 L929.50,499.50 A2.6,2.6 0 1 1 928.20,499.85 Z" fill="#F25A60" stroke="#fff" stroke-width="0.6"/><path d="M929.5,502.1 L928.20,499.85 A2.6,2.6 0 0 1 929.50,499.50 Z" fill="#EAA256" stroke="#fff" stroke-width="0.6"/>
<path d="M887.4,516.0 L887.40,506.80 A9.2,9.2 0 0 1 889.78,524.89 Z" fill="#F25A60" stroke="#fff" stroke-width="0.6"/><path d="M887.4,516.0 L889.78,524.89 A9.2,9.2 0 0 1 878.51,518.38 Z" fill="#3B79B3" stroke="#fff" stroke-width="0.6"/><path d="M887.4,516.0 L878.51,518.38 A9.2,9.2 0 0 1 887.40,506.80 Z" fill="#EAA256" stroke="#fff" stroke-width="0.6"/>
<path d="M947.7,537.5 L947.70,532.30 A5.2,5.2 0 0 1 949.90,532.79 Z" fill="#F25A60" stroke="#fff" stroke-width="0.6"/><path d="M947.7,537.5 L949.90,532.79 A5.2,5.2 0 0 1 951.96,534.52 Z" fill="#3B79B3" stroke="#fff" stroke-width="0.6"/><path d="M947.7,537.5 L951.96,534.52 A5.2,5.2 0 1 1 947.70,532.30 Z" fill="#EAA256" stroke="#fff" stroke-width="0.6"/>
<path d="M960.8,558.2 L960.80,549.60 A8.6,8.6 0 0 1 968.39,562.24 Z" fill="#F25A60" stroke="#fff" stroke-width="0.6"/><path d="M960.8,558.2 L968.39,562.24 A8.6,8.6 0 0 1 952.83,554.98 Z" fill="#3B79B3" stroke="#fff" stroke-width="0.6"/><path d="M960.8,558.2 L952.83,554.98 A8.6,8.6 0 0 1 957.86,550.12 Z" fill="#EAA256" stroke="#fff" stroke-width="0.6"/><path d="M960.8,558.2 L957.86,550.12 A8.6,8.6 0 0 1 960.80,549.60 Z" fill="#F25A60" stroke="#fff" stroke-width="0.6"/>
<path d="M1043.1,480.8 L1043.10,470.40 A10.4,10.4 0 0 1 1053.34,482.61 Z" fill="#F25A60" stroke="#fff" stroke-width="0.6"/><path d="M1043.1,480.8 L1053.34,482.61 A10.4,10.4 0 0 1 1046.66,490.57 Z" fill="#3B79B3" stroke="#fff" stroke-width="0.6"/><path d="M1043.1,480.8 L1046.66,490.57 A10.4,10.4 0 1 1 1043.10,470.40 Z" fill="#EAA256" stroke="#fff" stroke-width="0.6"/>
<path d="M1089.7,479.4 L1089.70,470.90 A8.5,8.5 0 1 1 1082.34,475.15 Z" fill="#F25A60" stroke="#fff" stroke-width="0.6"/><path d="M1089.7,479.4 L1082.34,475.15 A8.5,8.5 0 0 1 1085.45,472.04 Z" fill="#3B79B3" stroke="#fff" stroke-width="0.6"/><path d="M1089.7,479.4 L1085.45,472.04 A8.5,8.5 0 0 1 1089.70,470.90 Z" fill="#EAA256" stroke="#fff" stroke-width="0.6"/>
<path d="M1003.1,501.8 L1003.10,492.10 A9.7,9.7 0 0 1 1012.22,498.48 Z" fill="#F25A60" stroke="#fff" stroke-width="0.6"/><path d="M1003.1,501.8 L1012.22,498.48 A9.7,9.7 0 0 1 1001.42,511.35 Z" fill="#3B79B3" stroke="#fff" stroke-width="0.6"/><path d="M1003.1,501.8 L1001.42,511.35 A9.7,9.7 0 0 1 1003.10,492.10 Z" fill="#EAA256" stroke="#fff" stroke-width="0.6"/>
<path d="M1022.4,495.0 L1022.40,487.40 A7.6,7.6 0 0 1 1028.98,491.20 Z" fill="#F25A60" stroke="#fff" stroke-width="0.6"/><path d="M1022.4,495.0 L1028.98,491.20 A7.6,7.6 0 0 1 1029.54,497.60 Z" fill="#3B79B3" stroke="#fff" stroke-width="0.6"/><path d="M1022.4,495.0 L1029.54,497.60 A7.6,7.6 0 1 1 1022.40,487.40 Z" fill="#EAA256" stroke="#fff" stroke-width="0.6"/>
<path d="M1044.0,512.2 L1044.00,501.20 A11.0,11.0 0 0 1 1054.34,515.96 Z" fill="#F25A60" stroke="#fff" stroke-width="0.6"/><path d="M1044.0,512.2 L1054.34,515.96 A11.0,11.0 0 0 1 1049.50,521.73 Z" fill="#3B79B3" stroke="#fff" stroke-width="0.6"/><path d="M1044.0,512.2 L1049.50,521.73 A11.0,11.0 0 1 1 1044.00,501.20 Z" fill="#EAA256" stroke="#fff" stroke-width="0.6"/>
<path d="M1056.9,526.8 L1056.90,515.30 A11.5,11.5 0 1 1 1054.90,538.13 Z" fill="#F25A60" stroke="#fff" stroke-width="0.6"/><path d="M1056.9,526.8 L1054.90,538.13 A11.5,11.5 0 0 1 1046.09,522.87 Z" fill="#3B79B3" stroke="#fff" stroke-width="0.6"/><path d="M1056.9,526.8 L1046.09,522.87 A11.5,11.5 0 0 1 1056.90,515.30 Z" fill="#EAA256" stroke="#fff" stroke-width="0.6"/>
<path d="M1085.1,550.3 L1085.10,546.70 A3.6,3.6 0 1 1 1083.30,547.18 Z" fill="#F25A60" stroke="#fff" stroke-width="0.6"/><path d="M1085.1,550.3 L1083.30,547.18 A3.6,3.6 0 0 1 1085.10,546.70 Z" fill="#EAA256" stroke="#fff" stroke-width="0.6"/>
<rect x="1151.5" y="474.2" width="8.8" height="8.5" fill="#F25A60"/>
<text x="1163.4" y="482.8" font-size="13.3">Hap 1</text>
<rect x="1151.5" y="489.1" width="8.8" height="8.5" fill="#3B79B3"/>
<text x="1163.4" y="497.7" font-size="13.3">Hap 2</text>
<rect x="1151.5" y="504.0" width="8.8" height="8.5" fill="#EAA256"/>
<text x="1163.4" y="512.6" font-size="13.3">Hap 3</text>
<text x="1148" y="611" font-size="6.8" style="stroke-width:0">log2Count</text>
<line x1="1163.3" y1="618.3" x2="1180" y2="618.3" stroke="#111" stroke-width="0.6"/>
<line x1="1163.3" y1="624.2" x2="1180" y2="624.2" stroke="#111" stroke-width="0.6"/>
<line x1="1163.3" y1="629.5" x2="1180" y2="629.5" stroke="#111" stroke-width="0.6"/>
<line x1="1163.3" y1="635.2" x2="1180" y2="635.2" stroke="#111" stroke-width="0.6"/>
<line x1="1163.3" y1="641.3" x2="1180" y2="641.3" stroke="#111" stroke-width="0.6"/>
<circle cx="1163.3" cy="629.80" r="11.5" fill="none" stroke="#111" stroke-width="0.9"/>
<circle cx="1163.3" cy="632.75" r="8.55" fill="none" stroke="#111" stroke-width="0.9"/>
<circle cx="1163.3" cy="635.30" r="6.0" fill="none" stroke="#111" stroke-width="0.9"/>
<circle cx="1163.3" cy="638.00" r="3.3" fill="none" stroke="#111" stroke-width="0.9"/>
<circle cx="1163.3" cy="639.70" r="1.6" fill="none" stroke="#111" stroke-width="0.9"/>
<text x="0" y="0" font-size="6.5" text-anchor="middle" style="stroke-width:0.1" transform="translate(1181.2,618.3) rotate(90)">8</text>
<text x="0" y="0" font-size="6.5" text-anchor="middle" style="stroke-width:0.1" transform="translate(1181.2,624.2) rotate(90)">6</text>
<text x="0" y="0" font-size="6.5" text-anchor="middle" style="stroke-width:0.1" transform="translate(1181.2,629.5) rotate(90)">4</text>
<text x="0" y="0" font-size="6.5" text-anchor="middle" style="stroke-width:0.1" transform="translate(1181.2,635.2) rotate(90)">2</text>
<text x="0" y="0" font-size="6.5" text-anchor="middle" style="stroke-width:0.1" transform="translate(1181.2,641.3) rotate(90)">0</text>
</svg>
<rect x="611.4" y="400.5" width="597.3" height="262.7" fill="none" stroke="#6A6A6A" stroke-width="1.05"/>
<line x1="608.4" y1="459.0" x2="611.4" y2="459.0" stroke="#555" stroke-width="1"/>
<text x="606.4" y="464.3" font-size="15" text-anchor="end">50</text>
<line x1="608.4" y1="530.2" x2="611.4" y2="530.2" stroke="#555" stroke-width="1"/>
<text x="606.4" y="535.5" font-size="15" text-anchor="end">0</text>
<line x1="608.4" y1="601.5" x2="611.4" y2="601.5" stroke="#555" stroke-width="1"/>
<text x="606.4" y="606.8" font-size="15" text-anchor="end">-50</text>
<line x1="752.6" y1="663.2" x2="752.6" y2="666.2" stroke="#555" stroke-width="1"/>
<text x="749.1" y="680.3" font-size="15" text-anchor="middle">-100</text>
<line x1="894.4" y1="663.2" x2="894.4" y2="666.2" stroke="#555" stroke-width="1"/>
<text x="894.4" y="680.3" font-size="15" text-anchor="middle">0</text>
<line x1="1036.2" y1="663.2" x2="1036.2" y2="666.2" stroke="#555" stroke-width="1"/>
<text x="1036.2" y="680.3" font-size="15" text-anchor="middle">100</text>
<line x1="1178.0" y1="663.2" x2="1178.0" y2="666.2" stroke="#555" stroke-width="1"/>
<text x="1178.0" y="680.3" font-size="15" text-anchor="middle">200</text>
<text x="0" y="0" font-size="15.8" text-anchor="middle" transform="translate(583,528.5) rotate(-90)">Latitude</text>
<text x="891" y="697" font-size="15.8">Longitude</text>
</svg></body></html>
